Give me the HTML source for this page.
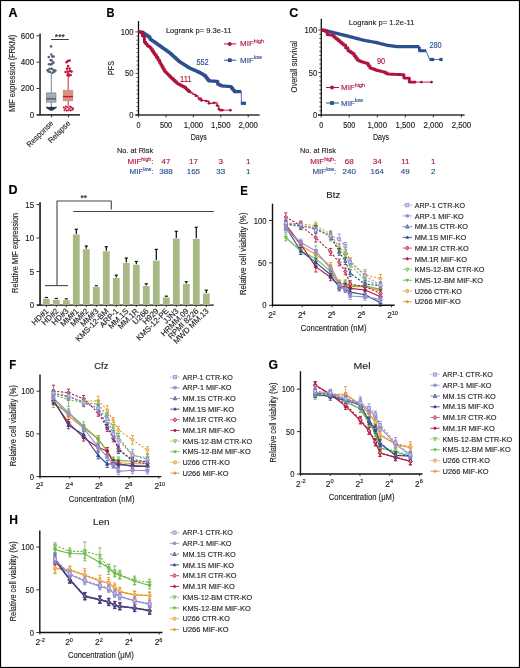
<!DOCTYPE html>
<html><head><meta charset="utf-8"><style>
html,body{margin:0;padding:0;background:#fff;}
svg{display:block;font-family:"Liberation Sans",sans-serif;will-change:transform;}
</style></head><body>
<svg width="520" height="668" viewBox="0 0 520 668">
<rect x="0" y="0" width="520" height="668" fill="#fff"/>
<text x="8.60" y="17.20" font-size="12.5" fill="#000" stroke="#000" stroke-width="0.15" font-weight="bold">A</text>
<text x="15.20" y="73.30" font-size="8.8" fill="#231f20" stroke="#231f20" stroke-width="0.15" text-anchor="middle" textLength="77.00" lengthAdjust="spacingAndGlyphs" transform="rotate(-90 15.20 73.30)">MIF expression (FRKM)</text>
<text x="34.20" y="38.78" font-size="8.4" fill="#231f20" stroke="#231f20" stroke-width="0.15" text-anchor="end" textLength="13.35" lengthAdjust="spacingAndGlyphs">600</text>
<line x1="36.50" y1="35.78" x2="39.70" y2="35.78" stroke="#231f20" stroke-width="0.9"/>
<text x="34.20" y="65.12" font-size="8.4" fill="#231f20" stroke="#231f20" stroke-width="0.15" text-anchor="end" textLength="13.35" lengthAdjust="spacingAndGlyphs">400</text>
<line x1="36.50" y1="62.12" x2="39.70" y2="62.12" stroke="#231f20" stroke-width="0.9"/>
<text x="34.20" y="91.46" font-size="8.4" fill="#231f20" stroke="#231f20" stroke-width="0.15" text-anchor="end" textLength="13.35" lengthAdjust="spacingAndGlyphs">200</text>
<line x1="36.50" y1="88.46" x2="39.70" y2="88.46" stroke="#231f20" stroke-width="0.9"/>
<text x="34.20" y="117.80" font-size="8.4" fill="#231f20" stroke="#231f20" stroke-width="0.15" text-anchor="end" textLength="4.45" lengthAdjust="spacingAndGlyphs">0</text>
<line x1="36.50" y1="114.80" x2="39.70" y2="114.80" stroke="#231f20" stroke-width="0.9"/>
<line x1="40.05" y1="33.50" x2="40.05" y2="115.60" stroke="#444" stroke-width="1.8"/>
<line x1="36.90" y1="114.90" x2="80.00" y2="114.90" stroke="#3c3c3c" stroke-width="1.7"/>
<line x1="51.60" y1="114.90" x2="51.60" y2="117.40" stroke="#231f20" stroke-width="0.9"/>
<line x1="68.50" y1="114.90" x2="68.50" y2="117.40" stroke="#231f20" stroke-width="0.9"/>
<text x="53.80" y="123.80" font-size="8.0" fill="#231f20" stroke="#231f20" stroke-width="0.15" text-anchor="end" textLength="34.00" lengthAdjust="spacingAndGlyphs" transform="rotate(-45 53.80 123.80)">Response</text>
<text x="71.00" y="123.80" font-size="8.0" fill="#231f20" stroke="#231f20" stroke-width="0.15" text-anchor="end" textLength="28.00" lengthAdjust="spacingAndGlyphs" transform="rotate(-45 71.00 123.80)">Relapse</text>
<line x1="51.20" y1="39.50" x2="68.70" y2="39.50" stroke="#3a3a3a" stroke-width="1.0"/>
<text x="59.80" y="39.60" font-size="8.5" fill="#222" stroke="#222" stroke-width="0.15" text-anchor="middle">***</text>
<line x1="51.30" y1="72.90" x2="51.30" y2="92.80" stroke="#6f7788" stroke-width="0.9"/>
<line x1="51.30" y1="102.20" x2="51.30" y2="107.00" stroke="#6f7788" stroke-width="0.9"/>
<rect x="46.30" y="92.90" width="9.70" height="9.30" fill="#a2a7b4" stroke="#6f7788" stroke-width="0.6"/>
<line x1="46.30" y1="98.80" x2="56.00" y2="98.80" stroke="#596073" stroke-width="1.5"/>
<line x1="46.30" y1="95.20" x2="56.00" y2="95.20" stroke="#b8bcc6" stroke-width="0.5"/>
<line x1="46.30" y1="101.00" x2="56.00" y2="101.00" stroke="#b8bcc6" stroke-width="0.5"/>
<path d="M45.8,106.6 Q48.5,107.6 51.3,106.4 Q54.2,107.6 57.0,106.6 L56.2,108.2 L52.2,110.8 L50.4,110.8 L46.5,108.2 Z" fill="#2c3850"/>
<circle cx="51.10" cy="46.40" r="1.3" fill="#56607a" stroke="none" stroke-width="0"/>
<circle cx="51.30" cy="54.50" r="1.3" fill="#56607a" stroke="none" stroke-width="0"/>
<circle cx="48.80" cy="57.00" r="1.3" fill="#56607a" stroke="none" stroke-width="0"/>
<circle cx="52.30" cy="56.60" r="1.3" fill="#56607a" stroke="none" stroke-width="0"/>
<circle cx="53.60" cy="56.50" r="1.3" fill="#56607a" stroke="none" stroke-width="0"/>
<circle cx="50.50" cy="60.00" r="1.3" fill="#56607a" stroke="none" stroke-width="0"/>
<circle cx="51.80" cy="60.50" r="1.3" fill="#56607a" stroke="none" stroke-width="0"/>
<circle cx="49.00" cy="64.30" r="1.3" fill="#56607a" stroke="none" stroke-width="0"/>
<circle cx="51.00" cy="64.50" r="1.3" fill="#56607a" stroke="none" stroke-width="0"/>
<circle cx="53.50" cy="62.60" r="1.3" fill="#56607a" stroke="none" stroke-width="0"/>
<circle cx="52.20" cy="63.60" r="1.3" fill="#56607a" stroke="none" stroke-width="0"/>
<circle cx="47.60" cy="70.30" r="1.3" fill="#56607a" stroke="none" stroke-width="0"/>
<circle cx="49.50" cy="69.00" r="1.3" fill="#56607a" stroke="none" stroke-width="0"/>
<circle cx="51.60" cy="68.60" r="1.3" fill="#56607a" stroke="none" stroke-width="0"/>
<circle cx="53.50" cy="70.00" r="1.3" fill="#56607a" stroke="none" stroke-width="0"/>
<circle cx="55.40" cy="70.50" r="1.3" fill="#56607a" stroke="none" stroke-width="0"/>
<circle cx="50.00" cy="72.00" r="1.3" fill="#56607a" stroke="none" stroke-width="0"/>
<circle cx="52.60" cy="72.80" r="1.3" fill="#56607a" stroke="none" stroke-width="0"/>
<circle cx="48.50" cy="71.50" r="1.3" fill="#56607a" stroke="none" stroke-width="0"/>
<circle cx="54.30" cy="71.80" r="1.3" fill="#56607a" stroke="none" stroke-width="0"/>
<line x1="68.20" y1="75.10" x2="68.20" y2="90.10" stroke="#b8193c" stroke-width="0.9"/>
<line x1="68.20" y1="100.90" x2="68.20" y2="106.60" stroke="#b8193c" stroke-width="0.9"/>
<rect x="63.10" y="90.10" width="9.80" height="10.80" fill="#d49482" stroke="#c98673" stroke-width="0.5"/>
<line x1="63.10" y1="96.60" x2="72.90" y2="96.60" stroke="#b8193c" stroke-width="1.4"/>
<circle cx="66.60" cy="62.20" r="1.3" fill="#b8193c" stroke="none" stroke-width="0"/>
<circle cx="67.80" cy="61.00" r="1.3" fill="#b8193c" stroke="none" stroke-width="0"/>
<circle cx="69.60" cy="60.50" r="1.3" fill="#b8193c" stroke="none" stroke-width="0"/>
<circle cx="68.10" cy="66.00" r="1.3" fill="#b8193c" stroke="none" stroke-width="0"/>
<circle cx="67.00" cy="68.60" r="1.3" fill="#b8193c" stroke="none" stroke-width="0"/>
<circle cx="69.60" cy="68.50" r="1.3" fill="#b8193c" stroke="none" stroke-width="0"/>
<circle cx="65.60" cy="72.00" r="1.3" fill="#b8193c" stroke="none" stroke-width="0"/>
<circle cx="67.60" cy="71.50" r="1.3" fill="#b8193c" stroke="none" stroke-width="0"/>
<circle cx="70.00" cy="71.00" r="1.3" fill="#b8193c" stroke="none" stroke-width="0"/>
<circle cx="71.50" cy="71.60" r="1.3" fill="#b8193c" stroke="none" stroke-width="0"/>
<circle cx="67.60" cy="75.20" r="1.3" fill="#b8193c" stroke="none" stroke-width="0"/>
<circle cx="69.00" cy="75.60" r="1.3" fill="#b8193c" stroke="none" stroke-width="0"/>
<circle cx="70.60" cy="75.00" r="1.3" fill="#b8193c" stroke="none" stroke-width="0"/>
<circle cx="68.20" cy="73.50" r="1.3" fill="#b8193c" stroke="none" stroke-width="0"/>
<circle cx="63.80" cy="107.50" r="1.05" fill="#b8193c" stroke="none" stroke-width="0"/>
<circle cx="65.50" cy="108.80" r="1.05" fill="#b8193c" stroke="none" stroke-width="0"/>
<circle cx="67.50" cy="107.20" r="1.05" fill="#b8193c" stroke="none" stroke-width="0"/>
<circle cx="69.30" cy="108.50" r="1.05" fill="#b8193c" stroke="none" stroke-width="0"/>
<circle cx="71.20" cy="107.50" r="1.05" fill="#b8193c" stroke="none" stroke-width="0"/>
<circle cx="73.00" cy="108.30" r="1.05" fill="#b8193c" stroke="none" stroke-width="0"/>
<circle cx="64.50" cy="110.20" r="1.05" fill="#b8193c" stroke="none" stroke-width="0"/>
<circle cx="66.80" cy="110.60" r="1.05" fill="#b8193c" stroke="none" stroke-width="0"/>
<circle cx="68.80" cy="110.20" r="1.05" fill="#b8193c" stroke="none" stroke-width="0"/>
<circle cx="70.80" cy="110.40" r="1.05" fill="#b8193c" stroke="none" stroke-width="0"/>
<circle cx="72.60" cy="109.80" r="1.05" fill="#b8193c" stroke="none" stroke-width="0"/>
<circle cx="65.80" cy="106.60" r="1.05" fill="#b8193c" stroke="none" stroke-width="0"/>
<circle cx="70.30" cy="106.60" r="1.05" fill="#b8193c" stroke="none" stroke-width="0"/>
<text x="106.60" y="17.20" font-size="12.5" fill="#000" stroke="#000" stroke-width="0.15" font-weight="bold" textLength="8.00" lengthAdjust="spacingAndGlyphs">B</text>
<line x1="138.50" y1="21.00" x2="138.50" y2="115.90" stroke="#111" stroke-width="1.3"/>
<line x1="135.30" y1="115.00" x2="259.71" y2="115.00" stroke="#333" stroke-width="1.5"/>
<line x1="135.50" y1="114.90" x2="138.50" y2="114.90" stroke="#231f20" stroke-width="0.8"/>
<line x1="136.50" y1="110.75" x2="138.50" y2="110.75" stroke="#231f20" stroke-width="0.8"/>
<line x1="136.50" y1="106.60" x2="138.50" y2="106.60" stroke="#231f20" stroke-width="0.8"/>
<line x1="136.50" y1="102.45" x2="138.50" y2="102.45" stroke="#231f20" stroke-width="0.8"/>
<line x1="136.50" y1="98.30" x2="138.50" y2="98.30" stroke="#231f20" stroke-width="0.8"/>
<line x1="136.50" y1="94.15" x2="138.50" y2="94.15" stroke="#231f20" stroke-width="0.8"/>
<line x1="136.50" y1="90.00" x2="138.50" y2="90.00" stroke="#231f20" stroke-width="0.8"/>
<line x1="136.50" y1="85.85" x2="138.50" y2="85.85" stroke="#231f20" stroke-width="0.8"/>
<line x1="136.50" y1="81.70" x2="138.50" y2="81.70" stroke="#231f20" stroke-width="0.8"/>
<line x1="136.50" y1="77.55" x2="138.50" y2="77.55" stroke="#231f20" stroke-width="0.8"/>
<line x1="135.50" y1="73.40" x2="138.50" y2="73.40" stroke="#231f20" stroke-width="0.8"/>
<line x1="136.50" y1="69.25" x2="138.50" y2="69.25" stroke="#231f20" stroke-width="0.8"/>
<line x1="136.50" y1="65.10" x2="138.50" y2="65.10" stroke="#231f20" stroke-width="0.8"/>
<line x1="136.50" y1="60.95" x2="138.50" y2="60.95" stroke="#231f20" stroke-width="0.8"/>
<line x1="136.50" y1="56.80" x2="138.50" y2="56.80" stroke="#231f20" stroke-width="0.8"/>
<line x1="136.50" y1="52.65" x2="138.50" y2="52.65" stroke="#231f20" stroke-width="0.8"/>
<line x1="136.50" y1="48.50" x2="138.50" y2="48.50" stroke="#231f20" stroke-width="0.8"/>
<line x1="136.50" y1="44.35" x2="138.50" y2="44.35" stroke="#231f20" stroke-width="0.8"/>
<line x1="136.50" y1="40.20" x2="138.50" y2="40.20" stroke="#231f20" stroke-width="0.8"/>
<line x1="136.50" y1="36.05" x2="138.50" y2="36.05" stroke="#231f20" stroke-width="0.8"/>
<line x1="135.50" y1="31.90" x2="138.50" y2="31.90" stroke="#231f20" stroke-width="0.8"/>
<text x="133.60" y="117.90" font-size="8.4" fill="#231f20" stroke="#231f20" stroke-width="0.15" text-anchor="end" textLength="4.25" lengthAdjust="spacingAndGlyphs">0</text>
<text x="133.60" y="76.40" font-size="8.4" fill="#231f20" stroke="#231f20" stroke-width="0.15" text-anchor="end" textLength="8.50" lengthAdjust="spacingAndGlyphs">50</text>
<text x="133.60" y="34.90" font-size="8.4" fill="#231f20" stroke="#231f20" stroke-width="0.15" text-anchor="end" textLength="12.75" lengthAdjust="spacingAndGlyphs">100</text>
<line x1="138.60" y1="114.90" x2="138.60" y2="117.40" stroke="#231f20" stroke-width="0.9"/>
<text x="138.60" y="127.80" font-size="8.2" fill="#231f20" stroke="#231f20" stroke-width="0.15" text-anchor="middle" textLength="4.05" lengthAdjust="spacingAndGlyphs">0</text>
<line x1="166.00" y1="114.90" x2="166.00" y2="117.40" stroke="#231f20" stroke-width="0.9"/>
<text x="166.00" y="127.80" font-size="8.2" fill="#231f20" stroke="#231f20" stroke-width="0.15" text-anchor="middle" textLength="12.15" lengthAdjust="spacingAndGlyphs">500</text>
<line x1="193.40" y1="114.90" x2="193.40" y2="117.40" stroke="#231f20" stroke-width="0.9"/>
<text x="193.40" y="127.80" font-size="8.2" fill="#231f20" stroke="#231f20" stroke-width="0.15" text-anchor="middle" textLength="19.50" lengthAdjust="spacingAndGlyphs">1,000</text>
<line x1="220.80" y1="114.90" x2="220.80" y2="117.40" stroke="#231f20" stroke-width="0.9"/>
<text x="220.80" y="127.80" font-size="8.2" fill="#231f20" stroke="#231f20" stroke-width="0.15" text-anchor="middle" textLength="19.50" lengthAdjust="spacingAndGlyphs">1,500</text>
<line x1="248.20" y1="114.90" x2="248.20" y2="117.40" stroke="#231f20" stroke-width="0.9"/>
<text x="248.20" y="127.80" font-size="8.2" fill="#231f20" stroke="#231f20" stroke-width="0.15" text-anchor="middle" textLength="19.50" lengthAdjust="spacingAndGlyphs">2,000</text>
<text x="113.60" y="68.00" font-size="8.4" fill="#231f20" stroke="#231f20" stroke-width="0.15" text-anchor="middle" textLength="13.80" lengthAdjust="spacingAndGlyphs" transform="rotate(-90 113.60 68.00)">PFS</text>
<text x="198.80" y="140.40" font-size="9.3" fill="#231f20" stroke="#231f20" stroke-width="0.15" text-anchor="middle" textLength="16.10" lengthAdjust="spacingAndGlyphs">Days</text>
<text x="165.90" y="32.80" font-size="8.0" fill="#231f20" stroke="#231f20" stroke-width="0.15" textLength="65.60" lengthAdjust="spacingAndGlyphs">Logrank p= 9.3e-11</text>
<line x1="224.10" y1="43.90" x2="236.20" y2="43.90" stroke="#b0143c" stroke-width="1"/>
<circle cx="229.80" cy="43.90" r="2.0" fill="#b0143c" stroke="none" stroke-width="0"/>
<text x="240" y="46.4" font-size="8" fill="#b0143c" stroke="#b0143c" stroke-width="0.15">MIF<tspan font-size="5.4" dy="-3.2">high</tspan></text>
<line x1="224.10" y1="60.20" x2="236.20" y2="60.20" stroke="#2c4f8f" stroke-width="1"/>
<rect x="227.90" y="58.30" width="3.80" height="3.80" fill="#2c4f8f" stroke="none" stroke-width="0"/>
<text x="240" y="62.6" font-size="8" fill="#2c4f8f" stroke="#2c4f8f" stroke-width="0.15">MIF<tspan font-size="5.4" dy="-3.2">low</tspan></text>
<text x="196.40" y="64.80" font-size="8.2" fill="#2c4f8f" stroke="#2c4f8f" stroke-width="0.15" textLength="12.30" lengthAdjust="spacingAndGlyphs">552</text>
<text x="180.00" y="82.30" font-size="8.2" fill="#b0143c" stroke="#b0143c" stroke-width="0.15" textLength="11.50" lengthAdjust="spacingAndGlyphs">111</text>
<polyline points="138.50,31.90 140.11,31.90 140.11,31.98 140.11,31.98 141.72,31.98 141.72,32.07 141.72,32.07 143.08,32.07 143.08,33.03 143.08,33.03 144.43,33.03 144.43,33.99 144.43,33.99 145.78,33.99 145.78,34.95 145.78,34.95 147.14,34.95 147.14,35.92 147.14,35.92 148.49,35.92 148.49,36.88 148.49,36.88 150.02,36.88 150.02,39.37 150.02,39.37 151.39,39.37 151.39,40.31 151.39,40.31 152.75,40.31 152.75,41.24 152.75,41.24 154.12,41.24 154.12,42.18 154.12,42.18 155.48,42.18 155.48,43.12 155.48,43.12 156.85,43.12 156.85,44.05 156.85,44.05 158.21,44.05 158.21,44.99 158.21,44.99 159.58,44.99 159.58,45.93 159.58,45.93 160.78,45.93 160.78,46.78 160.78,46.78 161.98,46.78 161.98,47.63 161.98,47.63 163.18,47.63 163.18,48.48 163.18,48.48 164.38,48.48 164.38,49.33 164.38,49.33 165.58,49.33 165.58,50.18 165.58,50.18 166.78,50.18 166.78,51.03 166.78,51.03 167.98,51.03 167.98,51.88 167.98,51.88 169.19,51.88 169.19,52.73 169.19,52.73 170.39,52.73 170.39,53.82 170.39,53.82 171.59,53.82 171.59,54.91 171.59,54.91 172.79,54.91 172.79,56.00 172.79,56.00 173.99,56.00 173.99,57.09 173.99,57.09 175.19,57.09 175.19,58.18 175.19,58.18 176.39,58.18 176.39,59.27 176.39,59.27 177.59,59.27 177.59,60.36 177.59,60.36 178.79,60.36 178.79,61.45 178.79,61.45 180.01,61.45 180.01,62.23 180.01,62.23 181.22,62.23 181.22,63.00 181.22,63.00 182.44,63.00 182.44,63.78 182.44,63.78 183.65,63.78 183.65,64.56 183.65,64.56 184.87,64.56 184.87,65.34 184.87,65.34 186.08,65.34 186.08,66.12 186.08,66.12 187.30,66.12 187.30,66.89 187.30,66.89 188.51,66.89 188.51,67.67 188.51,67.67 189.72,67.67 189.72,68.23 189.72,68.23 190.93,68.23 190.93,68.78 190.93,68.78 192.14,68.78 192.14,69.33 192.14,69.33 193.35,69.33 193.35,69.89 193.35,69.89 194.57,69.89 194.57,70.44 194.57,70.44 195.78,70.44 195.78,70.99 195.78,70.99 197.21,70.99 197.21,71.70 197.21,71.70 198.64,71.70 198.64,72.40 198.64,72.40 200.08,72.40 200.08,73.11 200.08,73.11 201.51,73.11 201.51,73.81 201.51,73.81 202.96,73.81 202.96,74.73 202.96,74.73 204.40,74.73 204.40,75.64 204.40,75.64 205.77,75.64 205.77,77.38 205.77,77.38 207.13,77.38 207.13,79.13 207.13,79.13 208.50,79.13 208.50,80.87 208.50,80.87 209.87,80.87 209.87,80.95 209.87,80.95 211.25,80.95 211.25,81.04 211.25,81.04 212.62,81.04 212.62,81.12 212.62,81.12 214.00,81.12 214.00,81.20 214.00,81.20 215.38,81.20 215.38,81.29 215.38,81.29 217.72,81.29 217.72,84.19 217.72,84.19 219.05,84.19 219.05,84.80 219.05,84.80 220.38,84.80 220.38,85.41 220.38,85.41 221.71,85.41 221.71,86.02 221.71,86.02 222.96,86.02 222.96,86.10 222.96,86.10 224.20,86.10 224.20,86.18 224.20,86.18 225.45,86.18 225.45,86.27 225.45,86.27 226.70,86.27 226.70,86.35 226.70,86.35 227.94,86.35 227.94,86.43 227.94,86.43 229.19,86.43 229.19,86.51 229.19,86.51 231.48,86.51 231.48,88.34 231.48,88.34 232.93,88.34 232.93,90.00 232.93,90.00 234.38,90.00 234.38,91.66 234.38,91.66 235.76,91.66 235.76,91.66 235.76,91.66 237.15,91.66 237.15,91.66 237.15,91.66 238.54,91.66 238.54,91.66 238.54,91.66 239.92,91.66 239.92,91.66 239.92,91.66 241.31,91.66 241.31,91.66" fill="none" stroke="#2c4f8f" stroke-width="3.2" stroke-linejoin="round"/>
<line x1="241.31" y1="91.66" x2="241.31" y2="103.28" stroke="#2c4f8f" stroke-width="0.8"/>
<rect x="240.88" y="101.68" width="5.13" height="3.20" fill="#2c4f8f" stroke="none" stroke-width="0"/>
<polyline points="138.50,31.90 140.68,31.90 140.68,32.73 140.68,32.73 142.38,32.73 142.38,36.05 142.38,36.05 144.40,36.05 144.40,42.19 144.40,42.19 145.76,42.19 145.76,43.89 145.76,43.89 147.13,43.89 147.13,45.60 147.13,45.60 148.57,45.60 148.57,46.63 148.57,46.63 150.02,46.63 150.02,47.67 150.02,47.67 151.22,47.67 151.22,49.50 151.22,49.50 152.42,49.50 152.42,51.32 152.42,51.32 153.62,51.32 153.62,53.15 153.62,53.15 154.83,53.15 154.83,54.97 154.83,54.97 156.41,54.97 156.41,57.55 156.41,57.55 157.99,57.55 157.99,60.12 157.99,60.12 159.58,60.12 159.58,62.69 159.58,62.69 160.78,62.69 160.78,64.85 160.78,64.85 161.98,64.85 161.98,67.01 161.98,67.01 163.18,67.01 163.18,69.17 163.18,69.17 164.38,69.17 164.38,71.33 164.38,71.33 165.66,71.33 165.66,72.60 165.66,72.60 166.95,72.60 166.95,73.87 166.95,73.87 168.23,73.87 168.23,75.14 168.23,75.14 169.51,75.14 169.51,76.42 169.51,76.42 170.80,76.42 170.80,77.69 170.80,77.69 172.08,77.69 172.08,78.96 172.08,78.96 173.63,78.96 173.63,80.43 173.63,80.43 175.17,80.43 175.17,81.89 175.17,81.89 176.72,81.89 176.72,83.36 176.72,83.36 178.00,83.36 178.00,84.05 178.00,84.05 179.29,84.05 179.29,84.74 179.29,84.74 180.57,84.74 180.57,85.44 180.57,85.44 181.85,85.44 181.85,86.13 181.85,86.13 183.14,86.13 183.14,86.82 183.14,86.82 184.42,86.82 184.42,87.51 184.42,87.51 185.81,87.51 185.81,88.86 185.81,88.86 187.20,88.86 187.20,90.21 187.20,90.21 188.60,90.21 188.60,91.56 188.60,91.56 189.99,91.56 189.99,92.91" fill="none" stroke="#b0143c" stroke-width="2.9" stroke-linejoin="round"/>
<polyline points="189.99,92.91 192.88,92.91 192.88,94.36 192.88,94.36 195.78,94.36 195.78,95.81 195.78,95.81 198.07,95.81 198.07,98.13 198.07,98.13 201.51,98.13 201.51,100.38 201.51,100.38 203.86,100.38 203.86,100.71 203.86,100.71 206.20,100.71 206.20,101.04 206.20,101.04 208.99,101.04 208.99,103.36 208.99,103.36 211.58,103.36 211.58,103.07 211.58,103.07 214.18,103.07 214.18,102.78 214.18,102.78 217.12,102.78 217.12,105.60 217.12,105.60 218.82,105.60 218.82,109.59 218.82,109.59 222.31,109.59 222.31,110.17" fill="none" stroke="#b0143c" stroke-width="1.2" stroke-linejoin="round"/>
<circle cx="195.78" cy="95.81" r="1.35" fill="#b0143c" stroke="none" stroke-width="0"/>
<circle cx="199.65" cy="99.13" r="1.35" fill="#b0143c" stroke="none" stroke-width="0"/>
<circle cx="201.51" cy="100.38" r="1.35" fill="#b0143c" stroke="none" stroke-width="0"/>
<circle cx="206.20" cy="101.04" r="1.35" fill="#b0143c" stroke="none" stroke-width="0"/>
<circle cx="208.99" cy="103.36" r="1.35" fill="#b0143c" stroke="none" stroke-width="0"/>
<circle cx="214.18" cy="102.78" r="1.35" fill="#b0143c" stroke="none" stroke-width="0"/>
<circle cx="217.12" cy="105.60" r="1.35" fill="#b0143c" stroke="none" stroke-width="0"/>
<circle cx="218.82" cy="109.09" r="1.35" fill="#b0143c" stroke="none" stroke-width="0"/>
<circle cx="220.40" cy="110.17" r="1.35" fill="#b0143c" stroke="none" stroke-width="0"/>
<circle cx="222.31" cy="110.17" r="1.35" fill="#b0143c" stroke="none" stroke-width="0"/>
<line x1="222.31" y1="110.17" x2="230.39" y2="110.17" stroke="#b0143c" stroke-width="0.9"/>
<circle cx="230.39" cy="110.17" r="1.4" fill="#b0143c" stroke="none" stroke-width="0"/>
<text x="116.90" y="153.20" font-size="8.0" fill="#231f20" stroke="#231f20" stroke-width="0.15" textLength="36.20" lengthAdjust="spacingAndGlyphs">No. at Risk</text>
<text x="153.4" y="164.2" font-size="8" fill="#b0143c" stroke="#b0143c" stroke-width="0.15" text-anchor="end">MIF<tspan font-size="5.2" dy="-3">high</tspan><tspan dy="3">:</tspan></text>
<text x="153.4" y="173.5" font-size="8" fill="#2c4f8f" stroke="#2c4f8f" stroke-width="0.15" text-anchor="end">MIF<tspan font-size="5.2" dy="-3">low</tspan><tspan dy="3">:</tspan></text>
<text x="166.00" y="164.30" font-size="8.0" fill="#b0143c" stroke="#b0143c" stroke-width="0.15" text-anchor="middle">47</text>
<text x="166.00" y="173.60" font-size="8.0" fill="#2c4f8f" stroke="#2c4f8f" stroke-width="0.15" text-anchor="middle">388</text>
<text x="193.40" y="164.30" font-size="8.0" fill="#b0143c" stroke="#b0143c" stroke-width="0.15" text-anchor="middle">17</text>
<text x="193.40" y="173.60" font-size="8.0" fill="#2c4f8f" stroke="#2c4f8f" stroke-width="0.15" text-anchor="middle">165</text>
<text x="220.80" y="164.30" font-size="8.0" fill="#b0143c" stroke="#b0143c" stroke-width="0.15" text-anchor="middle">3</text>
<text x="220.80" y="173.60" font-size="8.0" fill="#2c4f8f" stroke="#2c4f8f" stroke-width="0.15" text-anchor="middle">33</text>
<text x="248.20" y="164.30" font-size="8.0" fill="#b0143c" stroke="#b0143c" stroke-width="0.15" text-anchor="middle">1</text>
<text x="248.20" y="173.60" font-size="8.0" fill="#2c4f8f" stroke="#2c4f8f" stroke-width="0.15" text-anchor="middle">1</text>
<text x="289.30" y="17.20" font-size="12.5" fill="#000" stroke="#000" stroke-width="0.15" font-weight="bold">C</text>
<line x1="321.30" y1="18.70" x2="321.30" y2="116.00" stroke="#111" stroke-width="1.3"/>
<line x1="318.10" y1="115.10" x2="464.60" y2="115.10" stroke="#333" stroke-width="1.5"/>
<line x1="318.30" y1="115.00" x2="321.30" y2="115.00" stroke="#231f20" stroke-width="0.8"/>
<line x1="319.30" y1="110.75" x2="321.30" y2="110.75" stroke="#231f20" stroke-width="0.8"/>
<line x1="319.30" y1="106.50" x2="321.30" y2="106.50" stroke="#231f20" stroke-width="0.8"/>
<line x1="319.30" y1="102.25" x2="321.30" y2="102.25" stroke="#231f20" stroke-width="0.8"/>
<line x1="319.30" y1="98.00" x2="321.30" y2="98.00" stroke="#231f20" stroke-width="0.8"/>
<line x1="319.30" y1="93.75" x2="321.30" y2="93.75" stroke="#231f20" stroke-width="0.8"/>
<line x1="319.30" y1="89.50" x2="321.30" y2="89.50" stroke="#231f20" stroke-width="0.8"/>
<line x1="319.30" y1="85.25" x2="321.30" y2="85.25" stroke="#231f20" stroke-width="0.8"/>
<line x1="319.30" y1="81.00" x2="321.30" y2="81.00" stroke="#231f20" stroke-width="0.8"/>
<line x1="319.30" y1="76.75" x2="321.30" y2="76.75" stroke="#231f20" stroke-width="0.8"/>
<line x1="318.30" y1="72.50" x2="321.30" y2="72.50" stroke="#231f20" stroke-width="0.8"/>
<line x1="319.30" y1="68.25" x2="321.30" y2="68.25" stroke="#231f20" stroke-width="0.8"/>
<line x1="319.30" y1="64.00" x2="321.30" y2="64.00" stroke="#231f20" stroke-width="0.8"/>
<line x1="319.30" y1="59.75" x2="321.30" y2="59.75" stroke="#231f20" stroke-width="0.8"/>
<line x1="319.30" y1="55.50" x2="321.30" y2="55.50" stroke="#231f20" stroke-width="0.8"/>
<line x1="319.30" y1="51.25" x2="321.30" y2="51.25" stroke="#231f20" stroke-width="0.8"/>
<line x1="319.30" y1="47.00" x2="321.30" y2="47.00" stroke="#231f20" stroke-width="0.8"/>
<line x1="319.30" y1="42.75" x2="321.30" y2="42.75" stroke="#231f20" stroke-width="0.8"/>
<line x1="319.30" y1="38.50" x2="321.30" y2="38.50" stroke="#231f20" stroke-width="0.8"/>
<line x1="319.30" y1="34.25" x2="321.30" y2="34.25" stroke="#231f20" stroke-width="0.8"/>
<line x1="318.30" y1="30.00" x2="321.30" y2="30.00" stroke="#231f20" stroke-width="0.8"/>
<text x="317.20" y="118.00" font-size="8.4" fill="#231f20" stroke="#231f20" stroke-width="0.15" text-anchor="end" textLength="4.25" lengthAdjust="spacingAndGlyphs">0</text>
<text x="317.20" y="75.50" font-size="8.4" fill="#231f20" stroke="#231f20" stroke-width="0.15" text-anchor="end" textLength="8.50" lengthAdjust="spacingAndGlyphs">50</text>
<text x="317.20" y="33.00" font-size="8.4" fill="#231f20" stroke="#231f20" stroke-width="0.15" text-anchor="end" textLength="12.75" lengthAdjust="spacingAndGlyphs">100</text>
<line x1="321.15" y1="115.00" x2="321.15" y2="117.50" stroke="#231f20" stroke-width="0.9"/>
<text x="321.15" y="127.80" font-size="8.2" fill="#231f20" stroke="#231f20" stroke-width="0.15" text-anchor="middle" textLength="4.05" lengthAdjust="spacingAndGlyphs">0</text>
<line x1="349.20" y1="115.00" x2="349.20" y2="117.50" stroke="#231f20" stroke-width="0.9"/>
<text x="349.20" y="127.80" font-size="8.2" fill="#231f20" stroke="#231f20" stroke-width="0.15" text-anchor="middle" textLength="12.15" lengthAdjust="spacingAndGlyphs">500</text>
<line x1="377.25" y1="115.00" x2="377.25" y2="117.50" stroke="#231f20" stroke-width="0.9"/>
<text x="377.25" y="127.80" font-size="8.2" fill="#231f20" stroke="#231f20" stroke-width="0.15" text-anchor="middle" textLength="19.50" lengthAdjust="spacingAndGlyphs">1,000</text>
<line x1="405.30" y1="115.00" x2="405.30" y2="117.50" stroke="#231f20" stroke-width="0.9"/>
<text x="405.30" y="127.80" font-size="8.2" fill="#231f20" stroke="#231f20" stroke-width="0.15" text-anchor="middle" textLength="19.50" lengthAdjust="spacingAndGlyphs">1,500</text>
<line x1="433.35" y1="115.00" x2="433.35" y2="117.50" stroke="#231f20" stroke-width="0.9"/>
<text x="433.35" y="127.80" font-size="8.2" fill="#231f20" stroke="#231f20" stroke-width="0.15" text-anchor="middle" textLength="19.50" lengthAdjust="spacingAndGlyphs">2,000</text>
<line x1="461.40" y1="115.00" x2="461.40" y2="117.50" stroke="#231f20" stroke-width="0.9"/>
<text x="461.40" y="127.80" font-size="8.2" fill="#231f20" stroke="#231f20" stroke-width="0.15" text-anchor="middle" textLength="19.50" lengthAdjust="spacingAndGlyphs">2,500</text>
<text x="296.90" y="66.70" font-size="9.0" fill="#231f20" stroke="#231f20" stroke-width="0.15" text-anchor="middle" textLength="51.50" lengthAdjust="spacingAndGlyphs" transform="rotate(-90 296.90 66.70)">Overall survival</text>
<text x="381.00" y="140.40" font-size="9.3" fill="#231f20" stroke="#231f20" stroke-width="0.15" text-anchor="middle" textLength="16.10" lengthAdjust="spacingAndGlyphs">Days</text>
<text x="348.80" y="25.30" font-size="8.0" fill="#231f20" stroke="#231f20" stroke-width="0.15" textLength="65.70" lengthAdjust="spacingAndGlyphs">Logrank p= 1.2e-11</text>
<line x1="326.00" y1="87.50" x2="339.00" y2="87.50" stroke="#b0143c" stroke-width="1"/>
<circle cx="332.00" cy="87.50" r="2.0" fill="#b0143c" stroke="none" stroke-width="0"/>
<text x="341" y="90" font-size="8" fill="#b0143c" stroke="#b0143c" stroke-width="0.15">MIF<tspan font-size="5.4" dy="-3.2">high</tspan></text>
<line x1="326.00" y1="103.00" x2="339.00" y2="103.00" stroke="#2c4f8f" stroke-width="1"/>
<rect x="330.10" y="101.10" width="3.80" height="3.80" fill="#2c4f8f" stroke="none" stroke-width="0"/>
<text x="341" y="105.5" font-size="8" fill="#2c4f8f" stroke="#2c4f8f" stroke-width="0.15">MIF<tspan font-size="5.4" dy="-3.2">low</tspan></text>
<text x="429.50" y="47.50" font-size="8.6" fill="#2c4f8f" stroke="#2c4f8f" stroke-width="0.15" textLength="12.10" lengthAdjust="spacingAndGlyphs">280</text>
<text x="377.00" y="64.00" font-size="8.6" fill="#b0143c" stroke="#b0143c" stroke-width="0.15" textLength="8.20" lengthAdjust="spacingAndGlyphs">90</text>
<polyline points="321.30,30.00 323.35,30.00 323.35,30.42 323.35,30.42 325.40,30.42 325.40,30.85 325.40,30.85 327.45,30.85 327.45,31.28 327.45,31.28 329.50,31.28 329.50,31.70 329.50,31.70 331.15,31.70 331.15,32.12 331.15,32.12 332.81,32.12 332.81,32.55 332.81,32.55 334.47,32.55 334.47,32.98 334.47,32.98 336.13,32.98 336.13,33.40 336.13,33.40 337.78,33.40 337.78,33.83 337.78,33.83 339.44,33.83 339.44,34.25 339.44,34.25 341.10,34.25 341.10,34.67 341.10,34.67 343.02,34.67 343.02,35.16 343.02,35.16 344.93,35.16 344.93,35.64 344.93,35.64 346.85,35.64 346.85,36.12 346.85,36.12 348.76,36.12 348.76,36.60 348.76,36.60 350.68,36.60 350.68,37.08 350.68,37.08 352.60,37.08 352.60,37.57 352.60,37.57 354.25,37.57 354.25,37.99 354.25,37.99 355.91,37.99 355.91,38.42 355.91,38.42 357.57,38.42 357.57,38.84 357.57,38.84 359.23,38.84 359.23,39.27 359.23,39.27 360.88,39.27 360.88,39.69 360.88,39.69 362.54,39.69 362.54,40.12 362.54,40.12 364.20,40.12 364.20,40.54 364.20,40.54 366.00,40.54 366.00,40.85 366.00,40.85 367.79,40.85 367.79,41.16 367.79,41.16 369.59,41.16 369.59,41.48 369.59,41.48 371.39,41.48 371.39,41.79 371.39,41.79 373.18,41.79 373.18,42.10 373.18,42.10 374.98,42.10 374.98,42.41 374.98,42.41 376.71,42.41 376.71,42.83 376.71,42.83 378.44,42.83 378.44,43.26 378.44,43.26 380.17,43.26 380.17,43.69 380.17,43.69 381.89,43.69 381.89,44.11 381.89,44.11 383.62,44.11 383.62,44.53 383.62,44.53 385.35,44.53 385.35,44.96 385.35,44.96 387.08,44.96 387.08,45.38 387.08,45.38 388.96,45.38 388.96,45.64 388.96,45.64 390.84,45.64 390.84,45.89 390.84,45.89 392.72,45.89 392.72,46.15 392.72,46.15 394.60,46.15 394.60,46.41 394.60,46.41 396.49,46.41 396.49,46.66 396.49,46.66 398.25,46.66 398.25,46.66 398.25,46.66 400.01,46.66 400.01,46.66 400.01,46.66 401.78,46.66 401.78,46.66 401.78,46.66 403.54,46.66 403.54,46.66 403.54,46.66 405.31,46.66 405.31,46.66 405.31,46.66 407.07,46.66 407.07,46.66 407.07,46.66 408.83,46.66 408.83,46.66 408.83,46.66 410.60,46.66 410.60,46.66 410.60,46.66 412.36,46.66 412.36,46.66 412.36,46.66 414.13,46.66 414.13,46.66 414.13,46.66 415.89,46.66 415.89,46.66 415.89,46.66 417.66,46.66 417.66,46.66 417.66,46.66 419.42,46.66 419.42,46.66" fill="none" stroke="#2c4f8f" stroke-width="3.1" stroke-linejoin="round"/>
<polyline points="419.42,46.66 419.42,50.74 426.08,50.74" fill="none" stroke="#2c4f8f" stroke-width="2.9" stroke-linejoin="round"/>
<line x1="426.08" y1="50.74" x2="429.49" y2="59.50" stroke="#2c4f8f" stroke-width="0.8"/>
<rect x="429.49" y="57.90" width="4.73" height="3.20" fill="#2c4f8f" stroke="none" stroke-width="0"/>
<line x1="434.22" y1="59.50" x2="440.98" y2="59.50" stroke="#2c4f8f" stroke-width="0.8"/>
<rect x="439.38" y="57.90" width="3.20" height="3.20" fill="#2c4f8f" stroke="none" stroke-width="0"/>
<polyline points="321.30,30.00 323.09,30.00 323.09,30.59 323.09,30.59 324.88,30.59 324.88,31.19 324.88,31.19 327.19,31.19 327.19,34.67 327.19,34.67 328.73,34.67 328.73,34.87 328.73,34.87 330.26,34.87 330.26,35.07 330.26,35.07 331.81,35.07 331.81,35.27 331.81,35.27 333.36,35.27 333.36,36.60 333.36,36.60 334.92,36.60 334.92,37.93 334.92,37.93 336.48,37.93 336.48,39.27 336.48,39.27 338.21,39.27 338.21,40.73 338.21,40.73 339.94,40.73 339.94,42.20 339.94,42.20 341.68,42.20 341.68,43.66 341.68,43.66 343.41,43.66 343.41,45.13 343.41,45.13 345.69,45.13 345.69,47.98 345.69,47.98 347.98,47.98 347.98,50.83 347.98,50.83 349.51,50.83 349.51,51.79 349.51,51.79 351.06,51.79 351.06,52.75 351.06,52.75 352.60,52.75 352.60,53.72 352.60,53.72 354.13,53.72 354.13,55.84 354.13,55.84 355.68,55.84 355.68,57.97 355.68,57.97 357.22,57.97 357.22,60.09 357.22,60.09 358.95,60.09 358.95,60.94 358.95,60.94 360.68,60.94 360.68,61.79 360.68,61.79 362.62,61.79 362.62,62.36 362.62,62.36 364.57,62.36 364.57,62.92 364.57,62.92 366.51,62.92 366.51,63.49 366.51,63.49 368.22,63.49 368.22,65.83 368.22,65.83 369.92,65.83 369.92,68.16 369.92,68.16 371.65,68.16 371.65,68.72 371.65,68.72 373.38,68.72 373.38,69.27 373.38,69.27 374.98,69.27 374.98,70.03 374.98,70.03 376.61,70.03 376.61,70.43 376.61,70.43 378.24,70.43 378.24,70.82 378.24,70.82 379.86,70.82 379.86,71.21 379.86,71.21 381.49,71.21 381.49,71.60 381.49,71.60 383.12,71.60 383.12,71.99 383.12,71.99 385.10,71.99 385.10,73.01 385.10,73.01 387.08,73.01 387.08,74.03 387.08,74.03 388.72,74.03 388.72,74.11 388.72,74.11 390.37,74.11 390.37,74.18 390.37,74.18 392.01,74.18 392.01,74.26 392.01,74.26 393.66,74.26 393.66,74.33 393.66,74.33 395.30,74.33 395.30,74.41 395.30,74.41 396.94,74.41 396.94,74.48 396.94,74.48 398.59,74.48 398.59,74.56 398.59,74.56 400.23,74.56 400.23,74.63 400.23,74.63 401.88,74.63 401.88,74.71 401.88,74.71 403.91,74.71 403.91,78.11 403.91,78.11 405.62,78.11 405.62,78.11 405.62,78.11 407.32,78.11 407.32,78.11 407.32,78.11 409.30,78.11 409.30,82.10 409.30,82.10 410.98,82.10 410.98,82.10 410.98,82.10 412.66,82.10 412.66,82.10 412.66,82.10 414.33,82.10 414.33,82.10 414.33,82.10 416.01,82.10 416.01,82.10" fill="none" stroke="#b0143c" stroke-width="2.9" stroke-linejoin="round"/>
<line x1="416.01" y1="82.10" x2="431.52" y2="82.10" stroke="#b0143c" stroke-width="0.9"/>
<circle cx="421.40" cy="82.10" r="1.4" fill="#b0143c" stroke="none" stroke-width="0"/>
<circle cx="431.52" cy="82.10" r="1.4" fill="#b0143c" stroke="none" stroke-width="0"/>
<text x="300.00" y="153.20" font-size="8.0" fill="#231f20" stroke="#231f20" stroke-width="0.15" textLength="35.80" lengthAdjust="spacingAndGlyphs">No. at Risk</text>
<text x="336.2" y="164.2" font-size="8" fill="#b0143c" stroke="#b0143c" stroke-width="0.15" text-anchor="end">MIF<tspan font-size="5.2" dy="-3">high</tspan><tspan dy="3">:</tspan></text>
<text x="336.2" y="173.5" font-size="8" fill="#2c4f8f" stroke="#2c4f8f" stroke-width="0.15" text-anchor="end">MIF<tspan font-size="5.2" dy="-3">low</tspan><tspan dy="3">:</tspan></text>
<text x="349.20" y="164.30" font-size="8.0" fill="#b0143c" stroke="#b0143c" stroke-width="0.15" text-anchor="middle">68</text>
<text x="349.20" y="173.60" font-size="8.0" fill="#2c4f8f" stroke="#2c4f8f" stroke-width="0.15" text-anchor="middle">240</text>
<text x="377.25" y="164.30" font-size="8.0" fill="#b0143c" stroke="#b0143c" stroke-width="0.15" text-anchor="middle">34</text>
<text x="377.25" y="173.60" font-size="8.0" fill="#2c4f8f" stroke="#2c4f8f" stroke-width="0.15" text-anchor="middle">164</text>
<text x="405.30" y="164.30" font-size="8.0" fill="#b0143c" stroke="#b0143c" stroke-width="0.15" text-anchor="middle">11</text>
<text x="405.30" y="173.60" font-size="8.0" fill="#2c4f8f" stroke="#2c4f8f" stroke-width="0.15" text-anchor="middle">49</text>
<text x="433.35" y="164.30" font-size="8.0" fill="#b0143c" stroke="#b0143c" stroke-width="0.15" text-anchor="middle">1</text>
<text x="433.35" y="173.60" font-size="8.0" fill="#2c4f8f" stroke="#2c4f8f" stroke-width="0.15" text-anchor="middle">2</text>
<text x="8.60" y="193.90" font-size="12.5" fill="#000" stroke="#000" stroke-width="0.15" font-weight="bold">D</text>
<line x1="40.05" y1="202.20" x2="40.05" y2="305.50" stroke="#3a3a3a" stroke-width="1.9"/>
<line x1="36.90" y1="305.10" x2="213.80" y2="305.10" stroke="#111" stroke-width="1.3"/>
<line x1="36.50" y1="305.00" x2="39.50" y2="305.00" stroke="#231f20" stroke-width="0.9"/>
<text x="34.20" y="308.00" font-size="8.4" fill="#231f20" stroke="#231f20" stroke-width="0.15" text-anchor="end" textLength="4.45" lengthAdjust="spacingAndGlyphs">0</text>
<line x1="36.50" y1="271.50" x2="39.50" y2="271.50" stroke="#231f20" stroke-width="0.9"/>
<text x="34.20" y="274.50" font-size="8.4" fill="#231f20" stroke="#231f20" stroke-width="0.15" text-anchor="end" textLength="4.45" lengthAdjust="spacingAndGlyphs">5</text>
<line x1="36.50" y1="238.00" x2="39.50" y2="238.00" stroke="#231f20" stroke-width="0.9"/>
<text x="34.20" y="241.00" font-size="8.4" fill="#231f20" stroke="#231f20" stroke-width="0.15" text-anchor="end" textLength="8.90" lengthAdjust="spacingAndGlyphs">10</text>
<line x1="36.50" y1="204.50" x2="39.50" y2="204.50" stroke="#231f20" stroke-width="0.9"/>
<text x="34.20" y="207.50" font-size="8.4" fill="#231f20" stroke="#231f20" stroke-width="0.15" text-anchor="end" textLength="8.90" lengthAdjust="spacingAndGlyphs">15</text>
<text x="18.00" y="253.00" font-size="8.6" fill="#231f20" stroke="#231f20" stroke-width="0.15" text-anchor="middle" textLength="79.90" lengthAdjust="spacingAndGlyphs" transform="rotate(-90 18.00 253.00)">Relative MIF expression</text>
<rect x="42.90" y="298.80" width="6.80" height="6.20" fill="#a9b986" stroke="none" stroke-width="0"/>
<line x1="44.70" y1="297.50" x2="47.90" y2="297.50" stroke="#111" stroke-width="1.2"/>
<line x1="46.30" y1="305.00" x2="46.30" y2="307.00" stroke="#231f20" stroke-width="0.9"/>
<text x="49.10" y="311.60" font-size="7.9" fill="#231f20" stroke="#231f20" stroke-width="0.15" text-anchor="end" transform="rotate(-45 49.10 311.60)">HD#1</text>
<rect x="52.90" y="299.81" width="6.80" height="5.20" fill="#a9b986" stroke="none" stroke-width="0"/>
<line x1="54.70" y1="298.50" x2="57.90" y2="298.50" stroke="#111" stroke-width="1.2"/>
<line x1="56.30" y1="305.00" x2="56.30" y2="307.00" stroke="#231f20" stroke-width="0.9"/>
<text x="59.10" y="311.60" font-size="7.9" fill="#231f20" stroke="#231f20" stroke-width="0.15" text-anchor="end" transform="rotate(-45 59.10 311.60)">HD#2</text>
<rect x="62.90" y="300.14" width="6.80" height="4.86" fill="#a9b986" stroke="none" stroke-width="0"/>
<line x1="64.70" y1="298.84" x2="67.90" y2="298.84" stroke="#111" stroke-width="1.2"/>
<line x1="66.30" y1="305.00" x2="66.30" y2="307.00" stroke="#231f20" stroke-width="0.9"/>
<text x="69.10" y="311.60" font-size="7.9" fill="#231f20" stroke="#231f20" stroke-width="0.15" text-anchor="end" transform="rotate(-45 69.10 311.60)">HD#3</text>
<rect x="72.90" y="234.48" width="6.80" height="70.52" fill="#a9b986" stroke="none" stroke-width="0"/>
<line x1="76.30" y1="229.29" x2="76.30" y2="233.98" stroke="#111" stroke-width="1.25"/>
<line x1="74.70" y1="229.29" x2="77.90" y2="229.29" stroke="#111" stroke-width="1.2"/>
<line x1="76.30" y1="305.00" x2="76.30" y2="307.00" stroke="#231f20" stroke-width="0.9"/>
<text x="79.10" y="311.60" font-size="7.9" fill="#231f20" stroke="#231f20" stroke-width="0.15" text-anchor="end" transform="rotate(-45 79.10 311.60)">MM#1</text>
<rect x="82.90" y="249.22" width="6.80" height="55.78" fill="#a9b986" stroke="none" stroke-width="0"/>
<line x1="86.30" y1="246.04" x2="86.30" y2="248.72" stroke="#111" stroke-width="1.25"/>
<line x1="84.70" y1="246.04" x2="87.90" y2="246.04" stroke="#111" stroke-width="1.2"/>
<line x1="86.30" y1="305.00" x2="86.30" y2="307.00" stroke="#231f20" stroke-width="0.9"/>
<text x="89.10" y="311.60" font-size="7.9" fill="#231f20" stroke="#231f20" stroke-width="0.15" text-anchor="end" transform="rotate(-45 89.10 311.60)">MM#2</text>
<rect x="92.90" y="287.07" width="6.80" height="17.93" fill="#a9b986" stroke="none" stroke-width="0"/>
<line x1="94.70" y1="285.77" x2="97.90" y2="285.77" stroke="#111" stroke-width="1.2"/>
<line x1="96.30" y1="305.00" x2="96.30" y2="307.00" stroke="#231f20" stroke-width="0.9"/>
<text x="99.10" y="311.60" font-size="7.9" fill="#231f20" stroke="#231f20" stroke-width="0.15" text-anchor="end" transform="rotate(-45 99.10 311.60)">MM#3</text>
<rect x="102.90" y="251.23" width="6.80" height="53.77" fill="#a9b986" stroke="none" stroke-width="0"/>
<line x1="106.30" y1="246.71" x2="106.30" y2="250.73" stroke="#111" stroke-width="1.25"/>
<line x1="104.70" y1="246.71" x2="107.90" y2="246.71" stroke="#111" stroke-width="1.2"/>
<line x1="106.30" y1="305.00" x2="106.30" y2="307.00" stroke="#231f20" stroke-width="0.9"/>
<text x="109.10" y="311.60" font-size="7.9" fill="#231f20" stroke="#231f20" stroke-width="0.15" text-anchor="end" transform="rotate(-45 109.10 311.60)">KMS-12-BM</text>
<rect x="112.90" y="278.03" width="6.80" height="26.97" fill="#a9b986" stroke="none" stroke-width="0"/>
<line x1="116.30" y1="275.19" x2="116.30" y2="277.53" stroke="#111" stroke-width="1.25"/>
<line x1="114.70" y1="275.19" x2="117.90" y2="275.19" stroke="#111" stroke-width="1.2"/>
<line x1="116.30" y1="305.00" x2="116.30" y2="307.00" stroke="#231f20" stroke-width="0.9"/>
<text x="119.10" y="311.60" font-size="7.9" fill="#231f20" stroke="#231f20" stroke-width="0.15" text-anchor="end" transform="rotate(-45 119.10 311.60)">ARP-1</text>
<rect x="122.90" y="263.02" width="6.80" height="41.98" fill="#a9b986" stroke="none" stroke-width="0"/>
<line x1="126.30" y1="258.10" x2="126.30" y2="262.52" stroke="#111" stroke-width="1.25"/>
<line x1="124.70" y1="258.10" x2="127.90" y2="258.10" stroke="#111" stroke-width="1.2"/>
<line x1="126.30" y1="305.00" x2="126.30" y2="307.00" stroke="#231f20" stroke-width="0.9"/>
<text x="129.10" y="311.60" font-size="7.9" fill="#231f20" stroke="#231f20" stroke-width="0.15" text-anchor="end" transform="rotate(-45 129.10 311.60)">MM.1S</text>
<rect x="132.90" y="264.76" width="6.80" height="40.24" fill="#a9b986" stroke="none" stroke-width="0"/>
<line x1="136.30" y1="261.45" x2="136.30" y2="264.26" stroke="#111" stroke-width="1.25"/>
<line x1="134.70" y1="261.45" x2="137.90" y2="261.45" stroke="#111" stroke-width="1.2"/>
<line x1="136.30" y1="305.00" x2="136.30" y2="307.00" stroke="#231f20" stroke-width="0.9"/>
<text x="139.10" y="311.60" font-size="7.9" fill="#231f20" stroke="#231f20" stroke-width="0.15" text-anchor="end" transform="rotate(-45 139.10 311.60)">MM.1R</text>
<rect x="142.90" y="286.07" width="6.80" height="18.93" fill="#a9b986" stroke="none" stroke-width="0"/>
<line x1="146.30" y1="283.83" x2="146.30" y2="285.57" stroke="#111" stroke-width="1.25"/>
<line x1="144.70" y1="283.83" x2="147.90" y2="283.83" stroke="#111" stroke-width="1.2"/>
<line x1="146.30" y1="305.00" x2="146.30" y2="307.00" stroke="#231f20" stroke-width="0.9"/>
<text x="149.10" y="311.60" font-size="7.9" fill="#231f20" stroke="#231f20" stroke-width="0.15" text-anchor="end" transform="rotate(-45 149.10 311.60)">U266</text>
<rect x="152.90" y="260.61" width="6.80" height="44.39" fill="#a9b986" stroke="none" stroke-width="0"/>
<line x1="156.30" y1="249.39" x2="156.30" y2="260.11" stroke="#111" stroke-width="1.25"/>
<line x1="154.70" y1="249.39" x2="157.90" y2="249.39" stroke="#111" stroke-width="1.2"/>
<line x1="156.30" y1="305.00" x2="156.30" y2="307.00" stroke="#231f20" stroke-width="0.9"/>
<text x="159.10" y="311.60" font-size="7.9" fill="#231f20" stroke="#231f20" stroke-width="0.15" text-anchor="end" transform="rotate(-45 159.10 311.60)">H929</text>
<rect x="162.90" y="297.46" width="6.80" height="7.54" fill="#a9b986" stroke="none" stroke-width="0"/>
<line x1="166.30" y1="296.16" x2="166.30" y2="296.96" stroke="#111" stroke-width="1.25"/>
<line x1="164.70" y1="296.16" x2="167.90" y2="296.16" stroke="#111" stroke-width="1.2"/>
<line x1="166.30" y1="305.00" x2="166.30" y2="307.00" stroke="#231f20" stroke-width="0.9"/>
<text x="169.10" y="311.60" font-size="7.9" fill="#231f20" stroke="#231f20" stroke-width="0.15" text-anchor="end" transform="rotate(-45 169.10 311.60)">KMS-12-PE</text>
<rect x="172.90" y="238.50" width="6.80" height="66.50" fill="#a9b986" stroke="none" stroke-width="0"/>
<line x1="176.30" y1="231.30" x2="176.30" y2="238.00" stroke="#111" stroke-width="1.25"/>
<line x1="174.70" y1="231.30" x2="177.90" y2="231.30" stroke="#111" stroke-width="1.2"/>
<line x1="176.30" y1="305.00" x2="176.30" y2="307.00" stroke="#231f20" stroke-width="0.9"/>
<text x="179.10" y="311.60" font-size="7.9" fill="#231f20" stroke="#231f20" stroke-width="0.15" text-anchor="end" transform="rotate(-45 179.10 311.60)">JJN3</text>
<rect x="182.90" y="284.06" width="6.80" height="20.94" fill="#a9b986" stroke="none" stroke-width="0"/>
<line x1="186.30" y1="281.75" x2="186.30" y2="283.56" stroke="#111" stroke-width="1.25"/>
<line x1="184.70" y1="281.75" x2="187.90" y2="281.75" stroke="#111" stroke-width="1.2"/>
<line x1="186.30" y1="305.00" x2="186.30" y2="307.00" stroke="#231f20" stroke-width="0.9"/>
<text x="189.10" y="311.60" font-size="7.9" fill="#231f20" stroke="#231f20" stroke-width="0.15" text-anchor="end" transform="rotate(-45 189.10 311.60)">HRMM.09</text>
<rect x="192.90" y="238.84" width="6.80" height="66.16" fill="#a9b986" stroke="none" stroke-width="0"/>
<line x1="196.30" y1="227.28" x2="196.30" y2="238.34" stroke="#111" stroke-width="1.25"/>
<line x1="194.70" y1="227.28" x2="197.90" y2="227.28" stroke="#111" stroke-width="1.2"/>
<line x1="196.30" y1="305.00" x2="196.30" y2="307.00" stroke="#231f20" stroke-width="0.9"/>
<text x="199.10" y="311.60" font-size="7.9" fill="#231f20" stroke="#231f20" stroke-width="0.15" text-anchor="end" transform="rotate(-45 199.10 311.60)">RPMI 8226</text>
<rect x="202.90" y="293.44" width="6.80" height="11.56" fill="#a9b986" stroke="none" stroke-width="0"/>
<line x1="206.30" y1="290.13" x2="206.30" y2="292.94" stroke="#111" stroke-width="1.25"/>
<line x1="204.70" y1="290.13" x2="207.90" y2="290.13" stroke="#111" stroke-width="1.2"/>
<line x1="206.30" y1="305.00" x2="206.30" y2="307.00" stroke="#231f20" stroke-width="0.9"/>
<text x="209.10" y="311.60" font-size="7.9" fill="#231f20" stroke="#231f20" stroke-width="0.15" text-anchor="end" transform="rotate(-45 209.10 311.60)">MWD MM.13</text>
<line x1="45.00" y1="285.60" x2="68.00" y2="285.60" stroke="#454545" stroke-width="1.1"/>
<polyline points="57.00,285.60 57.00,201.00 111.30,201.00 111.30,209.60" fill="none" stroke="#454545" stroke-width="1.1" stroke-linejoin="round"/>
<line x1="73.30" y1="211.50" x2="213.80" y2="211.50" stroke="#454545" stroke-width="1.1"/>
<text x="83.80" y="201.20" font-size="8.5" fill="#222" stroke="#222" stroke-width="0.15" text-anchor="middle">**</text>
<text x="240.30" y="194.60" font-size="12.5" fill="#000" stroke="#000" stroke-width="0.15" font-weight="bold" textLength="7.60" lengthAdjust="spacingAndGlyphs">E</text>
<text x="333.30" y="198.00" font-size="9.8" fill="#231f20" stroke="#231f20" stroke-width="0.15" text-anchor="middle" textLength="13.90" lengthAdjust="spacingAndGlyphs">Btz</text>
<polyline points="285.80,226.44 300.80,245.43 315.80,254.42 330.60,265.87 339.20,283.25 345.30,284.10 350.20,286.64 365.00,286.64 380.50,290.88" fill="none" stroke="#e69a2e" stroke-width="1.15" stroke-linejoin="round"/>
<polyline points="285.80,223.04 300.80,223.89 315.80,225.59 330.60,234.07 339.20,247.64 345.30,252.72 350.20,261.20 365.00,274.77 380.50,278.59" fill="none" stroke="#e69a2e" stroke-width="1.1" stroke-linejoin="round" stroke-dasharray="2.2,1.6"/>
<polyline points="285.80,237.46 300.80,251.03 315.80,258.66 330.60,271.38 339.20,284.10 345.30,283.25 350.20,285.80 365.00,285.80 380.50,289.36" fill="none" stroke="#6cb84a" stroke-width="1.15" stroke-linejoin="round"/>
<polyline points="285.80,224.74 300.80,226.44 315.80,227.28 330.60,237.46 339.20,250.18 345.30,255.27 350.20,264.60 365.00,279.86 380.50,285.80" fill="none" stroke="#6cb84a" stroke-width="1.1" stroke-linejoin="round" stroke-dasharray="2.2,1.6"/>
<polyline points="285.80,224.74 300.80,244.24 315.80,266.89 330.60,277.32 339.20,285.80 345.30,286.64 350.20,288.34 365.00,290.04 380.50,296.82" fill="none" stroke="#b5163f" stroke-width="1.15" stroke-linejoin="round"/>
<polyline points="285.80,217.11 300.80,225.59 315.80,237.80 330.60,251.88 339.20,262.48 345.30,271.38 350.20,284.10 365.00,286.64 380.50,293.43" fill="none" stroke="#b5163f" stroke-width="1.1" stroke-linejoin="round" stroke-dasharray="2.2,1.6"/>
<polyline points="285.80,227.28 300.80,251.03 315.80,262.39 330.60,274.77 339.20,287.49 345.30,288.34 350.20,292.07 365.00,294.70 380.50,302.76" fill="none" stroke="#2b4b8c" stroke-width="1.15" stroke-linejoin="round"/>
<polyline points="285.80,223.89 300.80,225.59 315.80,228.98 330.60,235.76 339.20,251.88 345.30,261.20 350.20,273.25 365.00,284.10 380.50,285.80" fill="none" stroke="#2b4b8c" stroke-width="1.1" stroke-linejoin="round" stroke-dasharray="2.2,1.6"/>
<polyline points="285.80,228.98 300.80,242.55 315.80,251.03 330.60,268.84 339.20,284.95 345.30,289.19 350.20,295.97 365.00,296.82 380.50,299.36" fill="none" stroke="#9690cf" stroke-width="1.15" stroke-linejoin="round"/>
<polyline points="285.80,223.04 300.80,224.74 315.80,230.08 330.60,235.76 339.20,239.16 345.30,245.94 350.20,262.05 365.00,275.62 380.50,285.29" fill="none" stroke="#9690cf" stroke-width="1.1" stroke-linejoin="round" stroke-dasharray="2.2,1.6"/>
<line x1="285.80" y1="223.04" x2="285.80" y2="229.83" stroke="#e69a2e" stroke-width="0.8"/>
<line x1="284.20" y1="223.04" x2="287.40" y2="223.04" stroke="#e69a2e" stroke-width="0.9"/>
<line x1="284.20" y1="229.83" x2="287.40" y2="229.83" stroke="#e69a2e" stroke-width="0.9"/>
<circle cx="285.80" cy="226.44" r="1.50" fill="#e69a2e" stroke="#e69a2e" stroke-width="0.8"/>
<line x1="300.80" y1="242.04" x2="300.80" y2="248.82" stroke="#e69a2e" stroke-width="0.8"/>
<line x1="299.20" y1="242.04" x2="302.40" y2="242.04" stroke="#e69a2e" stroke-width="0.9"/>
<line x1="299.20" y1="248.82" x2="302.40" y2="248.82" stroke="#e69a2e" stroke-width="0.9"/>
<circle cx="300.80" cy="245.43" r="1.50" fill="#e69a2e" stroke="#e69a2e" stroke-width="0.8"/>
<line x1="315.80" y1="251.03" x2="315.80" y2="257.81" stroke="#e69a2e" stroke-width="0.8"/>
<line x1="314.20" y1="251.03" x2="317.40" y2="251.03" stroke="#e69a2e" stroke-width="0.9"/>
<line x1="314.20" y1="257.81" x2="317.40" y2="257.81" stroke="#e69a2e" stroke-width="0.9"/>
<circle cx="315.80" cy="254.42" r="1.50" fill="#e69a2e" stroke="#e69a2e" stroke-width="0.8"/>
<line x1="330.60" y1="262.48" x2="330.60" y2="269.26" stroke="#e69a2e" stroke-width="0.8"/>
<line x1="329.00" y1="262.48" x2="332.20" y2="262.48" stroke="#e69a2e" stroke-width="0.9"/>
<line x1="329.00" y1="269.26" x2="332.20" y2="269.26" stroke="#e69a2e" stroke-width="0.9"/>
<circle cx="330.60" cy="265.87" r="1.50" fill="#e69a2e" stroke="#e69a2e" stroke-width="0.8"/>
<line x1="339.20" y1="279.86" x2="339.20" y2="286.64" stroke="#e69a2e" stroke-width="0.8"/>
<line x1="337.60" y1="279.86" x2="340.80" y2="279.86" stroke="#e69a2e" stroke-width="0.9"/>
<line x1="337.60" y1="286.64" x2="340.80" y2="286.64" stroke="#e69a2e" stroke-width="0.9"/>
<circle cx="339.20" cy="283.25" r="1.50" fill="#e69a2e" stroke="#e69a2e" stroke-width="0.8"/>
<line x1="345.30" y1="280.71" x2="345.30" y2="287.49" stroke="#e69a2e" stroke-width="0.8"/>
<line x1="343.70" y1="280.71" x2="346.90" y2="280.71" stroke="#e69a2e" stroke-width="0.9"/>
<line x1="343.70" y1="287.49" x2="346.90" y2="287.49" stroke="#e69a2e" stroke-width="0.9"/>
<circle cx="345.30" cy="284.10" r="1.50" fill="#e69a2e" stroke="#e69a2e" stroke-width="0.8"/>
<line x1="350.20" y1="283.25" x2="350.20" y2="290.04" stroke="#e69a2e" stroke-width="0.8"/>
<line x1="348.60" y1="283.25" x2="351.80" y2="283.25" stroke="#e69a2e" stroke-width="0.9"/>
<line x1="348.60" y1="290.04" x2="351.80" y2="290.04" stroke="#e69a2e" stroke-width="0.9"/>
<circle cx="350.20" cy="286.64" r="1.50" fill="#e69a2e" stroke="#e69a2e" stroke-width="0.8"/>
<line x1="365.00" y1="283.25" x2="365.00" y2="290.04" stroke="#e69a2e" stroke-width="0.8"/>
<line x1="363.40" y1="283.25" x2="366.60" y2="283.25" stroke="#e69a2e" stroke-width="0.9"/>
<line x1="363.40" y1="290.04" x2="366.60" y2="290.04" stroke="#e69a2e" stroke-width="0.9"/>
<circle cx="365.00" cy="286.64" r="1.50" fill="#e69a2e" stroke="#e69a2e" stroke-width="0.8"/>
<line x1="380.50" y1="287.49" x2="380.50" y2="294.28" stroke="#e69a2e" stroke-width="0.8"/>
<line x1="378.90" y1="287.49" x2="382.10" y2="287.49" stroke="#e69a2e" stroke-width="0.9"/>
<line x1="378.90" y1="294.28" x2="382.10" y2="294.28" stroke="#e69a2e" stroke-width="0.9"/>
<circle cx="380.50" cy="290.88" r="1.50" fill="#e69a2e" stroke="#e69a2e" stroke-width="0.8"/>
<line x1="285.80" y1="219.65" x2="285.80" y2="226.44" stroke="#e69a2e" stroke-width="0.8"/>
<line x1="284.20" y1="219.65" x2="287.40" y2="219.65" stroke="#e69a2e" stroke-width="0.9"/>
<line x1="284.20" y1="226.44" x2="287.40" y2="226.44" stroke="#e69a2e" stroke-width="0.9"/>
<circle cx="285.80" cy="223.04" r="1.42" fill="#f2cc96" stroke="#e69a2e" stroke-width="0.8"/>
<line x1="300.80" y1="220.50" x2="300.80" y2="227.28" stroke="#e69a2e" stroke-width="0.8"/>
<line x1="299.20" y1="220.50" x2="302.40" y2="220.50" stroke="#e69a2e" stroke-width="0.9"/>
<line x1="299.20" y1="227.28" x2="302.40" y2="227.28" stroke="#e69a2e" stroke-width="0.9"/>
<circle cx="300.80" cy="223.89" r="1.42" fill="#f2cc96" stroke="#e69a2e" stroke-width="0.8"/>
<line x1="315.80" y1="222.20" x2="315.80" y2="228.98" stroke="#e69a2e" stroke-width="0.8"/>
<line x1="314.20" y1="222.20" x2="317.40" y2="222.20" stroke="#e69a2e" stroke-width="0.9"/>
<line x1="314.20" y1="228.98" x2="317.40" y2="228.98" stroke="#e69a2e" stroke-width="0.9"/>
<circle cx="315.80" cy="225.59" r="1.42" fill="#f2cc96" stroke="#e69a2e" stroke-width="0.8"/>
<line x1="330.60" y1="230.68" x2="330.60" y2="237.46" stroke="#e69a2e" stroke-width="0.8"/>
<line x1="329.00" y1="230.68" x2="332.20" y2="230.68" stroke="#e69a2e" stroke-width="0.9"/>
<line x1="329.00" y1="237.46" x2="332.20" y2="237.46" stroke="#e69a2e" stroke-width="0.9"/>
<circle cx="330.60" cy="234.07" r="1.42" fill="#f2cc96" stroke="#e69a2e" stroke-width="0.8"/>
<line x1="339.20" y1="244.24" x2="339.20" y2="251.03" stroke="#e69a2e" stroke-width="0.8"/>
<line x1="337.60" y1="244.24" x2="340.80" y2="244.24" stroke="#e69a2e" stroke-width="0.9"/>
<line x1="337.60" y1="251.03" x2="340.80" y2="251.03" stroke="#e69a2e" stroke-width="0.9"/>
<circle cx="339.20" cy="247.64" r="1.42" fill="#f2cc96" stroke="#e69a2e" stroke-width="0.8"/>
<line x1="345.30" y1="249.33" x2="345.30" y2="256.12" stroke="#e69a2e" stroke-width="0.8"/>
<line x1="343.70" y1="249.33" x2="346.90" y2="249.33" stroke="#e69a2e" stroke-width="0.9"/>
<line x1="343.70" y1="256.12" x2="346.90" y2="256.12" stroke="#e69a2e" stroke-width="0.9"/>
<circle cx="345.30" cy="252.72" r="1.42" fill="#f2cc96" stroke="#e69a2e" stroke-width="0.8"/>
<line x1="350.20" y1="257.81" x2="350.20" y2="264.60" stroke="#e69a2e" stroke-width="0.8"/>
<line x1="348.60" y1="257.81" x2="351.80" y2="257.81" stroke="#e69a2e" stroke-width="0.9"/>
<line x1="348.60" y1="264.60" x2="351.80" y2="264.60" stroke="#e69a2e" stroke-width="0.9"/>
<circle cx="350.20" cy="261.20" r="1.42" fill="#f2cc96" stroke="#e69a2e" stroke-width="0.8"/>
<line x1="365.00" y1="271.38" x2="365.00" y2="278.16" stroke="#e69a2e" stroke-width="0.8"/>
<line x1="363.40" y1="271.38" x2="366.60" y2="271.38" stroke="#e69a2e" stroke-width="0.9"/>
<line x1="363.40" y1="278.16" x2="366.60" y2="278.16" stroke="#e69a2e" stroke-width="0.9"/>
<circle cx="365.00" cy="274.77" r="1.42" fill="#f2cc96" stroke="#e69a2e" stroke-width="0.8"/>
<line x1="380.50" y1="274.35" x2="380.50" y2="282.83" stroke="#e69a2e" stroke-width="0.8"/>
<line x1="378.90" y1="274.35" x2="382.10" y2="274.35" stroke="#e69a2e" stroke-width="0.9"/>
<line x1="378.90" y1="282.83" x2="382.10" y2="282.83" stroke="#e69a2e" stroke-width="0.9"/>
<circle cx="380.50" cy="278.59" r="1.42" fill="#f2cc96" stroke="#e69a2e" stroke-width="0.8"/>
<line x1="285.80" y1="234.07" x2="285.80" y2="240.85" stroke="#6cb84a" stroke-width="0.8"/>
<line x1="284.20" y1="234.07" x2="287.40" y2="234.07" stroke="#6cb84a" stroke-width="0.9"/>
<line x1="284.20" y1="240.85" x2="287.40" y2="240.85" stroke="#6cb84a" stroke-width="0.9"/>
<path d="M285.80,239.26 L287.45,236.26 L284.15,236.26 Z" fill="#6cb84a" stroke="#6cb84a" stroke-width="0.8"/>
<line x1="300.80" y1="247.64" x2="300.80" y2="254.42" stroke="#6cb84a" stroke-width="0.8"/>
<line x1="299.20" y1="247.64" x2="302.40" y2="247.64" stroke="#6cb84a" stroke-width="0.9"/>
<line x1="299.20" y1="254.42" x2="302.40" y2="254.42" stroke="#6cb84a" stroke-width="0.9"/>
<path d="M300.80,252.83 L302.45,249.83 L299.15,249.83 Z" fill="#6cb84a" stroke="#6cb84a" stroke-width="0.8"/>
<line x1="315.80" y1="255.27" x2="315.80" y2="262.05" stroke="#6cb84a" stroke-width="0.8"/>
<line x1="314.20" y1="255.27" x2="317.40" y2="255.27" stroke="#6cb84a" stroke-width="0.9"/>
<line x1="314.20" y1="262.05" x2="317.40" y2="262.05" stroke="#6cb84a" stroke-width="0.9"/>
<path d="M315.80,260.46 L317.45,257.46 L314.15,257.46 Z" fill="#6cb84a" stroke="#6cb84a" stroke-width="0.8"/>
<line x1="330.60" y1="267.99" x2="330.60" y2="274.77" stroke="#6cb84a" stroke-width="0.8"/>
<line x1="329.00" y1="267.99" x2="332.20" y2="267.99" stroke="#6cb84a" stroke-width="0.9"/>
<line x1="329.00" y1="274.77" x2="332.20" y2="274.77" stroke="#6cb84a" stroke-width="0.9"/>
<path d="M330.60,273.18 L332.25,270.18 L328.95,270.18 Z" fill="#6cb84a" stroke="#6cb84a" stroke-width="0.8"/>
<line x1="339.20" y1="280.71" x2="339.20" y2="287.49" stroke="#6cb84a" stroke-width="0.8"/>
<line x1="337.60" y1="280.71" x2="340.80" y2="280.71" stroke="#6cb84a" stroke-width="0.9"/>
<line x1="337.60" y1="287.49" x2="340.80" y2="287.49" stroke="#6cb84a" stroke-width="0.9"/>
<path d="M339.20,285.90 L340.85,282.90 L337.55,282.90 Z" fill="#6cb84a" stroke="#6cb84a" stroke-width="0.8"/>
<line x1="345.30" y1="279.86" x2="345.30" y2="286.64" stroke="#6cb84a" stroke-width="0.8"/>
<line x1="343.70" y1="279.86" x2="346.90" y2="279.86" stroke="#6cb84a" stroke-width="0.9"/>
<line x1="343.70" y1="286.64" x2="346.90" y2="286.64" stroke="#6cb84a" stroke-width="0.9"/>
<path d="M345.30,285.05 L346.95,282.05 L343.65,282.05 Z" fill="#6cb84a" stroke="#6cb84a" stroke-width="0.8"/>
<line x1="350.20" y1="282.40" x2="350.20" y2="289.19" stroke="#6cb84a" stroke-width="0.8"/>
<line x1="348.60" y1="282.40" x2="351.80" y2="282.40" stroke="#6cb84a" stroke-width="0.9"/>
<line x1="348.60" y1="289.19" x2="351.80" y2="289.19" stroke="#6cb84a" stroke-width="0.9"/>
<path d="M350.20,287.60 L351.85,284.60 L348.55,284.60 Z" fill="#6cb84a" stroke="#6cb84a" stroke-width="0.8"/>
<line x1="365.00" y1="282.40" x2="365.00" y2="289.19" stroke="#6cb84a" stroke-width="0.8"/>
<line x1="363.40" y1="282.40" x2="366.60" y2="282.40" stroke="#6cb84a" stroke-width="0.9"/>
<line x1="363.40" y1="289.19" x2="366.60" y2="289.19" stroke="#6cb84a" stroke-width="0.9"/>
<path d="M365.00,287.60 L366.65,284.60 L363.35,284.60 Z" fill="#6cb84a" stroke="#6cb84a" stroke-width="0.8"/>
<line x1="380.50" y1="285.97" x2="380.50" y2="292.75" stroke="#6cb84a" stroke-width="0.8"/>
<line x1="378.90" y1="285.97" x2="382.10" y2="285.97" stroke="#6cb84a" stroke-width="0.9"/>
<line x1="378.90" y1="292.75" x2="382.10" y2="292.75" stroke="#6cb84a" stroke-width="0.9"/>
<path d="M380.50,291.16 L382.15,288.16 L378.85,288.16 Z" fill="#6cb84a" stroke="#6cb84a" stroke-width="0.8"/>
<line x1="285.80" y1="221.35" x2="285.80" y2="228.13" stroke="#6cb84a" stroke-width="0.8"/>
<line x1="284.20" y1="221.35" x2="287.40" y2="221.35" stroke="#6cb84a" stroke-width="0.9"/>
<line x1="284.20" y1="228.13" x2="287.40" y2="228.13" stroke="#6cb84a" stroke-width="0.9"/>
<path d="M285.80,226.45 L287.37,223.60 L284.23,223.60 Z" fill="#b5dca4" stroke="#6cb84a" stroke-width="0.8"/>
<line x1="300.80" y1="223.04" x2="300.80" y2="229.83" stroke="#6cb84a" stroke-width="0.8"/>
<line x1="299.20" y1="223.04" x2="302.40" y2="223.04" stroke="#6cb84a" stroke-width="0.9"/>
<line x1="299.20" y1="229.83" x2="302.40" y2="229.83" stroke="#6cb84a" stroke-width="0.9"/>
<path d="M300.80,228.15 L302.37,225.30 L299.23,225.30 Z" fill="#b5dca4" stroke="#6cb84a" stroke-width="0.8"/>
<line x1="315.80" y1="223.89" x2="315.80" y2="230.68" stroke="#6cb84a" stroke-width="0.8"/>
<line x1="314.20" y1="223.89" x2="317.40" y2="223.89" stroke="#6cb84a" stroke-width="0.9"/>
<line x1="314.20" y1="230.68" x2="317.40" y2="230.68" stroke="#6cb84a" stroke-width="0.9"/>
<path d="M315.80,228.99 L317.37,226.14 L314.23,226.14 Z" fill="#b5dca4" stroke="#6cb84a" stroke-width="0.8"/>
<line x1="330.60" y1="234.07" x2="330.60" y2="240.85" stroke="#6cb84a" stroke-width="0.8"/>
<line x1="329.00" y1="234.07" x2="332.20" y2="234.07" stroke="#6cb84a" stroke-width="0.9"/>
<line x1="329.00" y1="240.85" x2="332.20" y2="240.85" stroke="#6cb84a" stroke-width="0.9"/>
<path d="M330.60,239.17 L332.17,236.32 L329.03,236.32 Z" fill="#b5dca4" stroke="#6cb84a" stroke-width="0.8"/>
<line x1="339.20" y1="246.79" x2="339.20" y2="253.57" stroke="#6cb84a" stroke-width="0.8"/>
<line x1="337.60" y1="246.79" x2="340.80" y2="246.79" stroke="#6cb84a" stroke-width="0.9"/>
<line x1="337.60" y1="253.57" x2="340.80" y2="253.57" stroke="#6cb84a" stroke-width="0.9"/>
<path d="M339.20,251.89 L340.77,249.04 L337.63,249.04 Z" fill="#b5dca4" stroke="#6cb84a" stroke-width="0.8"/>
<line x1="345.30" y1="251.88" x2="345.30" y2="258.66" stroke="#6cb84a" stroke-width="0.8"/>
<line x1="343.70" y1="251.88" x2="346.90" y2="251.88" stroke="#6cb84a" stroke-width="0.9"/>
<line x1="343.70" y1="258.66" x2="346.90" y2="258.66" stroke="#6cb84a" stroke-width="0.9"/>
<path d="M345.30,256.98 L346.87,254.13 L343.73,254.13 Z" fill="#b5dca4" stroke="#6cb84a" stroke-width="0.8"/>
<line x1="350.20" y1="261.20" x2="350.20" y2="267.99" stroke="#6cb84a" stroke-width="0.8"/>
<line x1="348.60" y1="261.20" x2="351.80" y2="261.20" stroke="#6cb84a" stroke-width="0.9"/>
<line x1="348.60" y1="267.99" x2="351.80" y2="267.99" stroke="#6cb84a" stroke-width="0.9"/>
<path d="M350.20,266.31 L351.77,263.46 L348.63,263.46 Z" fill="#b5dca4" stroke="#6cb84a" stroke-width="0.8"/>
<line x1="365.00" y1="276.47" x2="365.00" y2="283.25" stroke="#6cb84a" stroke-width="0.8"/>
<line x1="363.40" y1="276.47" x2="366.60" y2="276.47" stroke="#6cb84a" stroke-width="0.9"/>
<line x1="363.40" y1="283.25" x2="366.60" y2="283.25" stroke="#6cb84a" stroke-width="0.9"/>
<path d="M365.00,281.57 L366.57,278.72 L363.43,278.72 Z" fill="#b5dca4" stroke="#6cb84a" stroke-width="0.8"/>
<line x1="380.50" y1="282.40" x2="380.50" y2="289.19" stroke="#6cb84a" stroke-width="0.8"/>
<line x1="378.90" y1="282.40" x2="382.10" y2="282.40" stroke="#6cb84a" stroke-width="0.9"/>
<line x1="378.90" y1="289.19" x2="382.10" y2="289.19" stroke="#6cb84a" stroke-width="0.9"/>
<path d="M380.50,287.51 L382.07,284.66 L378.93,284.66 Z" fill="#b5dca4" stroke="#6cb84a" stroke-width="0.8"/>
<line x1="285.80" y1="221.35" x2="285.80" y2="228.13" stroke="#b5163f" stroke-width="0.8"/>
<line x1="284.20" y1="221.35" x2="287.40" y2="221.35" stroke="#b5163f" stroke-width="0.9"/>
<line x1="284.20" y1="228.13" x2="287.40" y2="228.13" stroke="#b5163f" stroke-width="0.9"/>
<path d="M285.80,222.87 L287.68,224.74 L285.80,226.62 L283.93,224.74 Z" fill="#b5163f" stroke="#b5163f" stroke-width="0.8"/>
<line x1="300.80" y1="240.85" x2="300.80" y2="247.64" stroke="#b5163f" stroke-width="0.8"/>
<line x1="299.20" y1="240.85" x2="302.40" y2="240.85" stroke="#b5163f" stroke-width="0.9"/>
<line x1="299.20" y1="247.64" x2="302.40" y2="247.64" stroke="#b5163f" stroke-width="0.9"/>
<path d="M300.80,242.37 L302.68,244.24 L300.80,246.12 L298.93,244.24 Z" fill="#b5163f" stroke="#b5163f" stroke-width="0.8"/>
<line x1="315.80" y1="261.80" x2="315.80" y2="271.97" stroke="#b5163f" stroke-width="0.8"/>
<line x1="314.20" y1="261.80" x2="317.40" y2="261.80" stroke="#b5163f" stroke-width="0.9"/>
<line x1="314.20" y1="271.97" x2="317.40" y2="271.97" stroke="#b5163f" stroke-width="0.9"/>
<path d="M315.80,265.01 L317.68,266.89 L315.80,268.76 L313.93,266.89 Z" fill="#b5163f" stroke="#b5163f" stroke-width="0.8"/>
<line x1="330.60" y1="273.92" x2="330.60" y2="280.71" stroke="#b5163f" stroke-width="0.8"/>
<line x1="329.00" y1="273.92" x2="332.20" y2="273.92" stroke="#b5163f" stroke-width="0.9"/>
<line x1="329.00" y1="280.71" x2="332.20" y2="280.71" stroke="#b5163f" stroke-width="0.9"/>
<path d="M330.60,275.44 L332.48,277.32 L330.60,279.19 L328.73,277.32 Z" fill="#b5163f" stroke="#b5163f" stroke-width="0.8"/>
<line x1="339.20" y1="282.40" x2="339.20" y2="289.19" stroke="#b5163f" stroke-width="0.8"/>
<line x1="337.60" y1="282.40" x2="340.80" y2="282.40" stroke="#b5163f" stroke-width="0.9"/>
<line x1="337.60" y1="289.19" x2="340.80" y2="289.19" stroke="#b5163f" stroke-width="0.9"/>
<path d="M339.20,283.92 L341.07,285.80 L339.20,287.67 L337.32,285.80 Z" fill="#b5163f" stroke="#b5163f" stroke-width="0.8"/>
<line x1="345.30" y1="283.25" x2="345.30" y2="290.04" stroke="#b5163f" stroke-width="0.8"/>
<line x1="343.70" y1="283.25" x2="346.90" y2="283.25" stroke="#b5163f" stroke-width="0.9"/>
<line x1="343.70" y1="290.04" x2="346.90" y2="290.04" stroke="#b5163f" stroke-width="0.9"/>
<path d="M345.30,284.77 L347.18,286.64 L345.30,288.52 L343.43,286.64 Z" fill="#b5163f" stroke="#b5163f" stroke-width="0.8"/>
<line x1="350.20" y1="284.95" x2="350.20" y2="291.73" stroke="#b5163f" stroke-width="0.8"/>
<line x1="348.60" y1="284.95" x2="351.80" y2="284.95" stroke="#b5163f" stroke-width="0.9"/>
<line x1="348.60" y1="291.73" x2="351.80" y2="291.73" stroke="#b5163f" stroke-width="0.9"/>
<path d="M350.20,286.47 L352.07,288.34 L350.20,290.22 L348.32,288.34 Z" fill="#b5163f" stroke="#b5163f" stroke-width="0.8"/>
<line x1="365.00" y1="286.64" x2="365.00" y2="293.43" stroke="#b5163f" stroke-width="0.8"/>
<line x1="363.40" y1="286.64" x2="366.60" y2="286.64" stroke="#b5163f" stroke-width="0.9"/>
<line x1="363.40" y1="293.43" x2="366.60" y2="293.43" stroke="#b5163f" stroke-width="0.9"/>
<path d="M365.00,288.16 L366.88,290.04 L365.00,291.91 L363.12,290.04 Z" fill="#b5163f" stroke="#b5163f" stroke-width="0.8"/>
<line x1="380.50" y1="293.43" x2="380.50" y2="300.21" stroke="#b5163f" stroke-width="0.8"/>
<line x1="378.90" y1="293.43" x2="382.10" y2="293.43" stroke="#b5163f" stroke-width="0.9"/>
<line x1="378.90" y1="300.21" x2="382.10" y2="300.21" stroke="#b5163f" stroke-width="0.9"/>
<path d="M380.50,294.94 L382.38,296.82 L380.50,298.69 L378.62,296.82 Z" fill="#b5163f" stroke="#b5163f" stroke-width="0.8"/>
<line x1="285.80" y1="212.87" x2="285.80" y2="221.35" stroke="#b5163f" stroke-width="0.8"/>
<line x1="284.20" y1="212.87" x2="287.40" y2="212.87" stroke="#b5163f" stroke-width="0.9"/>
<line x1="284.20" y1="221.35" x2="287.40" y2="221.35" stroke="#b5163f" stroke-width="0.9"/>
<path d="M285.80,215.33 L287.58,217.11 L285.80,218.89 L284.02,217.11 Z" fill="#da8a9f" stroke="#b5163f" stroke-width="0.8"/>
<line x1="300.80" y1="222.20" x2="300.80" y2="228.98" stroke="#b5163f" stroke-width="0.8"/>
<line x1="299.20" y1="222.20" x2="302.40" y2="222.20" stroke="#b5163f" stroke-width="0.9"/>
<line x1="299.20" y1="228.98" x2="302.40" y2="228.98" stroke="#b5163f" stroke-width="0.9"/>
<path d="M300.80,223.81 L302.58,225.59 L300.80,227.37 L299.02,225.59 Z" fill="#da8a9f" stroke="#b5163f" stroke-width="0.8"/>
<line x1="315.80" y1="233.56" x2="315.80" y2="242.04" stroke="#b5163f" stroke-width="0.8"/>
<line x1="314.20" y1="233.56" x2="317.40" y2="233.56" stroke="#b5163f" stroke-width="0.9"/>
<line x1="314.20" y1="242.04" x2="317.40" y2="242.04" stroke="#b5163f" stroke-width="0.9"/>
<path d="M315.80,236.02 L317.58,237.80 L315.80,239.58 L314.02,237.80 Z" fill="#da8a9f" stroke="#b5163f" stroke-width="0.8"/>
<line x1="330.60" y1="248.48" x2="330.60" y2="255.27" stroke="#b5163f" stroke-width="0.8"/>
<line x1="329.00" y1="248.48" x2="332.20" y2="248.48" stroke="#b5163f" stroke-width="0.9"/>
<line x1="329.00" y1="255.27" x2="332.20" y2="255.27" stroke="#b5163f" stroke-width="0.9"/>
<path d="M330.60,250.09 L332.38,251.88 L330.60,253.66 L328.82,251.88 Z" fill="#da8a9f" stroke="#b5163f" stroke-width="0.8"/>
<line x1="339.20" y1="259.08" x2="339.20" y2="265.87" stroke="#b5163f" stroke-width="0.8"/>
<line x1="337.60" y1="259.08" x2="340.80" y2="259.08" stroke="#b5163f" stroke-width="0.9"/>
<line x1="337.60" y1="265.87" x2="340.80" y2="265.87" stroke="#b5163f" stroke-width="0.9"/>
<path d="M339.20,260.69 L340.98,262.48 L339.20,264.26 L337.42,262.48 Z" fill="#da8a9f" stroke="#b5163f" stroke-width="0.8"/>
<line x1="345.30" y1="267.99" x2="345.30" y2="274.77" stroke="#b5163f" stroke-width="0.8"/>
<line x1="343.70" y1="267.99" x2="346.90" y2="267.99" stroke="#b5163f" stroke-width="0.9"/>
<line x1="343.70" y1="274.77" x2="346.90" y2="274.77" stroke="#b5163f" stroke-width="0.9"/>
<path d="M345.30,269.60 L347.08,271.38 L345.30,273.16 L343.52,271.38 Z" fill="#da8a9f" stroke="#b5163f" stroke-width="0.8"/>
<line x1="350.20" y1="280.71" x2="350.20" y2="287.49" stroke="#b5163f" stroke-width="0.8"/>
<line x1="348.60" y1="280.71" x2="351.80" y2="280.71" stroke="#b5163f" stroke-width="0.9"/>
<line x1="348.60" y1="287.49" x2="351.80" y2="287.49" stroke="#b5163f" stroke-width="0.9"/>
<path d="M350.20,282.32 L351.98,284.10 L350.20,285.88 L348.42,284.10 Z" fill="#da8a9f" stroke="#b5163f" stroke-width="0.8"/>
<line x1="365.00" y1="283.25" x2="365.00" y2="290.04" stroke="#b5163f" stroke-width="0.8"/>
<line x1="363.40" y1="283.25" x2="366.60" y2="283.25" stroke="#b5163f" stroke-width="0.9"/>
<line x1="363.40" y1="290.04" x2="366.60" y2="290.04" stroke="#b5163f" stroke-width="0.9"/>
<path d="M365.00,284.86 L366.78,286.64 L365.00,288.43 L363.22,286.64 Z" fill="#da8a9f" stroke="#b5163f" stroke-width="0.8"/>
<line x1="380.50" y1="290.04" x2="380.50" y2="296.82" stroke="#b5163f" stroke-width="0.8"/>
<line x1="378.90" y1="290.04" x2="382.10" y2="290.04" stroke="#b5163f" stroke-width="0.9"/>
<line x1="378.90" y1="296.82" x2="382.10" y2="296.82" stroke="#b5163f" stroke-width="0.9"/>
<path d="M380.50,291.65 L382.28,293.43 L380.50,295.21 L378.72,293.43 Z" fill="#da8a9f" stroke="#b5163f" stroke-width="0.8"/>
<line x1="285.80" y1="223.89" x2="285.80" y2="230.68" stroke="#2b4b8c" stroke-width="0.8"/>
<line x1="284.20" y1="223.89" x2="287.40" y2="223.89" stroke="#2b4b8c" stroke-width="0.9"/>
<line x1="284.20" y1="230.68" x2="287.40" y2="230.68" stroke="#2b4b8c" stroke-width="0.9"/>
<path d="M285.80,225.48 L287.45,228.48 L284.15,228.48 Z" fill="#2b4b8c" stroke="#2b4b8c" stroke-width="0.8"/>
<line x1="300.80" y1="247.64" x2="300.80" y2="254.42" stroke="#2b4b8c" stroke-width="0.8"/>
<line x1="299.20" y1="247.64" x2="302.40" y2="247.64" stroke="#2b4b8c" stroke-width="0.9"/>
<line x1="299.20" y1="254.42" x2="302.40" y2="254.42" stroke="#2b4b8c" stroke-width="0.9"/>
<path d="M300.80,249.23 L302.45,252.23 L299.15,252.23 Z" fill="#2b4b8c" stroke="#2b4b8c" stroke-width="0.8"/>
<line x1="315.80" y1="259.00" x2="315.80" y2="265.78" stroke="#2b4b8c" stroke-width="0.8"/>
<line x1="314.20" y1="259.00" x2="317.40" y2="259.00" stroke="#2b4b8c" stroke-width="0.9"/>
<line x1="314.20" y1="265.78" x2="317.40" y2="265.78" stroke="#2b4b8c" stroke-width="0.9"/>
<path d="M315.80,260.59 L317.45,263.59 L314.15,263.59 Z" fill="#2b4b8c" stroke="#2b4b8c" stroke-width="0.8"/>
<line x1="330.60" y1="271.38" x2="330.60" y2="278.16" stroke="#2b4b8c" stroke-width="0.8"/>
<line x1="329.00" y1="271.38" x2="332.20" y2="271.38" stroke="#2b4b8c" stroke-width="0.9"/>
<line x1="329.00" y1="278.16" x2="332.20" y2="278.16" stroke="#2b4b8c" stroke-width="0.9"/>
<path d="M330.60,272.97 L332.25,275.97 L328.95,275.97 Z" fill="#2b4b8c" stroke="#2b4b8c" stroke-width="0.8"/>
<line x1="339.20" y1="284.10" x2="339.20" y2="290.88" stroke="#2b4b8c" stroke-width="0.8"/>
<line x1="337.60" y1="284.10" x2="340.80" y2="284.10" stroke="#2b4b8c" stroke-width="0.9"/>
<line x1="337.60" y1="290.88" x2="340.80" y2="290.88" stroke="#2b4b8c" stroke-width="0.9"/>
<path d="M339.20,285.69 L340.85,288.69 L337.55,288.69 Z" fill="#2b4b8c" stroke="#2b4b8c" stroke-width="0.8"/>
<line x1="345.30" y1="284.95" x2="345.30" y2="291.73" stroke="#2b4b8c" stroke-width="0.8"/>
<line x1="343.70" y1="284.95" x2="346.90" y2="284.95" stroke="#2b4b8c" stroke-width="0.9"/>
<line x1="343.70" y1="291.73" x2="346.90" y2="291.73" stroke="#2b4b8c" stroke-width="0.9"/>
<path d="M345.30,286.54 L346.95,289.54 L343.65,289.54 Z" fill="#2b4b8c" stroke="#2b4b8c" stroke-width="0.8"/>
<line x1="350.20" y1="288.68" x2="350.20" y2="295.46" stroke="#2b4b8c" stroke-width="0.8"/>
<line x1="348.60" y1="288.68" x2="351.80" y2="288.68" stroke="#2b4b8c" stroke-width="0.9"/>
<line x1="348.60" y1="295.46" x2="351.80" y2="295.46" stroke="#2b4b8c" stroke-width="0.9"/>
<path d="M350.20,290.27 L351.85,293.27 L348.55,293.27 Z" fill="#2b4b8c" stroke="#2b4b8c" stroke-width="0.8"/>
<line x1="365.00" y1="291.31" x2="365.00" y2="298.09" stroke="#2b4b8c" stroke-width="0.8"/>
<line x1="363.40" y1="291.31" x2="366.60" y2="291.31" stroke="#2b4b8c" stroke-width="0.9"/>
<line x1="363.40" y1="298.09" x2="366.60" y2="298.09" stroke="#2b4b8c" stroke-width="0.9"/>
<path d="M365.00,292.90 L366.65,295.90 L363.35,295.90 Z" fill="#2b4b8c" stroke="#2b4b8c" stroke-width="0.8"/>
<line x1="380.50" y1="299.36" x2="380.50" y2="306.15" stroke="#2b4b8c" stroke-width="0.8"/>
<line x1="378.90" y1="299.36" x2="382.10" y2="299.36" stroke="#2b4b8c" stroke-width="0.9"/>
<line x1="378.90" y1="306.15" x2="382.10" y2="306.15" stroke="#2b4b8c" stroke-width="0.9"/>
<path d="M380.50,300.96 L382.15,303.96 L378.85,303.96 Z" fill="#2b4b8c" stroke="#2b4b8c" stroke-width="0.8"/>
<line x1="285.80" y1="220.50" x2="285.80" y2="227.28" stroke="#2b4b8c" stroke-width="0.8"/>
<line x1="284.20" y1="220.50" x2="287.40" y2="220.50" stroke="#2b4b8c" stroke-width="0.9"/>
<line x1="284.20" y1="227.28" x2="287.40" y2="227.28" stroke="#2b4b8c" stroke-width="0.9"/>
<path d="M285.80,222.18 L287.37,225.03 L284.23,225.03 Z" fill="#95a5c5" stroke="#2b4b8c" stroke-width="0.8"/>
<line x1="300.80" y1="222.20" x2="300.80" y2="228.98" stroke="#2b4b8c" stroke-width="0.8"/>
<line x1="299.20" y1="222.20" x2="302.40" y2="222.20" stroke="#2b4b8c" stroke-width="0.9"/>
<line x1="299.20" y1="228.98" x2="302.40" y2="228.98" stroke="#2b4b8c" stroke-width="0.9"/>
<path d="M300.80,223.88 L302.37,226.73 L299.23,226.73 Z" fill="#95a5c5" stroke="#2b4b8c" stroke-width="0.8"/>
<line x1="315.80" y1="225.59" x2="315.80" y2="232.37" stroke="#2b4b8c" stroke-width="0.8"/>
<line x1="314.20" y1="225.59" x2="317.40" y2="225.59" stroke="#2b4b8c" stroke-width="0.9"/>
<line x1="314.20" y1="232.37" x2="317.40" y2="232.37" stroke="#2b4b8c" stroke-width="0.9"/>
<path d="M315.80,227.27 L317.37,230.12 L314.23,230.12 Z" fill="#95a5c5" stroke="#2b4b8c" stroke-width="0.8"/>
<line x1="330.60" y1="231.95" x2="330.60" y2="239.58" stroke="#2b4b8c" stroke-width="0.8"/>
<line x1="329.00" y1="231.95" x2="332.20" y2="231.95" stroke="#2b4b8c" stroke-width="0.9"/>
<line x1="329.00" y1="239.58" x2="332.20" y2="239.58" stroke="#2b4b8c" stroke-width="0.9"/>
<path d="M330.60,234.05 L332.17,236.90 L329.03,236.90 Z" fill="#95a5c5" stroke="#2b4b8c" stroke-width="0.8"/>
<line x1="339.20" y1="248.48" x2="339.20" y2="255.27" stroke="#2b4b8c" stroke-width="0.8"/>
<line x1="337.60" y1="248.48" x2="340.80" y2="248.48" stroke="#2b4b8c" stroke-width="0.9"/>
<line x1="337.60" y1="255.27" x2="340.80" y2="255.27" stroke="#2b4b8c" stroke-width="0.9"/>
<path d="M339.20,250.17 L340.77,253.02 L337.63,253.02 Z" fill="#95a5c5" stroke="#2b4b8c" stroke-width="0.8"/>
<line x1="345.30" y1="257.81" x2="345.30" y2="264.60" stroke="#2b4b8c" stroke-width="0.8"/>
<line x1="343.70" y1="257.81" x2="346.90" y2="257.81" stroke="#2b4b8c" stroke-width="0.9"/>
<line x1="343.70" y1="264.60" x2="346.90" y2="264.60" stroke="#2b4b8c" stroke-width="0.9"/>
<path d="M345.30,259.49 L346.87,262.34 L343.73,262.34 Z" fill="#95a5c5" stroke="#2b4b8c" stroke-width="0.8"/>
<line x1="350.20" y1="269.85" x2="350.20" y2="276.64" stroke="#2b4b8c" stroke-width="0.8"/>
<line x1="348.60" y1="269.85" x2="351.80" y2="269.85" stroke="#2b4b8c" stroke-width="0.9"/>
<line x1="348.60" y1="276.64" x2="351.80" y2="276.64" stroke="#2b4b8c" stroke-width="0.9"/>
<path d="M350.20,271.54 L351.77,274.39 L348.63,274.39 Z" fill="#95a5c5" stroke="#2b4b8c" stroke-width="0.8"/>
<line x1="365.00" y1="280.71" x2="365.00" y2="287.49" stroke="#2b4b8c" stroke-width="0.8"/>
<line x1="363.40" y1="280.71" x2="366.60" y2="280.71" stroke="#2b4b8c" stroke-width="0.9"/>
<line x1="363.40" y1="287.49" x2="366.60" y2="287.49" stroke="#2b4b8c" stroke-width="0.9"/>
<path d="M365.00,282.39 L366.57,285.24 L363.43,285.24 Z" fill="#95a5c5" stroke="#2b4b8c" stroke-width="0.8"/>
<line x1="380.50" y1="282.40" x2="380.50" y2="289.19" stroke="#2b4b8c" stroke-width="0.8"/>
<line x1="378.90" y1="282.40" x2="382.10" y2="282.40" stroke="#2b4b8c" stroke-width="0.9"/>
<line x1="378.90" y1="289.19" x2="382.10" y2="289.19" stroke="#2b4b8c" stroke-width="0.9"/>
<path d="M380.50,284.09 L382.07,286.94 L378.93,286.94 Z" fill="#95a5c5" stroke="#2b4b8c" stroke-width="0.8"/>
<line x1="285.80" y1="225.59" x2="285.80" y2="232.37" stroke="#9690cf" stroke-width="0.8"/>
<line x1="284.20" y1="225.59" x2="287.40" y2="225.59" stroke="#9690cf" stroke-width="0.9"/>
<line x1="284.20" y1="232.37" x2="287.40" y2="232.37" stroke="#9690cf" stroke-width="0.9"/>
<rect x="284.30" y="227.48" width="3.00" height="3.00" fill="#9690cf" stroke="#9690cf" stroke-width="0.8"/>
<line x1="300.80" y1="239.16" x2="300.80" y2="245.94" stroke="#9690cf" stroke-width="0.8"/>
<line x1="299.20" y1="239.16" x2="302.40" y2="239.16" stroke="#9690cf" stroke-width="0.9"/>
<line x1="299.20" y1="245.94" x2="302.40" y2="245.94" stroke="#9690cf" stroke-width="0.9"/>
<rect x="299.30" y="241.05" width="3.00" height="3.00" fill="#9690cf" stroke="#9690cf" stroke-width="0.8"/>
<line x1="315.80" y1="245.94" x2="315.80" y2="256.12" stroke="#9690cf" stroke-width="0.8"/>
<line x1="314.20" y1="245.94" x2="317.40" y2="245.94" stroke="#9690cf" stroke-width="0.9"/>
<line x1="314.20" y1="256.12" x2="317.40" y2="256.12" stroke="#9690cf" stroke-width="0.9"/>
<rect x="314.30" y="249.53" width="3.00" height="3.00" fill="#9690cf" stroke="#9690cf" stroke-width="0.8"/>
<line x1="330.60" y1="265.44" x2="330.60" y2="272.23" stroke="#9690cf" stroke-width="0.8"/>
<line x1="329.00" y1="265.44" x2="332.20" y2="265.44" stroke="#9690cf" stroke-width="0.9"/>
<line x1="329.00" y1="272.23" x2="332.20" y2="272.23" stroke="#9690cf" stroke-width="0.9"/>
<rect x="329.10" y="267.34" width="3.00" height="3.00" fill="#9690cf" stroke="#9690cf" stroke-width="0.8"/>
<line x1="339.20" y1="281.56" x2="339.20" y2="288.34" stroke="#9690cf" stroke-width="0.8"/>
<line x1="337.60" y1="281.56" x2="340.80" y2="281.56" stroke="#9690cf" stroke-width="0.9"/>
<line x1="337.60" y1="288.34" x2="340.80" y2="288.34" stroke="#9690cf" stroke-width="0.9"/>
<rect x="337.70" y="283.45" width="3.00" height="3.00" fill="#9690cf" stroke="#9690cf" stroke-width="0.8"/>
<line x1="345.30" y1="285.80" x2="345.30" y2="292.58" stroke="#9690cf" stroke-width="0.8"/>
<line x1="343.70" y1="285.80" x2="346.90" y2="285.80" stroke="#9690cf" stroke-width="0.9"/>
<line x1="343.70" y1="292.58" x2="346.90" y2="292.58" stroke="#9690cf" stroke-width="0.9"/>
<rect x="343.80" y="287.69" width="3.00" height="3.00" fill="#9690cf" stroke="#9690cf" stroke-width="0.8"/>
<line x1="350.20" y1="292.58" x2="350.20" y2="299.36" stroke="#9690cf" stroke-width="0.8"/>
<line x1="348.60" y1="292.58" x2="351.80" y2="292.58" stroke="#9690cf" stroke-width="0.9"/>
<line x1="348.60" y1="299.36" x2="351.80" y2="299.36" stroke="#9690cf" stroke-width="0.9"/>
<rect x="348.70" y="294.47" width="3.00" height="3.00" fill="#9690cf" stroke="#9690cf" stroke-width="0.8"/>
<line x1="365.00" y1="293.43" x2="365.00" y2="300.21" stroke="#9690cf" stroke-width="0.8"/>
<line x1="363.40" y1="293.43" x2="366.60" y2="293.43" stroke="#9690cf" stroke-width="0.9"/>
<line x1="363.40" y1="300.21" x2="366.60" y2="300.21" stroke="#9690cf" stroke-width="0.9"/>
<rect x="363.50" y="295.32" width="3.00" height="3.00" fill="#9690cf" stroke="#9690cf" stroke-width="0.8"/>
<line x1="380.50" y1="295.97" x2="380.50" y2="302.76" stroke="#9690cf" stroke-width="0.8"/>
<line x1="378.90" y1="295.97" x2="382.10" y2="295.97" stroke="#9690cf" stroke-width="0.9"/>
<line x1="378.90" y1="302.76" x2="382.10" y2="302.76" stroke="#9690cf" stroke-width="0.9"/>
<rect x="379.00" y="297.86" width="3.00" height="3.00" fill="#9690cf" stroke="#9690cf" stroke-width="0.8"/>
<line x1="285.80" y1="219.65" x2="285.80" y2="226.44" stroke="#9690cf" stroke-width="0.8"/>
<line x1="284.20" y1="219.65" x2="287.40" y2="219.65" stroke="#9690cf" stroke-width="0.9"/>
<line x1="284.20" y1="226.44" x2="287.40" y2="226.44" stroke="#9690cf" stroke-width="0.9"/>
<rect x="284.38" y="221.62" width="2.85" height="2.85" fill="#cac7e7" stroke="#9690cf" stroke-width="0.8"/>
<line x1="300.80" y1="221.35" x2="300.80" y2="228.13" stroke="#9690cf" stroke-width="0.8"/>
<line x1="299.20" y1="221.35" x2="302.40" y2="221.35" stroke="#9690cf" stroke-width="0.9"/>
<line x1="299.20" y1="228.13" x2="302.40" y2="228.13" stroke="#9690cf" stroke-width="0.9"/>
<rect x="299.38" y="223.31" width="2.85" height="2.85" fill="#cac7e7" stroke="#9690cf" stroke-width="0.8"/>
<line x1="315.80" y1="226.69" x2="315.80" y2="233.47" stroke="#9690cf" stroke-width="0.8"/>
<line x1="314.20" y1="226.69" x2="317.40" y2="226.69" stroke="#9690cf" stroke-width="0.9"/>
<line x1="314.20" y1="233.47" x2="317.40" y2="233.47" stroke="#9690cf" stroke-width="0.9"/>
<rect x="314.38" y="228.66" width="2.85" height="2.85" fill="#cac7e7" stroke="#9690cf" stroke-width="0.8"/>
<line x1="330.60" y1="232.37" x2="330.60" y2="239.16" stroke="#9690cf" stroke-width="0.8"/>
<line x1="329.00" y1="232.37" x2="332.20" y2="232.37" stroke="#9690cf" stroke-width="0.9"/>
<line x1="329.00" y1="239.16" x2="332.20" y2="239.16" stroke="#9690cf" stroke-width="0.9"/>
<rect x="329.18" y="234.34" width="2.85" height="2.85" fill="#cac7e7" stroke="#9690cf" stroke-width="0.8"/>
<line x1="339.20" y1="234.07" x2="339.20" y2="244.24" stroke="#9690cf" stroke-width="0.8"/>
<line x1="337.60" y1="234.07" x2="340.80" y2="234.07" stroke="#9690cf" stroke-width="0.9"/>
<line x1="337.60" y1="244.24" x2="340.80" y2="244.24" stroke="#9690cf" stroke-width="0.9"/>
<rect x="337.77" y="237.73" width="2.85" height="2.85" fill="#cac7e7" stroke="#9690cf" stroke-width="0.8"/>
<line x1="345.30" y1="242.55" x2="345.30" y2="249.33" stroke="#9690cf" stroke-width="0.8"/>
<line x1="343.70" y1="242.55" x2="346.90" y2="242.55" stroke="#9690cf" stroke-width="0.9"/>
<line x1="343.70" y1="249.33" x2="346.90" y2="249.33" stroke="#9690cf" stroke-width="0.9"/>
<rect x="343.88" y="244.51" width="2.85" height="2.85" fill="#cac7e7" stroke="#9690cf" stroke-width="0.8"/>
<line x1="350.20" y1="258.66" x2="350.20" y2="265.44" stroke="#9690cf" stroke-width="0.8"/>
<line x1="348.60" y1="258.66" x2="351.80" y2="258.66" stroke="#9690cf" stroke-width="0.9"/>
<line x1="348.60" y1="265.44" x2="351.80" y2="265.44" stroke="#9690cf" stroke-width="0.9"/>
<rect x="348.77" y="260.63" width="2.85" height="2.85" fill="#cac7e7" stroke="#9690cf" stroke-width="0.8"/>
<line x1="365.00" y1="269.68" x2="365.00" y2="281.56" stroke="#9690cf" stroke-width="0.8"/>
<line x1="363.40" y1="269.68" x2="366.60" y2="269.68" stroke="#9690cf" stroke-width="0.9"/>
<line x1="363.40" y1="281.56" x2="366.60" y2="281.56" stroke="#9690cf" stroke-width="0.9"/>
<rect x="363.57" y="274.19" width="2.85" height="2.85" fill="#cac7e7" stroke="#9690cf" stroke-width="0.8"/>
<line x1="380.50" y1="281.90" x2="380.50" y2="288.68" stroke="#9690cf" stroke-width="0.8"/>
<line x1="378.90" y1="281.90" x2="382.10" y2="281.90" stroke="#9690cf" stroke-width="0.9"/>
<line x1="378.90" y1="288.68" x2="382.10" y2="288.68" stroke="#9690cf" stroke-width="0.9"/>
<rect x="379.07" y="283.86" width="2.85" height="2.85" fill="#cac7e7" stroke="#9690cf" stroke-width="0.8"/>
<line x1="272.50" y1="203.70" x2="272.50" y2="306.00" stroke="#111" stroke-width="1.4"/>
<line x1="271.80" y1="305.30" x2="394.60" y2="305.30" stroke="#111" stroke-width="1.4"/>
<line x1="269.00" y1="305.30" x2="272.50" y2="305.30" stroke="#231f20" stroke-width="0.9"/>
<text x="266.60" y="308.30" font-size="8.4" fill="#231f20" stroke="#231f20" stroke-width="0.15" text-anchor="end" textLength="4.25" lengthAdjust="spacingAndGlyphs">0</text>
<line x1="269.00" y1="262.90" x2="272.50" y2="262.90" stroke="#231f20" stroke-width="0.9"/>
<text x="266.60" y="265.90" font-size="8.4" fill="#231f20" stroke="#231f20" stroke-width="0.15" text-anchor="end" textLength="8.50" lengthAdjust="spacingAndGlyphs">50</text>
<line x1="269.00" y1="220.50" x2="272.50" y2="220.50" stroke="#231f20" stroke-width="0.9"/>
<text x="266.60" y="223.50" font-size="8.4" fill="#231f20" stroke="#231f20" stroke-width="0.15" text-anchor="end" textLength="12.75" lengthAdjust="spacingAndGlyphs">100</text>
<line x1="272.50" y1="305.30" x2="272.50" y2="307.30" stroke="#231f20" stroke-width="0.9"/>
<text x="272.80" y="317.90" font-size="8.4" fill="#231f20" stroke="#231f20" stroke-width="0.15" text-anchor="end">2</text>
<text x="272.70" y="314.60" font-size="5.6" fill="#231f20" stroke="#231f20" stroke-width="0.15">2</text>
<line x1="302.25" y1="305.30" x2="302.25" y2="307.30" stroke="#231f20" stroke-width="0.9"/>
<text x="302.55" y="317.90" font-size="8.4" fill="#231f20" stroke="#231f20" stroke-width="0.15" text-anchor="end">2</text>
<text x="302.45" y="314.60" font-size="5.6" fill="#231f20" stroke="#231f20" stroke-width="0.15">4</text>
<line x1="332.00" y1="305.30" x2="332.00" y2="307.30" stroke="#231f20" stroke-width="0.9"/>
<text x="332.30" y="317.90" font-size="8.4" fill="#231f20" stroke="#231f20" stroke-width="0.15" text-anchor="end">2</text>
<text x="332.20" y="314.60" font-size="5.6" fill="#231f20" stroke="#231f20" stroke-width="0.15">6</text>
<line x1="361.75" y1="305.30" x2="361.75" y2="307.30" stroke="#231f20" stroke-width="0.9"/>
<text x="362.05" y="317.90" font-size="8.4" fill="#231f20" stroke="#231f20" stroke-width="0.15" text-anchor="end">2</text>
<text x="361.95" y="314.60" font-size="5.6" fill="#231f20" stroke="#231f20" stroke-width="0.15">8</text>
<line x1="391.50" y1="305.30" x2="391.50" y2="307.30" stroke="#231f20" stroke-width="0.9"/>
<text x="391.80" y="317.90" font-size="8.4" fill="#231f20" stroke="#231f20" stroke-width="0.15" text-anchor="end">2</text>
<text x="391.70" y="314.60" font-size="5.6" fill="#231f20" stroke="#231f20" stroke-width="0.15">10</text>
<text x="246.50" y="253.80" font-size="9.0" fill="#231f20" stroke="#231f20" stroke-width="0.15" text-anchor="middle" textLength="82.50" lengthAdjust="spacingAndGlyphs" transform="rotate(-90 246.50 253.80)">Relative cell viability (%)</text>
<text x="300.80" y="331.30" font-size="9.0" fill="#231f20" stroke="#231f20" stroke-width="0.15" textLength="65.70" lengthAdjust="spacingAndGlyphs">Concentration (nM)</text>
<line x1="402.65" y1="205.20" x2="403.55" y2="205.20" stroke="#9690cf" stroke-width="0.9"/>
<line x1="403.95" y1="205.20" x2="404.85" y2="205.20" stroke="#9690cf" stroke-width="0.9"/>
<line x1="409.75" y1="205.20" x2="410.65" y2="205.20" stroke="#9690cf" stroke-width="0.9"/>
<line x1="411.05" y1="205.20" x2="411.95" y2="205.20" stroke="#9690cf" stroke-width="0.9"/>
<rect x="405.64" y="203.54" width="3.32" height="3.32" fill="#cac7e7" stroke="#9690cf" stroke-width="0.8"/>
<text x="414.70" y="207.90" font-size="7.8" fill="#231f20" stroke="#231f20" stroke-width="0.15" textLength="50.30" lengthAdjust="spacingAndGlyphs">ARP-1 CTR-KO</text>
<line x1="402.70" y1="215.92" x2="411.90" y2="215.92" stroke="#9690cf" stroke-width="0.9"/>
<rect x="406.15" y="214.77" width="2.30" height="2.30" fill="#9690cf" stroke="#9690cf" stroke-width="0.8"/>
<text x="414.70" y="218.62" font-size="7.8" fill="#231f20" stroke="#231f20" stroke-width="0.15" textLength="49.05" lengthAdjust="spacingAndGlyphs">ARP-1 MIF-KO</text>
<line x1="402.65" y1="226.64" x2="403.55" y2="226.64" stroke="#2b4b8c" stroke-width="0.9"/>
<line x1="403.95" y1="226.64" x2="404.85" y2="226.64" stroke="#2b4b8c" stroke-width="0.9"/>
<line x1="409.75" y1="226.64" x2="410.65" y2="226.64" stroke="#2b4b8c" stroke-width="0.9"/>
<line x1="411.05" y1="226.64" x2="411.95" y2="226.64" stroke="#2b4b8c" stroke-width="0.9"/>
<path d="M407.30,224.65 L409.13,227.97 L405.47,227.97 Z" fill="#95a5c5" stroke="#2b4b8c" stroke-width="0.8"/>
<text x="414.70" y="229.34" font-size="7.8" fill="#231f20" stroke="#231f20" stroke-width="0.15" textLength="53.30" lengthAdjust="spacingAndGlyphs">MM.1S CTR-KO</text>
<line x1="402.70" y1="237.36" x2="411.90" y2="237.36" stroke="#2b4b8c" stroke-width="0.9"/>
<path d="M407.30,235.98 L408.56,238.28 L406.04,238.28 Z" fill="#2b4b8c" stroke="#2b4b8c" stroke-width="0.8"/>
<text x="414.70" y="240.06" font-size="7.8" fill="#231f20" stroke="#231f20" stroke-width="0.15" textLength="51.55" lengthAdjust="spacingAndGlyphs">MM.1S MIF-KO</text>
<line x1="402.65" y1="248.08" x2="403.55" y2="248.08" stroke="#b5163f" stroke-width="0.9"/>
<line x1="403.95" y1="248.08" x2="404.85" y2="248.08" stroke="#b5163f" stroke-width="0.9"/>
<line x1="409.75" y1="248.08" x2="410.65" y2="248.08" stroke="#b5163f" stroke-width="0.9"/>
<line x1="411.05" y1="248.08" x2="411.95" y2="248.08" stroke="#b5163f" stroke-width="0.9"/>
<path d="M407.30,246.00 L409.38,248.08 L407.30,250.16 L405.22,248.08 Z" fill="#da8a9f" stroke="#b5163f" stroke-width="0.8"/>
<text x="414.70" y="250.78" font-size="7.8" fill="#231f20" stroke="#231f20" stroke-width="0.15" textLength="54.05" lengthAdjust="spacingAndGlyphs">MM.1R CTR-KO</text>
<line x1="402.70" y1="258.80" x2="411.90" y2="258.80" stroke="#b5163f" stroke-width="0.9"/>
<path d="M407.30,257.36 L408.74,258.80 L407.30,260.24 L405.86,258.80 Z" fill="#b5163f" stroke="#b5163f" stroke-width="0.8"/>
<text x="414.70" y="261.50" font-size="7.8" fill="#231f20" stroke="#231f20" stroke-width="0.15" textLength="52.30" lengthAdjust="spacingAndGlyphs">MM.1R MIF-KO</text>
<line x1="402.65" y1="269.52" x2="403.55" y2="269.52" stroke="#6cb84a" stroke-width="0.9"/>
<line x1="403.95" y1="269.52" x2="404.85" y2="269.52" stroke="#6cb84a" stroke-width="0.9"/>
<line x1="409.75" y1="269.52" x2="410.65" y2="269.52" stroke="#6cb84a" stroke-width="0.9"/>
<line x1="411.05" y1="269.52" x2="411.95" y2="269.52" stroke="#6cb84a" stroke-width="0.9"/>
<path d="M407.30,271.52 L409.13,268.19 L405.47,268.19 Z" fill="#b5dca4" stroke="#6cb84a" stroke-width="0.8"/>
<text x="414.70" y="272.22" font-size="7.8" fill="#231f20" stroke="#231f20" stroke-width="0.15" textLength="69.80" lengthAdjust="spacingAndGlyphs">KMS-12-BM CTR-KO</text>
<line x1="402.70" y1="280.24" x2="411.90" y2="280.24" stroke="#6cb84a" stroke-width="0.9"/>
<path d="M407.30,281.62 L408.56,279.32 L406.04,279.32 Z" fill="#6cb84a" stroke="#6cb84a" stroke-width="0.8"/>
<text x="414.70" y="282.94" font-size="7.8" fill="#231f20" stroke="#231f20" stroke-width="0.15" textLength="68.30" lengthAdjust="spacingAndGlyphs">KMS-12-BM MIF-KO</text>
<line x1="402.65" y1="290.96" x2="403.55" y2="290.96" stroke="#e69a2e" stroke-width="0.9"/>
<line x1="403.95" y1="290.96" x2="404.85" y2="290.96" stroke="#e69a2e" stroke-width="0.9"/>
<line x1="409.75" y1="290.96" x2="410.65" y2="290.96" stroke="#e69a2e" stroke-width="0.9"/>
<line x1="411.05" y1="290.96" x2="411.95" y2="290.96" stroke="#e69a2e" stroke-width="0.9"/>
<circle cx="407.30" cy="290.96" r="1.66" fill="#f2cc96" stroke="#e69a2e" stroke-width="0.8"/>
<text x="414.70" y="293.66" font-size="7.8" fill="#231f20" stroke="#231f20" stroke-width="0.15" textLength="47.30" lengthAdjust="spacingAndGlyphs">U266 CTR-KO</text>
<line x1="402.70" y1="301.68" x2="411.90" y2="301.68" stroke="#e69a2e" stroke-width="0.9"/>
<circle cx="407.30" cy="301.68" r="1.15" fill="#e69a2e" stroke="#e69a2e" stroke-width="0.8"/>
<text x="414.70" y="304.38" font-size="7.8" fill="#231f20" stroke="#231f20" stroke-width="0.15" textLength="46.05" lengthAdjust="spacingAndGlyphs">U266 MIF-KO</text>
<text x="9.30" y="368.80" font-size="12.5" fill="#000" stroke="#000" stroke-width="0.15" font-weight="bold" textLength="6.90" lengthAdjust="spacingAndGlyphs">F</text>
<text x="101.30" y="369.20" font-size="9.8" fill="#231f20" stroke="#231f20" stroke-width="0.15" text-anchor="middle" textLength="14.00" lengthAdjust="spacingAndGlyphs">Cfz</text>
<polyline points="53.40,398.03 68.50,415.97 83.60,427.92 98.20,439.02 107.20,450.98 113.40,461.23 118.40,462.51 132.50,463.79 147.50,463.79" fill="none" stroke="#e69a2e" stroke-width="1.15" stroke-linejoin="round"/>
<polyline points="53.40,392.91 68.50,397.18 83.60,401.45 98.20,400.59 107.20,409.99 113.40,421.09 118.40,429.89 132.50,439.88 147.50,450.13" fill="none" stroke="#e69a2e" stroke-width="1.1" stroke-linejoin="round" stroke-dasharray="2.2,1.6"/>
<polyline points="53.40,404.01 68.50,412.55 83.60,426.21 98.20,439.19 107.20,450.98 113.40,460.37 118.40,460.37 132.50,461.23 147.50,461.23" fill="none" stroke="#6cb84a" stroke-width="1.15" stroke-linejoin="round"/>
<polyline points="53.40,394.62 68.50,399.74 83.60,402.56 98.20,404.18 107.20,415.97 113.40,428.35 118.40,436.80 132.50,455.25 147.50,457.81" fill="none" stroke="#6cb84a" stroke-width="1.1" stroke-linejoin="round" stroke-dasharray="2.2,1.6"/>
<polyline points="53.40,401.11 68.50,422.80 83.60,437.66 98.20,447.56 107.20,450.98 113.40,462.94 118.40,463.79 132.50,466.35 147.50,466.35" fill="none" stroke="#b5163f" stroke-width="1.15" stroke-linejoin="round"/>
<polyline points="53.40,391.20 68.50,392.57 83.60,398.89 98.20,412.81 107.20,427.92 113.40,438.43 118.40,448.42 132.50,461.23 147.50,463.79" fill="none" stroke="#b5163f" stroke-width="1.1" stroke-linejoin="round" stroke-dasharray="2.2,1.6"/>
<polyline points="53.40,399.74 68.50,425.36 83.60,434.75 98.20,455.51 107.20,464.05 113.40,463.79 118.40,464.64 132.50,465.50 147.50,466.35" fill="none" stroke="#2b4b8c" stroke-width="1.15" stroke-linejoin="round"/>
<polyline points="53.40,393.76 68.50,396.32 83.60,402.56 98.20,408.28 107.20,426.21 113.40,436.46 118.40,450.13 132.50,459.52 147.50,462.08" fill="none" stroke="#2b4b8c" stroke-width="1.1" stroke-linejoin="round" stroke-dasharray="2.2,1.6"/>
<polyline points="53.40,398.03 68.50,412.55 83.60,428.35 98.20,446.97 107.20,456.96 113.40,464.81 118.40,471.31 132.50,470.28 147.50,470.62" fill="none" stroke="#9690cf" stroke-width="1.15" stroke-linejoin="round"/>
<polyline points="53.40,393.25 68.50,396.32 83.60,402.56 98.20,408.28 107.20,418.96 113.40,433.90 118.40,439.88 132.50,455.25 147.50,459.52" fill="none" stroke="#9690cf" stroke-width="1.1" stroke-linejoin="round" stroke-dasharray="2.2,1.6"/>
<line x1="53.40" y1="394.62" x2="53.40" y2="401.45" stroke="#e69a2e" stroke-width="0.8"/>
<line x1="51.80" y1="394.62" x2="55.00" y2="394.62" stroke="#e69a2e" stroke-width="0.9"/>
<line x1="51.80" y1="401.45" x2="55.00" y2="401.45" stroke="#e69a2e" stroke-width="0.9"/>
<circle cx="53.40" cy="398.03" r="1.50" fill="#e69a2e" stroke="#e69a2e" stroke-width="0.8"/>
<line x1="68.50" y1="412.55" x2="68.50" y2="419.38" stroke="#e69a2e" stroke-width="0.8"/>
<line x1="66.90" y1="412.55" x2="70.10" y2="412.55" stroke="#e69a2e" stroke-width="0.9"/>
<line x1="66.90" y1="419.38" x2="70.10" y2="419.38" stroke="#e69a2e" stroke-width="0.9"/>
<circle cx="68.50" cy="415.97" r="1.50" fill="#e69a2e" stroke="#e69a2e" stroke-width="0.8"/>
<line x1="83.60" y1="424.51" x2="83.60" y2="431.34" stroke="#e69a2e" stroke-width="0.8"/>
<line x1="82.00" y1="424.51" x2="85.20" y2="424.51" stroke="#e69a2e" stroke-width="0.9"/>
<line x1="82.00" y1="431.34" x2="85.20" y2="431.34" stroke="#e69a2e" stroke-width="0.9"/>
<circle cx="83.60" cy="427.92" r="1.50" fill="#e69a2e" stroke="#e69a2e" stroke-width="0.8"/>
<line x1="98.20" y1="435.61" x2="98.20" y2="442.44" stroke="#e69a2e" stroke-width="0.8"/>
<line x1="96.60" y1="435.61" x2="99.80" y2="435.61" stroke="#e69a2e" stroke-width="0.9"/>
<line x1="96.60" y1="442.44" x2="99.80" y2="442.44" stroke="#e69a2e" stroke-width="0.9"/>
<circle cx="98.20" cy="439.02" r="1.50" fill="#e69a2e" stroke="#e69a2e" stroke-width="0.8"/>
<line x1="107.20" y1="447.56" x2="107.20" y2="454.40" stroke="#e69a2e" stroke-width="0.8"/>
<line x1="105.60" y1="447.56" x2="108.80" y2="447.56" stroke="#e69a2e" stroke-width="0.9"/>
<line x1="105.60" y1="454.40" x2="108.80" y2="454.40" stroke="#e69a2e" stroke-width="0.9"/>
<circle cx="107.20" cy="450.98" r="1.50" fill="#e69a2e" stroke="#e69a2e" stroke-width="0.8"/>
<line x1="113.40" y1="457.81" x2="113.40" y2="464.64" stroke="#e69a2e" stroke-width="0.8"/>
<line x1="111.80" y1="457.81" x2="115.00" y2="457.81" stroke="#e69a2e" stroke-width="0.9"/>
<line x1="111.80" y1="464.64" x2="115.00" y2="464.64" stroke="#e69a2e" stroke-width="0.9"/>
<circle cx="113.40" cy="461.23" r="1.50" fill="#e69a2e" stroke="#e69a2e" stroke-width="0.8"/>
<line x1="118.40" y1="459.09" x2="118.40" y2="465.93" stroke="#e69a2e" stroke-width="0.8"/>
<line x1="116.80" y1="459.09" x2="120.00" y2="459.09" stroke="#e69a2e" stroke-width="0.9"/>
<line x1="116.80" y1="465.93" x2="120.00" y2="465.93" stroke="#e69a2e" stroke-width="0.9"/>
<circle cx="118.40" cy="462.51" r="1.50" fill="#e69a2e" stroke="#e69a2e" stroke-width="0.8"/>
<line x1="132.50" y1="460.37" x2="132.50" y2="467.21" stroke="#e69a2e" stroke-width="0.8"/>
<line x1="130.90" y1="460.37" x2="134.10" y2="460.37" stroke="#e69a2e" stroke-width="0.9"/>
<line x1="130.90" y1="467.21" x2="134.10" y2="467.21" stroke="#e69a2e" stroke-width="0.9"/>
<circle cx="132.50" cy="463.79" r="1.50" fill="#e69a2e" stroke="#e69a2e" stroke-width="0.8"/>
<line x1="147.50" y1="460.37" x2="147.50" y2="467.21" stroke="#e69a2e" stroke-width="0.8"/>
<line x1="145.90" y1="460.37" x2="149.10" y2="460.37" stroke="#e69a2e" stroke-width="0.9"/>
<line x1="145.90" y1="467.21" x2="149.10" y2="467.21" stroke="#e69a2e" stroke-width="0.9"/>
<circle cx="147.50" cy="463.79" r="1.50" fill="#e69a2e" stroke="#e69a2e" stroke-width="0.8"/>
<line x1="53.40" y1="389.49" x2="53.40" y2="396.32" stroke="#e69a2e" stroke-width="0.8"/>
<line x1="51.80" y1="389.49" x2="55.00" y2="389.49" stroke="#e69a2e" stroke-width="0.9"/>
<line x1="51.80" y1="396.32" x2="55.00" y2="396.32" stroke="#e69a2e" stroke-width="0.9"/>
<circle cx="53.40" cy="392.91" r="1.42" fill="#f2cc96" stroke="#e69a2e" stroke-width="0.8"/>
<line x1="68.50" y1="393.76" x2="68.50" y2="400.59" stroke="#e69a2e" stroke-width="0.8"/>
<line x1="66.90" y1="393.76" x2="70.10" y2="393.76" stroke="#e69a2e" stroke-width="0.9"/>
<line x1="66.90" y1="400.59" x2="70.10" y2="400.59" stroke="#e69a2e" stroke-width="0.9"/>
<circle cx="68.50" cy="397.18" r="1.42" fill="#f2cc96" stroke="#e69a2e" stroke-width="0.8"/>
<line x1="83.60" y1="398.03" x2="83.60" y2="404.86" stroke="#e69a2e" stroke-width="0.8"/>
<line x1="82.00" y1="398.03" x2="85.20" y2="398.03" stroke="#e69a2e" stroke-width="0.9"/>
<line x1="82.00" y1="404.86" x2="85.20" y2="404.86" stroke="#e69a2e" stroke-width="0.9"/>
<circle cx="83.60" cy="401.45" r="1.42" fill="#f2cc96" stroke="#e69a2e" stroke-width="0.8"/>
<line x1="98.20" y1="396.32" x2="98.20" y2="404.86" stroke="#e69a2e" stroke-width="0.8"/>
<line x1="96.60" y1="396.32" x2="99.80" y2="396.32" stroke="#e69a2e" stroke-width="0.9"/>
<line x1="96.60" y1="404.86" x2="99.80" y2="404.86" stroke="#e69a2e" stroke-width="0.9"/>
<circle cx="98.20" cy="400.59" r="1.42" fill="#f2cc96" stroke="#e69a2e" stroke-width="0.8"/>
<line x1="107.20" y1="405.72" x2="107.20" y2="414.26" stroke="#e69a2e" stroke-width="0.8"/>
<line x1="105.60" y1="405.72" x2="108.80" y2="405.72" stroke="#e69a2e" stroke-width="0.9"/>
<line x1="105.60" y1="414.26" x2="108.80" y2="414.26" stroke="#e69a2e" stroke-width="0.9"/>
<circle cx="107.20" cy="409.99" r="1.42" fill="#f2cc96" stroke="#e69a2e" stroke-width="0.8"/>
<line x1="113.40" y1="417.67" x2="113.40" y2="424.51" stroke="#e69a2e" stroke-width="0.8"/>
<line x1="111.80" y1="417.67" x2="115.00" y2="417.67" stroke="#e69a2e" stroke-width="0.9"/>
<line x1="111.80" y1="424.51" x2="115.00" y2="424.51" stroke="#e69a2e" stroke-width="0.9"/>
<circle cx="113.40" cy="421.09" r="1.42" fill="#f2cc96" stroke="#e69a2e" stroke-width="0.8"/>
<line x1="118.40" y1="426.47" x2="118.40" y2="433.30" stroke="#e69a2e" stroke-width="0.8"/>
<line x1="116.80" y1="426.47" x2="120.00" y2="426.47" stroke="#e69a2e" stroke-width="0.9"/>
<line x1="116.80" y1="433.30" x2="120.00" y2="433.30" stroke="#e69a2e" stroke-width="0.9"/>
<circle cx="118.40" cy="429.89" r="1.42" fill="#f2cc96" stroke="#e69a2e" stroke-width="0.8"/>
<line x1="132.50" y1="435.61" x2="132.50" y2="444.15" stroke="#e69a2e" stroke-width="0.8"/>
<line x1="130.90" y1="435.61" x2="134.10" y2="435.61" stroke="#e69a2e" stroke-width="0.9"/>
<line x1="130.90" y1="444.15" x2="134.10" y2="444.15" stroke="#e69a2e" stroke-width="0.9"/>
<circle cx="132.50" cy="439.88" r="1.42" fill="#f2cc96" stroke="#e69a2e" stroke-width="0.8"/>
<line x1="147.50" y1="446.71" x2="147.50" y2="453.54" stroke="#e69a2e" stroke-width="0.8"/>
<line x1="145.90" y1="446.71" x2="149.10" y2="446.71" stroke="#e69a2e" stroke-width="0.9"/>
<line x1="145.90" y1="453.54" x2="149.10" y2="453.54" stroke="#e69a2e" stroke-width="0.9"/>
<circle cx="147.50" cy="450.13" r="1.42" fill="#f2cc96" stroke="#e69a2e" stroke-width="0.8"/>
<line x1="53.40" y1="400.59" x2="53.40" y2="407.43" stroke="#6cb84a" stroke-width="0.8"/>
<line x1="51.80" y1="400.59" x2="55.00" y2="400.59" stroke="#6cb84a" stroke-width="0.9"/>
<line x1="51.80" y1="407.43" x2="55.00" y2="407.43" stroke="#6cb84a" stroke-width="0.9"/>
<path d="M53.40,405.81 L55.05,402.81 L51.75,402.81 Z" fill="#6cb84a" stroke="#6cb84a" stroke-width="0.8"/>
<line x1="68.50" y1="409.13" x2="68.50" y2="415.97" stroke="#6cb84a" stroke-width="0.8"/>
<line x1="66.90" y1="409.13" x2="70.10" y2="409.13" stroke="#6cb84a" stroke-width="0.9"/>
<line x1="66.90" y1="415.97" x2="70.10" y2="415.97" stroke="#6cb84a" stroke-width="0.9"/>
<path d="M68.50,414.35 L70.15,411.35 L66.85,411.35 Z" fill="#6cb84a" stroke="#6cb84a" stroke-width="0.8"/>
<line x1="83.60" y1="421.94" x2="83.60" y2="430.48" stroke="#6cb84a" stroke-width="0.8"/>
<line x1="82.00" y1="421.94" x2="85.20" y2="421.94" stroke="#6cb84a" stroke-width="0.9"/>
<line x1="82.00" y1="430.48" x2="85.20" y2="430.48" stroke="#6cb84a" stroke-width="0.9"/>
<path d="M83.60,428.01 L85.25,425.01 L81.95,425.01 Z" fill="#6cb84a" stroke="#6cb84a" stroke-width="0.8"/>
<line x1="98.20" y1="435.78" x2="98.20" y2="442.61" stroke="#6cb84a" stroke-width="0.8"/>
<line x1="96.60" y1="435.78" x2="99.80" y2="435.78" stroke="#6cb84a" stroke-width="0.9"/>
<line x1="96.60" y1="442.61" x2="99.80" y2="442.61" stroke="#6cb84a" stroke-width="0.9"/>
<path d="M98.20,440.99 L99.85,437.99 L96.55,437.99 Z" fill="#6cb84a" stroke="#6cb84a" stroke-width="0.8"/>
<line x1="107.20" y1="447.56" x2="107.20" y2="454.40" stroke="#6cb84a" stroke-width="0.8"/>
<line x1="105.60" y1="447.56" x2="108.80" y2="447.56" stroke="#6cb84a" stroke-width="0.9"/>
<line x1="105.60" y1="454.40" x2="108.80" y2="454.40" stroke="#6cb84a" stroke-width="0.9"/>
<path d="M107.20,452.78 L108.85,449.78 L105.55,449.78 Z" fill="#6cb84a" stroke="#6cb84a" stroke-width="0.8"/>
<line x1="113.40" y1="456.96" x2="113.40" y2="463.79" stroke="#6cb84a" stroke-width="0.8"/>
<line x1="111.80" y1="456.96" x2="115.00" y2="456.96" stroke="#6cb84a" stroke-width="0.9"/>
<line x1="111.80" y1="463.79" x2="115.00" y2="463.79" stroke="#6cb84a" stroke-width="0.9"/>
<path d="M113.40,462.17 L115.05,459.17 L111.75,459.17 Z" fill="#6cb84a" stroke="#6cb84a" stroke-width="0.8"/>
<line x1="118.40" y1="456.96" x2="118.40" y2="463.79" stroke="#6cb84a" stroke-width="0.8"/>
<line x1="116.80" y1="456.96" x2="120.00" y2="456.96" stroke="#6cb84a" stroke-width="0.9"/>
<line x1="116.80" y1="463.79" x2="120.00" y2="463.79" stroke="#6cb84a" stroke-width="0.9"/>
<path d="M118.40,462.17 L120.05,459.17 L116.75,459.17 Z" fill="#6cb84a" stroke="#6cb84a" stroke-width="0.8"/>
<line x1="132.50" y1="457.81" x2="132.50" y2="464.64" stroke="#6cb84a" stroke-width="0.8"/>
<line x1="130.90" y1="457.81" x2="134.10" y2="457.81" stroke="#6cb84a" stroke-width="0.9"/>
<line x1="130.90" y1="464.64" x2="134.10" y2="464.64" stroke="#6cb84a" stroke-width="0.9"/>
<path d="M132.50,463.03 L134.15,460.03 L130.85,460.03 Z" fill="#6cb84a" stroke="#6cb84a" stroke-width="0.8"/>
<line x1="147.50" y1="457.81" x2="147.50" y2="464.64" stroke="#6cb84a" stroke-width="0.8"/>
<line x1="145.90" y1="457.81" x2="149.10" y2="457.81" stroke="#6cb84a" stroke-width="0.9"/>
<line x1="145.90" y1="464.64" x2="149.10" y2="464.64" stroke="#6cb84a" stroke-width="0.9"/>
<path d="M147.50,463.03 L149.15,460.03 L145.85,460.03 Z" fill="#6cb84a" stroke="#6cb84a" stroke-width="0.8"/>
<line x1="53.40" y1="391.20" x2="53.40" y2="398.03" stroke="#6cb84a" stroke-width="0.8"/>
<line x1="51.80" y1="391.20" x2="55.00" y2="391.20" stroke="#6cb84a" stroke-width="0.9"/>
<line x1="51.80" y1="398.03" x2="55.00" y2="398.03" stroke="#6cb84a" stroke-width="0.9"/>
<path d="M53.40,396.33 L54.97,393.48 L51.83,393.48 Z" fill="#b5dca4" stroke="#6cb84a" stroke-width="0.8"/>
<line x1="68.50" y1="392.91" x2="68.50" y2="406.57" stroke="#6cb84a" stroke-width="0.8"/>
<line x1="66.90" y1="392.91" x2="70.10" y2="392.91" stroke="#6cb84a" stroke-width="0.9"/>
<line x1="66.90" y1="406.57" x2="70.10" y2="406.57" stroke="#6cb84a" stroke-width="0.9"/>
<path d="M68.50,401.45 L70.07,398.60 L66.93,398.60 Z" fill="#b5dca4" stroke="#6cb84a" stroke-width="0.8"/>
<line x1="83.60" y1="398.29" x2="83.60" y2="406.83" stroke="#6cb84a" stroke-width="0.8"/>
<line x1="82.00" y1="398.29" x2="85.20" y2="398.29" stroke="#6cb84a" stroke-width="0.9"/>
<line x1="82.00" y1="406.83" x2="85.20" y2="406.83" stroke="#6cb84a" stroke-width="0.9"/>
<path d="M83.60,404.27 L85.17,401.42 L82.03,401.42 Z" fill="#b5dca4" stroke="#6cb84a" stroke-width="0.8"/>
<line x1="98.20" y1="400.76" x2="98.20" y2="407.60" stroke="#6cb84a" stroke-width="0.8"/>
<line x1="96.60" y1="400.76" x2="99.80" y2="400.76" stroke="#6cb84a" stroke-width="0.9"/>
<line x1="96.60" y1="407.60" x2="99.80" y2="407.60" stroke="#6cb84a" stroke-width="0.9"/>
<path d="M98.20,405.89 L99.77,403.04 L96.63,403.04 Z" fill="#b5dca4" stroke="#6cb84a" stroke-width="0.8"/>
<line x1="107.20" y1="412.55" x2="107.20" y2="419.38" stroke="#6cb84a" stroke-width="0.8"/>
<line x1="105.60" y1="412.55" x2="108.80" y2="412.55" stroke="#6cb84a" stroke-width="0.9"/>
<line x1="105.60" y1="419.38" x2="108.80" y2="419.38" stroke="#6cb84a" stroke-width="0.9"/>
<path d="M107.20,417.68 L108.77,414.83 L105.63,414.83 Z" fill="#b5dca4" stroke="#6cb84a" stroke-width="0.8"/>
<line x1="113.40" y1="424.93" x2="113.40" y2="431.77" stroke="#6cb84a" stroke-width="0.8"/>
<line x1="111.80" y1="424.93" x2="115.00" y2="424.93" stroke="#6cb84a" stroke-width="0.9"/>
<line x1="111.80" y1="431.77" x2="115.00" y2="431.77" stroke="#6cb84a" stroke-width="0.9"/>
<path d="M113.40,430.06 L114.97,427.21 L111.83,427.21 Z" fill="#b5dca4" stroke="#6cb84a" stroke-width="0.8"/>
<line x1="118.40" y1="433.39" x2="118.40" y2="440.22" stroke="#6cb84a" stroke-width="0.8"/>
<line x1="116.80" y1="433.39" x2="120.00" y2="433.39" stroke="#6cb84a" stroke-width="0.9"/>
<line x1="116.80" y1="440.22" x2="120.00" y2="440.22" stroke="#6cb84a" stroke-width="0.9"/>
<path d="M118.40,438.51 L119.97,435.66 L116.83,435.66 Z" fill="#b5dca4" stroke="#6cb84a" stroke-width="0.8"/>
<line x1="132.50" y1="451.83" x2="132.50" y2="458.67" stroke="#6cb84a" stroke-width="0.8"/>
<line x1="130.90" y1="451.83" x2="134.10" y2="451.83" stroke="#6cb84a" stroke-width="0.9"/>
<line x1="130.90" y1="458.67" x2="134.10" y2="458.67" stroke="#6cb84a" stroke-width="0.9"/>
<path d="M132.50,456.96 L134.07,454.11 L130.93,454.11 Z" fill="#b5dca4" stroke="#6cb84a" stroke-width="0.8"/>
<line x1="147.50" y1="454.40" x2="147.50" y2="461.23" stroke="#6cb84a" stroke-width="0.8"/>
<line x1="145.90" y1="454.40" x2="149.10" y2="454.40" stroke="#6cb84a" stroke-width="0.9"/>
<line x1="145.90" y1="461.23" x2="149.10" y2="461.23" stroke="#6cb84a" stroke-width="0.9"/>
<path d="M147.50,459.52 L149.07,456.67 L145.93,456.67 Z" fill="#b5dca4" stroke="#6cb84a" stroke-width="0.8"/>
<line x1="53.40" y1="397.69" x2="53.40" y2="404.52" stroke="#b5163f" stroke-width="0.8"/>
<line x1="51.80" y1="397.69" x2="55.00" y2="397.69" stroke="#b5163f" stroke-width="0.9"/>
<line x1="51.80" y1="404.52" x2="55.00" y2="404.52" stroke="#b5163f" stroke-width="0.9"/>
<path d="M53.40,399.23 L55.27,401.11 L53.40,402.98 L51.52,401.11 Z" fill="#b5163f" stroke="#b5163f" stroke-width="0.8"/>
<line x1="68.50" y1="419.38" x2="68.50" y2="426.21" stroke="#b5163f" stroke-width="0.8"/>
<line x1="66.90" y1="419.38" x2="70.10" y2="419.38" stroke="#b5163f" stroke-width="0.9"/>
<line x1="66.90" y1="426.21" x2="70.10" y2="426.21" stroke="#b5163f" stroke-width="0.9"/>
<path d="M68.50,420.92 L70.38,422.80 L68.50,424.67 L66.62,422.80 Z" fill="#b5163f" stroke="#b5163f" stroke-width="0.8"/>
<line x1="83.60" y1="434.24" x2="83.60" y2="441.07" stroke="#b5163f" stroke-width="0.8"/>
<line x1="82.00" y1="434.24" x2="85.20" y2="434.24" stroke="#b5163f" stroke-width="0.9"/>
<line x1="82.00" y1="441.07" x2="85.20" y2="441.07" stroke="#b5163f" stroke-width="0.9"/>
<path d="M83.60,435.78 L85.47,437.66 L83.60,439.53 L81.72,437.66 Z" fill="#b5163f" stroke="#b5163f" stroke-width="0.8"/>
<line x1="98.20" y1="444.15" x2="98.20" y2="450.98" stroke="#b5163f" stroke-width="0.8"/>
<line x1="96.60" y1="444.15" x2="99.80" y2="444.15" stroke="#b5163f" stroke-width="0.9"/>
<line x1="96.60" y1="450.98" x2="99.80" y2="450.98" stroke="#b5163f" stroke-width="0.9"/>
<path d="M98.20,445.69 L100.08,447.56 L98.20,449.44 L96.33,447.56 Z" fill="#b5163f" stroke="#b5163f" stroke-width="0.8"/>
<line x1="107.20" y1="447.56" x2="107.20" y2="454.40" stroke="#b5163f" stroke-width="0.8"/>
<line x1="105.60" y1="447.56" x2="108.80" y2="447.56" stroke="#b5163f" stroke-width="0.9"/>
<line x1="105.60" y1="454.40" x2="108.80" y2="454.40" stroke="#b5163f" stroke-width="0.9"/>
<path d="M107.20,449.11 L109.08,450.98 L107.20,452.86 L105.33,450.98 Z" fill="#b5163f" stroke="#b5163f" stroke-width="0.8"/>
<line x1="113.40" y1="459.52" x2="113.40" y2="466.35" stroke="#b5163f" stroke-width="0.8"/>
<line x1="111.80" y1="459.52" x2="115.00" y2="459.52" stroke="#b5163f" stroke-width="0.9"/>
<line x1="111.80" y1="466.35" x2="115.00" y2="466.35" stroke="#b5163f" stroke-width="0.9"/>
<path d="M113.40,461.06 L115.28,462.94 L113.40,464.81 L111.53,462.94 Z" fill="#b5163f" stroke="#b5163f" stroke-width="0.8"/>
<line x1="118.40" y1="460.37" x2="118.40" y2="467.21" stroke="#b5163f" stroke-width="0.8"/>
<line x1="116.80" y1="460.37" x2="120.00" y2="460.37" stroke="#b5163f" stroke-width="0.9"/>
<line x1="116.80" y1="467.21" x2="120.00" y2="467.21" stroke="#b5163f" stroke-width="0.9"/>
<path d="M118.40,461.92 L120.28,463.79 L118.40,465.67 L116.53,463.79 Z" fill="#b5163f" stroke="#b5163f" stroke-width="0.8"/>
<line x1="132.50" y1="462.94" x2="132.50" y2="469.77" stroke="#b5163f" stroke-width="0.8"/>
<line x1="130.90" y1="462.94" x2="134.10" y2="462.94" stroke="#b5163f" stroke-width="0.9"/>
<line x1="130.90" y1="469.77" x2="134.10" y2="469.77" stroke="#b5163f" stroke-width="0.9"/>
<path d="M132.50,464.48 L134.38,466.35 L132.50,468.23 L130.62,466.35 Z" fill="#b5163f" stroke="#b5163f" stroke-width="0.8"/>
<line x1="147.50" y1="462.94" x2="147.50" y2="469.77" stroke="#b5163f" stroke-width="0.8"/>
<line x1="145.90" y1="462.94" x2="149.10" y2="462.94" stroke="#b5163f" stroke-width="0.9"/>
<line x1="145.90" y1="469.77" x2="149.10" y2="469.77" stroke="#b5163f" stroke-width="0.9"/>
<path d="M147.50,464.48 L149.38,466.35 L147.50,468.23 L145.62,466.35 Z" fill="#b5163f" stroke="#b5163f" stroke-width="0.8"/>
<line x1="53.40" y1="385.22" x2="53.40" y2="397.18" stroke="#b5163f" stroke-width="0.8"/>
<line x1="51.80" y1="385.22" x2="55.00" y2="385.22" stroke="#b5163f" stroke-width="0.9"/>
<line x1="51.80" y1="397.18" x2="55.00" y2="397.18" stroke="#b5163f" stroke-width="0.9"/>
<path d="M53.40,389.42 L55.18,391.20 L53.40,392.98 L51.62,391.20 Z" fill="#da8a9f" stroke="#b5163f" stroke-width="0.8"/>
<line x1="68.50" y1="389.15" x2="68.50" y2="395.98" stroke="#b5163f" stroke-width="0.8"/>
<line x1="66.90" y1="389.15" x2="70.10" y2="389.15" stroke="#b5163f" stroke-width="0.9"/>
<line x1="66.90" y1="395.98" x2="70.10" y2="395.98" stroke="#b5163f" stroke-width="0.9"/>
<path d="M68.50,390.79 L70.28,392.57 L68.50,394.35 L66.72,392.57 Z" fill="#da8a9f" stroke="#b5163f" stroke-width="0.8"/>
<line x1="83.60" y1="395.47" x2="83.60" y2="402.30" stroke="#b5163f" stroke-width="0.8"/>
<line x1="82.00" y1="395.47" x2="85.20" y2="395.47" stroke="#b5163f" stroke-width="0.9"/>
<line x1="82.00" y1="402.30" x2="85.20" y2="402.30" stroke="#b5163f" stroke-width="0.9"/>
<path d="M83.60,397.10 L85.38,398.89 L83.60,400.67 L81.82,398.89 Z" fill="#da8a9f" stroke="#b5163f" stroke-width="0.8"/>
<line x1="98.20" y1="409.39" x2="98.20" y2="416.22" stroke="#b5163f" stroke-width="0.8"/>
<line x1="96.60" y1="409.39" x2="99.80" y2="409.39" stroke="#b5163f" stroke-width="0.9"/>
<line x1="96.60" y1="416.22" x2="99.80" y2="416.22" stroke="#b5163f" stroke-width="0.9"/>
<path d="M98.20,411.02 L99.98,412.81 L98.20,414.59 L96.42,412.81 Z" fill="#da8a9f" stroke="#b5163f" stroke-width="0.8"/>
<line x1="107.20" y1="424.51" x2="107.20" y2="431.34" stroke="#b5163f" stroke-width="0.8"/>
<line x1="105.60" y1="424.51" x2="108.80" y2="424.51" stroke="#b5163f" stroke-width="0.9"/>
<line x1="105.60" y1="431.34" x2="108.80" y2="431.34" stroke="#b5163f" stroke-width="0.9"/>
<path d="M107.20,426.14 L108.98,427.92 L107.20,429.70 L105.42,427.92 Z" fill="#da8a9f" stroke="#b5163f" stroke-width="0.8"/>
<line x1="113.40" y1="435.01" x2="113.40" y2="441.84" stroke="#b5163f" stroke-width="0.8"/>
<line x1="111.80" y1="435.01" x2="115.00" y2="435.01" stroke="#b5163f" stroke-width="0.9"/>
<line x1="111.80" y1="441.84" x2="115.00" y2="441.84" stroke="#b5163f" stroke-width="0.9"/>
<path d="M113.40,436.64 L115.18,438.43 L113.40,440.21 L111.62,438.43 Z" fill="#da8a9f" stroke="#b5163f" stroke-width="0.8"/>
<line x1="118.40" y1="445.00" x2="118.40" y2="451.83" stroke="#b5163f" stroke-width="0.8"/>
<line x1="116.80" y1="445.00" x2="120.00" y2="445.00" stroke="#b5163f" stroke-width="0.9"/>
<line x1="116.80" y1="451.83" x2="120.00" y2="451.83" stroke="#b5163f" stroke-width="0.9"/>
<path d="M118.40,446.64 L120.18,448.42 L118.40,450.20 L116.62,448.42 Z" fill="#da8a9f" stroke="#b5163f" stroke-width="0.8"/>
<line x1="132.50" y1="457.81" x2="132.50" y2="464.64" stroke="#b5163f" stroke-width="0.8"/>
<line x1="130.90" y1="457.81" x2="134.10" y2="457.81" stroke="#b5163f" stroke-width="0.9"/>
<line x1="130.90" y1="464.64" x2="134.10" y2="464.64" stroke="#b5163f" stroke-width="0.9"/>
<path d="M132.50,459.45 L134.28,461.23 L132.50,463.01 L130.72,461.23 Z" fill="#da8a9f" stroke="#b5163f" stroke-width="0.8"/>
<line x1="147.50" y1="460.37" x2="147.50" y2="467.21" stroke="#b5163f" stroke-width="0.8"/>
<line x1="145.90" y1="460.37" x2="149.10" y2="460.37" stroke="#b5163f" stroke-width="0.9"/>
<line x1="145.90" y1="467.21" x2="149.10" y2="467.21" stroke="#b5163f" stroke-width="0.9"/>
<path d="M147.50,462.01 L149.28,463.79 L147.50,465.57 L145.72,463.79 Z" fill="#da8a9f" stroke="#b5163f" stroke-width="0.8"/>
<line x1="53.40" y1="396.32" x2="53.40" y2="403.16" stroke="#2b4b8c" stroke-width="0.8"/>
<line x1="51.80" y1="396.32" x2="55.00" y2="396.32" stroke="#2b4b8c" stroke-width="0.9"/>
<line x1="51.80" y1="403.16" x2="55.00" y2="403.16" stroke="#2b4b8c" stroke-width="0.9"/>
<path d="M53.40,397.94 L55.05,400.94 L51.75,400.94 Z" fill="#2b4b8c" stroke="#2b4b8c" stroke-width="0.8"/>
<line x1="68.50" y1="421.94" x2="68.50" y2="428.78" stroke="#2b4b8c" stroke-width="0.8"/>
<line x1="66.90" y1="421.94" x2="70.10" y2="421.94" stroke="#2b4b8c" stroke-width="0.9"/>
<line x1="66.90" y1="428.78" x2="70.10" y2="428.78" stroke="#2b4b8c" stroke-width="0.9"/>
<path d="M68.50,423.56 L70.15,426.56 L66.85,426.56 Z" fill="#2b4b8c" stroke="#2b4b8c" stroke-width="0.8"/>
<line x1="83.60" y1="431.34" x2="83.60" y2="438.17" stroke="#2b4b8c" stroke-width="0.8"/>
<line x1="82.00" y1="431.34" x2="85.20" y2="431.34" stroke="#2b4b8c" stroke-width="0.9"/>
<line x1="82.00" y1="438.17" x2="85.20" y2="438.17" stroke="#2b4b8c" stroke-width="0.9"/>
<path d="M83.60,432.95 L85.25,435.95 L81.95,435.95 Z" fill="#2b4b8c" stroke="#2b4b8c" stroke-width="0.8"/>
<line x1="98.20" y1="452.09" x2="98.20" y2="458.92" stroke="#2b4b8c" stroke-width="0.8"/>
<line x1="96.60" y1="452.09" x2="99.80" y2="452.09" stroke="#2b4b8c" stroke-width="0.9"/>
<line x1="96.60" y1="458.92" x2="99.80" y2="458.92" stroke="#2b4b8c" stroke-width="0.9"/>
<path d="M98.20,453.71 L99.85,456.71 L96.55,456.71 Z" fill="#2b4b8c" stroke="#2b4b8c" stroke-width="0.8"/>
<line x1="107.20" y1="460.63" x2="107.20" y2="467.46" stroke="#2b4b8c" stroke-width="0.8"/>
<line x1="105.60" y1="460.63" x2="108.80" y2="460.63" stroke="#2b4b8c" stroke-width="0.9"/>
<line x1="105.60" y1="467.46" x2="108.80" y2="467.46" stroke="#2b4b8c" stroke-width="0.9"/>
<path d="M107.20,462.25 L108.85,465.25 L105.55,465.25 Z" fill="#2b4b8c" stroke="#2b4b8c" stroke-width="0.8"/>
<line x1="113.40" y1="460.37" x2="113.40" y2="467.21" stroke="#2b4b8c" stroke-width="0.8"/>
<line x1="111.80" y1="460.37" x2="115.00" y2="460.37" stroke="#2b4b8c" stroke-width="0.9"/>
<line x1="111.80" y1="467.21" x2="115.00" y2="467.21" stroke="#2b4b8c" stroke-width="0.9"/>
<path d="M113.40,461.99 L115.05,464.99 L111.75,464.99 Z" fill="#2b4b8c" stroke="#2b4b8c" stroke-width="0.8"/>
<line x1="118.40" y1="461.23" x2="118.40" y2="468.06" stroke="#2b4b8c" stroke-width="0.8"/>
<line x1="116.80" y1="461.23" x2="120.00" y2="461.23" stroke="#2b4b8c" stroke-width="0.9"/>
<line x1="116.80" y1="468.06" x2="120.00" y2="468.06" stroke="#2b4b8c" stroke-width="0.9"/>
<path d="M118.40,462.84 L120.05,465.84 L116.75,465.84 Z" fill="#2b4b8c" stroke="#2b4b8c" stroke-width="0.8"/>
<line x1="132.50" y1="462.08" x2="132.50" y2="468.91" stroke="#2b4b8c" stroke-width="0.8"/>
<line x1="130.90" y1="462.08" x2="134.10" y2="462.08" stroke="#2b4b8c" stroke-width="0.9"/>
<line x1="130.90" y1="468.91" x2="134.10" y2="468.91" stroke="#2b4b8c" stroke-width="0.9"/>
<path d="M132.50,463.70 L134.15,466.70 L130.85,466.70 Z" fill="#2b4b8c" stroke="#2b4b8c" stroke-width="0.8"/>
<line x1="147.50" y1="462.94" x2="147.50" y2="469.77" stroke="#2b4b8c" stroke-width="0.8"/>
<line x1="145.90" y1="462.94" x2="149.10" y2="462.94" stroke="#2b4b8c" stroke-width="0.9"/>
<line x1="145.90" y1="469.77" x2="149.10" y2="469.77" stroke="#2b4b8c" stroke-width="0.9"/>
<path d="M147.50,464.55 L149.15,467.55 L145.85,467.55 Z" fill="#2b4b8c" stroke="#2b4b8c" stroke-width="0.8"/>
<line x1="53.40" y1="390.35" x2="53.40" y2="397.18" stroke="#2b4b8c" stroke-width="0.8"/>
<line x1="51.80" y1="390.35" x2="55.00" y2="390.35" stroke="#2b4b8c" stroke-width="0.9"/>
<line x1="51.80" y1="397.18" x2="55.00" y2="397.18" stroke="#2b4b8c" stroke-width="0.9"/>
<path d="M53.40,392.05 L54.97,394.90 L51.83,394.90 Z" fill="#95a5c5" stroke="#2b4b8c" stroke-width="0.8"/>
<line x1="68.50" y1="392.91" x2="68.50" y2="399.74" stroke="#2b4b8c" stroke-width="0.8"/>
<line x1="66.90" y1="392.91" x2="70.10" y2="392.91" stroke="#2b4b8c" stroke-width="0.9"/>
<line x1="66.90" y1="399.74" x2="70.10" y2="399.74" stroke="#2b4b8c" stroke-width="0.9"/>
<path d="M68.50,394.61 L70.07,397.46 L66.93,397.46 Z" fill="#95a5c5" stroke="#2b4b8c" stroke-width="0.8"/>
<line x1="83.60" y1="399.14" x2="83.60" y2="405.97" stroke="#2b4b8c" stroke-width="0.8"/>
<line x1="82.00" y1="399.14" x2="85.20" y2="399.14" stroke="#2b4b8c" stroke-width="0.9"/>
<line x1="82.00" y1="405.97" x2="85.20" y2="405.97" stroke="#2b4b8c" stroke-width="0.9"/>
<path d="M83.60,400.85 L85.17,403.70 L82.03,403.70 Z" fill="#95a5c5" stroke="#2b4b8c" stroke-width="0.8"/>
<line x1="98.20" y1="404.86" x2="98.20" y2="411.70" stroke="#2b4b8c" stroke-width="0.8"/>
<line x1="96.60" y1="404.86" x2="99.80" y2="404.86" stroke="#2b4b8c" stroke-width="0.9"/>
<line x1="96.60" y1="411.70" x2="99.80" y2="411.70" stroke="#2b4b8c" stroke-width="0.9"/>
<path d="M98.20,406.57 L99.77,409.42 L96.63,409.42 Z" fill="#95a5c5" stroke="#2b4b8c" stroke-width="0.8"/>
<line x1="107.20" y1="422.80" x2="107.20" y2="429.63" stroke="#2b4b8c" stroke-width="0.8"/>
<line x1="105.60" y1="422.80" x2="108.80" y2="422.80" stroke="#2b4b8c" stroke-width="0.9"/>
<line x1="105.60" y1="429.63" x2="108.80" y2="429.63" stroke="#2b4b8c" stroke-width="0.9"/>
<path d="M107.20,424.50 L108.77,427.35 L105.63,427.35 Z" fill="#95a5c5" stroke="#2b4b8c" stroke-width="0.8"/>
<line x1="113.40" y1="433.05" x2="113.40" y2="439.88" stroke="#2b4b8c" stroke-width="0.8"/>
<line x1="111.80" y1="433.05" x2="115.00" y2="433.05" stroke="#2b4b8c" stroke-width="0.9"/>
<line x1="111.80" y1="439.88" x2="115.00" y2="439.88" stroke="#2b4b8c" stroke-width="0.9"/>
<path d="M113.40,434.75 L114.97,437.60 L111.83,437.60 Z" fill="#95a5c5" stroke="#2b4b8c" stroke-width="0.8"/>
<line x1="118.40" y1="446.71" x2="118.40" y2="453.54" stroke="#2b4b8c" stroke-width="0.8"/>
<line x1="116.80" y1="446.71" x2="120.00" y2="446.71" stroke="#2b4b8c" stroke-width="0.9"/>
<line x1="116.80" y1="453.54" x2="120.00" y2="453.54" stroke="#2b4b8c" stroke-width="0.9"/>
<path d="M118.40,448.42 L119.97,451.27 L116.83,451.27 Z" fill="#95a5c5" stroke="#2b4b8c" stroke-width="0.8"/>
<line x1="132.50" y1="456.10" x2="132.50" y2="462.94" stroke="#2b4b8c" stroke-width="0.8"/>
<line x1="130.90" y1="456.10" x2="134.10" y2="456.10" stroke="#2b4b8c" stroke-width="0.9"/>
<line x1="130.90" y1="462.94" x2="134.10" y2="462.94" stroke="#2b4b8c" stroke-width="0.9"/>
<path d="M132.50,457.81 L134.07,460.66 L130.93,460.66 Z" fill="#95a5c5" stroke="#2b4b8c" stroke-width="0.8"/>
<line x1="147.50" y1="458.67" x2="147.50" y2="465.50" stroke="#2b4b8c" stroke-width="0.8"/>
<line x1="145.90" y1="458.67" x2="149.10" y2="458.67" stroke="#2b4b8c" stroke-width="0.9"/>
<line x1="145.90" y1="465.50" x2="149.10" y2="465.50" stroke="#2b4b8c" stroke-width="0.9"/>
<path d="M147.50,460.37 L149.07,463.22 L145.93,463.22 Z" fill="#95a5c5" stroke="#2b4b8c" stroke-width="0.8"/>
<line x1="53.40" y1="394.62" x2="53.40" y2="401.45" stroke="#9690cf" stroke-width="0.8"/>
<line x1="51.80" y1="394.62" x2="55.00" y2="394.62" stroke="#9690cf" stroke-width="0.9"/>
<line x1="51.80" y1="401.45" x2="55.00" y2="401.45" stroke="#9690cf" stroke-width="0.9"/>
<rect x="51.90" y="396.53" width="3.00" height="3.00" fill="#9690cf" stroke="#9690cf" stroke-width="0.8"/>
<line x1="68.50" y1="409.13" x2="68.50" y2="415.97" stroke="#9690cf" stroke-width="0.8"/>
<line x1="66.90" y1="409.13" x2="70.10" y2="409.13" stroke="#9690cf" stroke-width="0.9"/>
<line x1="66.90" y1="415.97" x2="70.10" y2="415.97" stroke="#9690cf" stroke-width="0.9"/>
<rect x="67.00" y="411.05" width="3.00" height="3.00" fill="#9690cf" stroke="#9690cf" stroke-width="0.8"/>
<line x1="83.60" y1="424.93" x2="83.60" y2="431.77" stroke="#9690cf" stroke-width="0.8"/>
<line x1="82.00" y1="424.93" x2="85.20" y2="424.93" stroke="#9690cf" stroke-width="0.9"/>
<line x1="82.00" y1="431.77" x2="85.20" y2="431.77" stroke="#9690cf" stroke-width="0.9"/>
<rect x="82.10" y="426.85" width="3.00" height="3.00" fill="#9690cf" stroke="#9690cf" stroke-width="0.8"/>
<line x1="98.20" y1="443.55" x2="98.20" y2="450.38" stroke="#9690cf" stroke-width="0.8"/>
<line x1="96.60" y1="443.55" x2="99.80" y2="443.55" stroke="#9690cf" stroke-width="0.9"/>
<line x1="96.60" y1="450.38" x2="99.80" y2="450.38" stroke="#9690cf" stroke-width="0.9"/>
<rect x="96.70" y="445.47" width="3.00" height="3.00" fill="#9690cf" stroke="#9690cf" stroke-width="0.8"/>
<line x1="107.20" y1="453.54" x2="107.20" y2="460.37" stroke="#9690cf" stroke-width="0.8"/>
<line x1="105.60" y1="453.54" x2="108.80" y2="453.54" stroke="#9690cf" stroke-width="0.9"/>
<line x1="105.60" y1="460.37" x2="108.80" y2="460.37" stroke="#9690cf" stroke-width="0.9"/>
<rect x="105.70" y="455.46" width="3.00" height="3.00" fill="#9690cf" stroke="#9690cf" stroke-width="0.8"/>
<line x1="113.40" y1="461.40" x2="113.40" y2="468.23" stroke="#9690cf" stroke-width="0.8"/>
<line x1="111.80" y1="461.40" x2="115.00" y2="461.40" stroke="#9690cf" stroke-width="0.9"/>
<line x1="111.80" y1="468.23" x2="115.00" y2="468.23" stroke="#9690cf" stroke-width="0.9"/>
<rect x="111.90" y="463.31" width="3.00" height="3.00" fill="#9690cf" stroke="#9690cf" stroke-width="0.8"/>
<line x1="118.40" y1="467.89" x2="118.40" y2="474.72" stroke="#9690cf" stroke-width="0.8"/>
<line x1="116.80" y1="467.89" x2="120.00" y2="467.89" stroke="#9690cf" stroke-width="0.9"/>
<line x1="116.80" y1="474.72" x2="120.00" y2="474.72" stroke="#9690cf" stroke-width="0.9"/>
<rect x="116.90" y="469.81" width="3.00" height="3.00" fill="#9690cf" stroke="#9690cf" stroke-width="0.8"/>
<line x1="132.50" y1="466.86" x2="132.50" y2="473.70" stroke="#9690cf" stroke-width="0.8"/>
<line x1="130.90" y1="466.86" x2="134.10" y2="466.86" stroke="#9690cf" stroke-width="0.9"/>
<line x1="130.90" y1="473.70" x2="134.10" y2="473.70" stroke="#9690cf" stroke-width="0.9"/>
<rect x="131.00" y="468.78" width="3.00" height="3.00" fill="#9690cf" stroke="#9690cf" stroke-width="0.8"/>
<line x1="147.50" y1="467.21" x2="147.50" y2="474.04" stroke="#9690cf" stroke-width="0.8"/>
<line x1="145.90" y1="467.21" x2="149.10" y2="467.21" stroke="#9690cf" stroke-width="0.9"/>
<line x1="145.90" y1="474.04" x2="149.10" y2="474.04" stroke="#9690cf" stroke-width="0.9"/>
<rect x="146.00" y="469.12" width="3.00" height="3.00" fill="#9690cf" stroke="#9690cf" stroke-width="0.8"/>
<line x1="53.40" y1="389.83" x2="53.40" y2="396.67" stroke="#9690cf" stroke-width="0.8"/>
<line x1="51.80" y1="389.83" x2="55.00" y2="389.83" stroke="#9690cf" stroke-width="0.9"/>
<line x1="51.80" y1="396.67" x2="55.00" y2="396.67" stroke="#9690cf" stroke-width="0.9"/>
<rect x="51.98" y="391.82" width="2.85" height="2.85" fill="#cac7e7" stroke="#9690cf" stroke-width="0.8"/>
<line x1="68.50" y1="392.91" x2="68.50" y2="399.74" stroke="#9690cf" stroke-width="0.8"/>
<line x1="66.90" y1="392.91" x2="70.10" y2="392.91" stroke="#9690cf" stroke-width="0.9"/>
<line x1="66.90" y1="399.74" x2="70.10" y2="399.74" stroke="#9690cf" stroke-width="0.9"/>
<rect x="67.08" y="394.90" width="2.85" height="2.85" fill="#cac7e7" stroke="#9690cf" stroke-width="0.8"/>
<line x1="83.60" y1="399.14" x2="83.60" y2="405.97" stroke="#9690cf" stroke-width="0.8"/>
<line x1="82.00" y1="399.14" x2="85.20" y2="399.14" stroke="#9690cf" stroke-width="0.9"/>
<line x1="82.00" y1="405.97" x2="85.20" y2="405.97" stroke="#9690cf" stroke-width="0.9"/>
<rect x="82.17" y="401.13" width="2.85" height="2.85" fill="#cac7e7" stroke="#9690cf" stroke-width="0.8"/>
<line x1="98.20" y1="404.86" x2="98.20" y2="411.70" stroke="#9690cf" stroke-width="0.8"/>
<line x1="96.60" y1="404.86" x2="99.80" y2="404.86" stroke="#9690cf" stroke-width="0.9"/>
<line x1="96.60" y1="411.70" x2="99.80" y2="411.70" stroke="#9690cf" stroke-width="0.9"/>
<rect x="96.78" y="406.86" width="2.85" height="2.85" fill="#cac7e7" stroke="#9690cf" stroke-width="0.8"/>
<line x1="107.20" y1="415.54" x2="107.20" y2="422.37" stroke="#9690cf" stroke-width="0.8"/>
<line x1="105.60" y1="415.54" x2="108.80" y2="415.54" stroke="#9690cf" stroke-width="0.9"/>
<line x1="105.60" y1="422.37" x2="108.80" y2="422.37" stroke="#9690cf" stroke-width="0.9"/>
<rect x="105.78" y="417.53" width="2.85" height="2.85" fill="#cac7e7" stroke="#9690cf" stroke-width="0.8"/>
<line x1="113.40" y1="430.48" x2="113.40" y2="437.32" stroke="#9690cf" stroke-width="0.8"/>
<line x1="111.80" y1="430.48" x2="115.00" y2="430.48" stroke="#9690cf" stroke-width="0.9"/>
<line x1="111.80" y1="437.32" x2="115.00" y2="437.32" stroke="#9690cf" stroke-width="0.9"/>
<rect x="111.98" y="432.48" width="2.85" height="2.85" fill="#cac7e7" stroke="#9690cf" stroke-width="0.8"/>
<line x1="118.40" y1="436.46" x2="118.40" y2="443.29" stroke="#9690cf" stroke-width="0.8"/>
<line x1="116.80" y1="436.46" x2="120.00" y2="436.46" stroke="#9690cf" stroke-width="0.9"/>
<line x1="116.80" y1="443.29" x2="120.00" y2="443.29" stroke="#9690cf" stroke-width="0.9"/>
<rect x="116.98" y="438.45" width="2.85" height="2.85" fill="#cac7e7" stroke="#9690cf" stroke-width="0.8"/>
<line x1="132.50" y1="449.27" x2="132.50" y2="461.23" stroke="#9690cf" stroke-width="0.8"/>
<line x1="130.90" y1="449.27" x2="134.10" y2="449.27" stroke="#9690cf" stroke-width="0.9"/>
<line x1="130.90" y1="461.23" x2="134.10" y2="461.23" stroke="#9690cf" stroke-width="0.9"/>
<rect x="131.07" y="453.82" width="2.85" height="2.85" fill="#cac7e7" stroke="#9690cf" stroke-width="0.8"/>
<line x1="147.50" y1="456.10" x2="147.50" y2="462.94" stroke="#9690cf" stroke-width="0.8"/>
<line x1="145.90" y1="456.10" x2="149.10" y2="456.10" stroke="#9690cf" stroke-width="0.9"/>
<line x1="145.90" y1="462.94" x2="149.10" y2="462.94" stroke="#9690cf" stroke-width="0.9"/>
<rect x="146.07" y="458.10" width="2.85" height="2.85" fill="#cac7e7" stroke="#9690cf" stroke-width="0.8"/>
<line x1="40.00" y1="374.50" x2="40.00" y2="477.30" stroke="#111" stroke-width="1.4"/>
<line x1="39.30" y1="476.60" x2="161.30" y2="476.60" stroke="#111" stroke-width="1.4"/>
<line x1="36.50" y1="476.60" x2="40.00" y2="476.60" stroke="#231f20" stroke-width="0.9"/>
<text x="34.10" y="479.60" font-size="8.4" fill="#231f20" stroke="#231f20" stroke-width="0.15" text-anchor="end" textLength="4.25" lengthAdjust="spacingAndGlyphs">0</text>
<line x1="36.50" y1="433.90" x2="40.00" y2="433.90" stroke="#231f20" stroke-width="0.9"/>
<text x="34.10" y="436.90" font-size="8.4" fill="#231f20" stroke="#231f20" stroke-width="0.15" text-anchor="end" textLength="8.50" lengthAdjust="spacingAndGlyphs">50</text>
<line x1="36.50" y1="391.20" x2="40.00" y2="391.20" stroke="#231f20" stroke-width="0.9"/>
<text x="34.10" y="394.20" font-size="8.4" fill="#231f20" stroke="#231f20" stroke-width="0.15" text-anchor="end" textLength="12.75" lengthAdjust="spacingAndGlyphs">100</text>
<line x1="40.00" y1="476.60" x2="40.00" y2="478.60" stroke="#231f20" stroke-width="0.9"/>
<text x="40.30" y="489.20" font-size="8.4" fill="#231f20" stroke="#231f20" stroke-width="0.15" text-anchor="end">2</text>
<text x="40.20" y="485.90" font-size="5.6" fill="#231f20" stroke="#231f20" stroke-width="0.15">2</text>
<line x1="69.70" y1="476.60" x2="69.70" y2="478.60" stroke="#231f20" stroke-width="0.9"/>
<text x="70.00" y="489.20" font-size="8.4" fill="#231f20" stroke="#231f20" stroke-width="0.15" text-anchor="end">2</text>
<text x="69.90" y="485.90" font-size="5.6" fill="#231f20" stroke="#231f20" stroke-width="0.15">4</text>
<line x1="99.40" y1="476.60" x2="99.40" y2="478.60" stroke="#231f20" stroke-width="0.9"/>
<text x="99.70" y="489.20" font-size="8.4" fill="#231f20" stroke="#231f20" stroke-width="0.15" text-anchor="end">2</text>
<text x="99.60" y="485.90" font-size="5.6" fill="#231f20" stroke="#231f20" stroke-width="0.15">6</text>
<line x1="129.10" y1="476.60" x2="129.10" y2="478.60" stroke="#231f20" stroke-width="0.9"/>
<text x="129.40" y="489.20" font-size="8.4" fill="#231f20" stroke="#231f20" stroke-width="0.15" text-anchor="end">2</text>
<text x="129.30" y="485.90" font-size="5.6" fill="#231f20" stroke="#231f20" stroke-width="0.15">8</text>
<line x1="158.80" y1="476.60" x2="158.80" y2="478.60" stroke="#231f20" stroke-width="0.9"/>
<text x="159.10" y="489.20" font-size="8.4" fill="#231f20" stroke="#231f20" stroke-width="0.15" text-anchor="end">2</text>
<text x="159.00" y="485.90" font-size="5.6" fill="#231f20" stroke="#231f20" stroke-width="0.15">10</text>
<text x="16.00" y="425.60" font-size="9.0" fill="#231f20" stroke="#231f20" stroke-width="0.15" text-anchor="middle" textLength="81.30" lengthAdjust="spacingAndGlyphs" transform="rotate(-90 16.00 425.60)">Relative cell viability (%)</text>
<text x="68.80" y="502.20" font-size="9.0" fill="#231f20" stroke="#231f20" stroke-width="0.15" textLength="65.70" lengthAdjust="spacingAndGlyphs">Concentration (nM)</text>
<line x1="170.35" y1="377.10" x2="171.25" y2="377.10" stroke="#9690cf" stroke-width="0.9"/>
<line x1="171.65" y1="377.10" x2="172.55" y2="377.10" stroke="#9690cf" stroke-width="0.9"/>
<line x1="177.45" y1="377.10" x2="178.35" y2="377.10" stroke="#9690cf" stroke-width="0.9"/>
<line x1="178.75" y1="377.10" x2="179.65" y2="377.10" stroke="#9690cf" stroke-width="0.9"/>
<rect x="173.34" y="375.44" width="3.32" height="3.32" fill="#cac7e7" stroke="#9690cf" stroke-width="0.8"/>
<text x="182.50" y="379.80" font-size="7.8" fill="#231f20" stroke="#231f20" stroke-width="0.15" textLength="50.30" lengthAdjust="spacingAndGlyphs">ARP-1 CTR-KO</text>
<line x1="170.40" y1="387.77" x2="179.60" y2="387.77" stroke="#9690cf" stroke-width="0.9"/>
<rect x="173.85" y="386.62" width="2.30" height="2.30" fill="#9690cf" stroke="#9690cf" stroke-width="0.8"/>
<text x="182.50" y="390.47" font-size="7.8" fill="#231f20" stroke="#231f20" stroke-width="0.15" textLength="49.05" lengthAdjust="spacingAndGlyphs">ARP-1 MIF-KO</text>
<line x1="170.35" y1="398.44" x2="171.25" y2="398.44" stroke="#2b4b8c" stroke-width="0.9"/>
<line x1="171.65" y1="398.44" x2="172.55" y2="398.44" stroke="#2b4b8c" stroke-width="0.9"/>
<line x1="177.45" y1="398.44" x2="178.35" y2="398.44" stroke="#2b4b8c" stroke-width="0.9"/>
<line x1="178.75" y1="398.44" x2="179.65" y2="398.44" stroke="#2b4b8c" stroke-width="0.9"/>
<path d="M175.00,396.44 L176.83,399.77 L173.17,399.77 Z" fill="#95a5c5" stroke="#2b4b8c" stroke-width="0.8"/>
<text x="182.50" y="401.14" font-size="7.8" fill="#231f20" stroke="#231f20" stroke-width="0.15" textLength="53.30" lengthAdjust="spacingAndGlyphs">MM.1S CTR-KO</text>
<line x1="170.40" y1="409.11" x2="179.60" y2="409.11" stroke="#2b4b8c" stroke-width="0.9"/>
<path d="M175.00,407.73 L176.26,410.03 L173.74,410.03 Z" fill="#2b4b8c" stroke="#2b4b8c" stroke-width="0.8"/>
<text x="182.50" y="411.81" font-size="7.8" fill="#231f20" stroke="#231f20" stroke-width="0.15" textLength="51.55" lengthAdjust="spacingAndGlyphs">MM.1S MIF-KO</text>
<line x1="170.35" y1="419.78" x2="171.25" y2="419.78" stroke="#b5163f" stroke-width="0.9"/>
<line x1="171.65" y1="419.78" x2="172.55" y2="419.78" stroke="#b5163f" stroke-width="0.9"/>
<line x1="177.45" y1="419.78" x2="178.35" y2="419.78" stroke="#b5163f" stroke-width="0.9"/>
<line x1="178.75" y1="419.78" x2="179.65" y2="419.78" stroke="#b5163f" stroke-width="0.9"/>
<path d="M175.00,417.70 L177.08,419.78 L175.00,421.86 L172.92,419.78 Z" fill="#da8a9f" stroke="#b5163f" stroke-width="0.8"/>
<text x="182.50" y="422.48" font-size="7.8" fill="#231f20" stroke="#231f20" stroke-width="0.15" textLength="54.05" lengthAdjust="spacingAndGlyphs">MM.1R CTR-KO</text>
<line x1="170.40" y1="430.45" x2="179.60" y2="430.45" stroke="#b5163f" stroke-width="0.9"/>
<path d="M175.00,429.01 L176.44,430.45 L175.00,431.89 L173.56,430.45 Z" fill="#b5163f" stroke="#b5163f" stroke-width="0.8"/>
<text x="182.50" y="433.15" font-size="7.8" fill="#231f20" stroke="#231f20" stroke-width="0.15" textLength="52.30" lengthAdjust="spacingAndGlyphs">MM.1R MIF-KO</text>
<line x1="170.35" y1="441.12" x2="171.25" y2="441.12" stroke="#6cb84a" stroke-width="0.9"/>
<line x1="171.65" y1="441.12" x2="172.55" y2="441.12" stroke="#6cb84a" stroke-width="0.9"/>
<line x1="177.45" y1="441.12" x2="178.35" y2="441.12" stroke="#6cb84a" stroke-width="0.9"/>
<line x1="178.75" y1="441.12" x2="179.65" y2="441.12" stroke="#6cb84a" stroke-width="0.9"/>
<path d="M175.00,443.12 L176.83,439.79 L173.17,439.79 Z" fill="#b5dca4" stroke="#6cb84a" stroke-width="0.8"/>
<text x="182.50" y="443.82" font-size="7.8" fill="#231f20" stroke="#231f20" stroke-width="0.15" textLength="69.80" lengthAdjust="spacingAndGlyphs">KMS-12-BM CTR-KO</text>
<line x1="170.40" y1="451.79" x2="179.60" y2="451.79" stroke="#6cb84a" stroke-width="0.9"/>
<path d="M175.00,453.17 L176.26,450.87 L173.74,450.87 Z" fill="#6cb84a" stroke="#6cb84a" stroke-width="0.8"/>
<text x="182.50" y="454.49" font-size="7.8" fill="#231f20" stroke="#231f20" stroke-width="0.15" textLength="68.30" lengthAdjust="spacingAndGlyphs">KMS-12-BM MIF-KO</text>
<line x1="170.35" y1="462.46" x2="171.25" y2="462.46" stroke="#e69a2e" stroke-width="0.9"/>
<line x1="171.65" y1="462.46" x2="172.55" y2="462.46" stroke="#e69a2e" stroke-width="0.9"/>
<line x1="177.45" y1="462.46" x2="178.35" y2="462.46" stroke="#e69a2e" stroke-width="0.9"/>
<line x1="178.75" y1="462.46" x2="179.65" y2="462.46" stroke="#e69a2e" stroke-width="0.9"/>
<circle cx="175.00" cy="462.46" r="1.66" fill="#f2cc96" stroke="#e69a2e" stroke-width="0.8"/>
<text x="182.50" y="465.16" font-size="7.8" fill="#231f20" stroke="#231f20" stroke-width="0.15" textLength="47.30" lengthAdjust="spacingAndGlyphs">U266 CTR-KO</text>
<line x1="170.40" y1="473.13" x2="179.60" y2="473.13" stroke="#e69a2e" stroke-width="0.9"/>
<circle cx="175.00" cy="473.13" r="1.15" fill="#e69a2e" stroke="#e69a2e" stroke-width="0.8"/>
<text x="182.50" y="475.83" font-size="7.8" fill="#231f20" stroke="#231f20" stroke-width="0.15" textLength="46.05" lengthAdjust="spacingAndGlyphs">U266 MIF-KO</text>
<text x="268.60" y="368.80" font-size="12.5" fill="#000" stroke="#000" stroke-width="0.15" font-weight="bold" textLength="9.50" lengthAdjust="spacingAndGlyphs">G</text>
<text x="362.00" y="369.20" font-size="9.8" fill="#231f20" stroke="#231f20" stroke-width="0.15" text-anchor="middle" textLength="17.00" lengthAdjust="spacingAndGlyphs">Mel</text>
<polyline points="315.20,393.39 330.40,394.24 345.60,394.24 360.40,404.43 369.10,413.26 375.40,422.77 380.10,435.00 395.50,444.34 410.40,447.73" fill="none" stroke="#e69a2e" stroke-width="1.15" stroke-linejoin="round"/>
<polyline points="315.20,392.55 330.40,394.24 345.60,395.94 360.40,404.43 369.10,412.92 375.40,422.26 380.10,434.15 395.50,443.49 410.40,446.88" fill="none" stroke="#e69a2e" stroke-width="1.1" stroke-linejoin="round" stroke-dasharray="2.2,1.6"/>
<polyline points="315.20,395.94 330.40,395.09 345.60,401.88 360.40,409.10 369.10,423.11 375.40,433.30 380.10,447.99 395.50,451.98 410.40,456.22" fill="none" stroke="#6cb84a" stroke-width="1.15" stroke-linejoin="round"/>
<polyline points="315.20,393.39 330.40,394.24 345.60,401.04 360.40,408.68 369.10,422.26 375.40,432.45 380.10,447.73 395.50,451.13 410.40,455.37" fill="none" stroke="#6cb84a" stroke-width="1.1" stroke-linejoin="round" stroke-dasharray="2.2,1.6"/>
<polyline points="315.20,384.91 330.40,394.24 345.60,406.13 360.40,420.56 369.10,431.09 375.40,442.64 380.10,453.25 395.50,457.41 410.40,461.57" fill="none" stroke="#b5163f" stroke-width="1.15" stroke-linejoin="round"/>
<polyline points="315.20,385.75 330.40,394.24 345.60,404.43 360.40,419.71 369.10,430.75 375.40,441.79 380.10,452.82 395.50,457.07 410.40,461.31" fill="none" stroke="#b5163f" stroke-width="1.1" stroke-linejoin="round" stroke-dasharray="2.2,1.6"/>
<polyline points="315.20,394.24 330.40,396.79 345.60,400.19 360.40,405.28 369.10,421.41 375.40,429.90 380.10,443.49 395.50,455.37 410.40,456.22" fill="none" stroke="#2b4b8c" stroke-width="1.15" stroke-linejoin="round"/>
<polyline points="315.20,393.39 330.40,394.24 345.60,399.34 360.40,403.92 369.10,420.56 375.40,428.20 380.10,442.64 395.50,455.37 410.40,455.37" fill="none" stroke="#2b4b8c" stroke-width="1.1" stroke-linejoin="round" stroke-dasharray="2.2,1.6"/>
<polyline points="315.20,392.55 330.40,393.39 345.60,399.34 360.40,403.58 369.10,410.38 375.40,416.32 380.10,427.36 395.50,444.34 410.40,455.37" fill="none" stroke="#9690cf" stroke-width="1.15" stroke-linejoin="round"/>
<polyline points="315.20,391.27 330.40,392.55 345.60,398.49 360.40,402.73 369.10,408.08 375.40,414.37 380.10,424.81 395.50,442.64 410.40,454.52" fill="none" stroke="#9690cf" stroke-width="1.1" stroke-linejoin="round" stroke-dasharray="2.2,1.6"/>
<line x1="315.20" y1="390.00" x2="315.20" y2="396.79" stroke="#e69a2e" stroke-width="0.8"/>
<line x1="313.60" y1="390.00" x2="316.80" y2="390.00" stroke="#e69a2e" stroke-width="0.9"/>
<line x1="313.60" y1="396.79" x2="316.80" y2="396.79" stroke="#e69a2e" stroke-width="0.9"/>
<circle cx="315.20" cy="393.39" r="1.50" fill="#e69a2e" stroke="#e69a2e" stroke-width="0.8"/>
<line x1="330.40" y1="390.85" x2="330.40" y2="397.64" stroke="#e69a2e" stroke-width="0.8"/>
<line x1="328.80" y1="390.85" x2="332.00" y2="390.85" stroke="#e69a2e" stroke-width="0.9"/>
<line x1="328.80" y1="397.64" x2="332.00" y2="397.64" stroke="#e69a2e" stroke-width="0.9"/>
<circle cx="330.40" cy="394.24" r="1.50" fill="#e69a2e" stroke="#e69a2e" stroke-width="0.8"/>
<line x1="345.60" y1="386.60" x2="345.60" y2="401.88" stroke="#e69a2e" stroke-width="0.8"/>
<line x1="344.00" y1="386.60" x2="347.20" y2="386.60" stroke="#e69a2e" stroke-width="0.9"/>
<line x1="344.00" y1="401.88" x2="347.20" y2="401.88" stroke="#e69a2e" stroke-width="0.9"/>
<circle cx="345.60" cy="394.24" r="1.50" fill="#e69a2e" stroke="#e69a2e" stroke-width="0.8"/>
<line x1="360.40" y1="401.04" x2="360.40" y2="407.83" stroke="#e69a2e" stroke-width="0.8"/>
<line x1="358.80" y1="401.04" x2="362.00" y2="401.04" stroke="#e69a2e" stroke-width="0.9"/>
<line x1="358.80" y1="407.83" x2="362.00" y2="407.83" stroke="#e69a2e" stroke-width="0.9"/>
<circle cx="360.40" cy="404.43" r="1.50" fill="#e69a2e" stroke="#e69a2e" stroke-width="0.8"/>
<line x1="369.10" y1="409.87" x2="369.10" y2="416.66" stroke="#e69a2e" stroke-width="0.8"/>
<line x1="367.50" y1="409.87" x2="370.70" y2="409.87" stroke="#e69a2e" stroke-width="0.9"/>
<line x1="367.50" y1="416.66" x2="370.70" y2="416.66" stroke="#e69a2e" stroke-width="0.9"/>
<circle cx="369.10" cy="413.26" r="1.50" fill="#e69a2e" stroke="#e69a2e" stroke-width="0.8"/>
<line x1="375.40" y1="419.37" x2="375.40" y2="426.17" stroke="#e69a2e" stroke-width="0.8"/>
<line x1="373.80" y1="419.37" x2="377.00" y2="419.37" stroke="#e69a2e" stroke-width="0.9"/>
<line x1="373.80" y1="426.17" x2="377.00" y2="426.17" stroke="#e69a2e" stroke-width="0.9"/>
<circle cx="375.40" cy="422.77" r="1.50" fill="#e69a2e" stroke="#e69a2e" stroke-width="0.8"/>
<line x1="380.10" y1="431.60" x2="380.10" y2="438.39" stroke="#e69a2e" stroke-width="0.8"/>
<line x1="378.50" y1="431.60" x2="381.70" y2="431.60" stroke="#e69a2e" stroke-width="0.9"/>
<line x1="378.50" y1="438.39" x2="381.70" y2="438.39" stroke="#e69a2e" stroke-width="0.9"/>
<circle cx="380.10" cy="435.00" r="1.50" fill="#e69a2e" stroke="#e69a2e" stroke-width="0.8"/>
<line x1="395.50" y1="440.94" x2="395.50" y2="447.73" stroke="#e69a2e" stroke-width="0.8"/>
<line x1="393.90" y1="440.94" x2="397.10" y2="440.94" stroke="#e69a2e" stroke-width="0.9"/>
<line x1="393.90" y1="447.73" x2="397.10" y2="447.73" stroke="#e69a2e" stroke-width="0.9"/>
<circle cx="395.50" cy="444.34" r="1.50" fill="#e69a2e" stroke="#e69a2e" stroke-width="0.8"/>
<line x1="410.40" y1="444.34" x2="410.40" y2="451.13" stroke="#e69a2e" stroke-width="0.8"/>
<line x1="408.80" y1="444.34" x2="412.00" y2="444.34" stroke="#e69a2e" stroke-width="0.9"/>
<line x1="408.80" y1="451.13" x2="412.00" y2="451.13" stroke="#e69a2e" stroke-width="0.9"/>
<circle cx="410.40" cy="447.73" r="1.50" fill="#e69a2e" stroke="#e69a2e" stroke-width="0.8"/>
<line x1="315.20" y1="389.15" x2="315.20" y2="395.94" stroke="#e69a2e" stroke-width="0.8"/>
<line x1="313.60" y1="389.15" x2="316.80" y2="389.15" stroke="#e69a2e" stroke-width="0.9"/>
<line x1="313.60" y1="395.94" x2="316.80" y2="395.94" stroke="#e69a2e" stroke-width="0.9"/>
<circle cx="315.20" cy="392.55" r="1.42" fill="#f2cc96" stroke="#e69a2e" stroke-width="0.8"/>
<line x1="330.40" y1="390.85" x2="330.40" y2="397.64" stroke="#e69a2e" stroke-width="0.8"/>
<line x1="328.80" y1="390.85" x2="332.00" y2="390.85" stroke="#e69a2e" stroke-width="0.9"/>
<line x1="328.80" y1="397.64" x2="332.00" y2="397.64" stroke="#e69a2e" stroke-width="0.9"/>
<circle cx="330.40" cy="394.24" r="1.42" fill="#f2cc96" stroke="#e69a2e" stroke-width="0.8"/>
<line x1="345.60" y1="392.55" x2="345.60" y2="399.34" stroke="#e69a2e" stroke-width="0.8"/>
<line x1="344.00" y1="392.55" x2="347.20" y2="392.55" stroke="#e69a2e" stroke-width="0.9"/>
<line x1="344.00" y1="399.34" x2="347.20" y2="399.34" stroke="#e69a2e" stroke-width="0.9"/>
<circle cx="345.60" cy="395.94" r="1.42" fill="#f2cc96" stroke="#e69a2e" stroke-width="0.8"/>
<line x1="360.40" y1="401.04" x2="360.40" y2="407.83" stroke="#e69a2e" stroke-width="0.8"/>
<line x1="358.80" y1="401.04" x2="362.00" y2="401.04" stroke="#e69a2e" stroke-width="0.9"/>
<line x1="358.80" y1="407.83" x2="362.00" y2="407.83" stroke="#e69a2e" stroke-width="0.9"/>
<circle cx="360.40" cy="404.43" r="1.42" fill="#f2cc96" stroke="#e69a2e" stroke-width="0.8"/>
<line x1="369.10" y1="409.53" x2="369.10" y2="416.32" stroke="#e69a2e" stroke-width="0.8"/>
<line x1="367.50" y1="409.53" x2="370.70" y2="409.53" stroke="#e69a2e" stroke-width="0.9"/>
<line x1="367.50" y1="416.32" x2="370.70" y2="416.32" stroke="#e69a2e" stroke-width="0.9"/>
<circle cx="369.10" cy="412.92" r="1.42" fill="#f2cc96" stroke="#e69a2e" stroke-width="0.8"/>
<line x1="375.40" y1="418.87" x2="375.40" y2="425.66" stroke="#e69a2e" stroke-width="0.8"/>
<line x1="373.80" y1="418.87" x2="377.00" y2="418.87" stroke="#e69a2e" stroke-width="0.9"/>
<line x1="373.80" y1="425.66" x2="377.00" y2="425.66" stroke="#e69a2e" stroke-width="0.9"/>
<circle cx="375.40" cy="422.26" r="1.42" fill="#f2cc96" stroke="#e69a2e" stroke-width="0.8"/>
<line x1="380.10" y1="430.75" x2="380.10" y2="437.54" stroke="#e69a2e" stroke-width="0.8"/>
<line x1="378.50" y1="430.75" x2="381.70" y2="430.75" stroke="#e69a2e" stroke-width="0.9"/>
<line x1="378.50" y1="437.54" x2="381.70" y2="437.54" stroke="#e69a2e" stroke-width="0.9"/>
<circle cx="380.10" cy="434.15" r="1.42" fill="#f2cc96" stroke="#e69a2e" stroke-width="0.8"/>
<line x1="395.50" y1="440.09" x2="395.50" y2="446.88" stroke="#e69a2e" stroke-width="0.8"/>
<line x1="393.90" y1="440.09" x2="397.10" y2="440.09" stroke="#e69a2e" stroke-width="0.9"/>
<line x1="393.90" y1="446.88" x2="397.10" y2="446.88" stroke="#e69a2e" stroke-width="0.9"/>
<circle cx="395.50" cy="443.49" r="1.42" fill="#f2cc96" stroke="#e69a2e" stroke-width="0.8"/>
<line x1="410.40" y1="441.79" x2="410.40" y2="451.98" stroke="#e69a2e" stroke-width="0.8"/>
<line x1="408.80" y1="441.79" x2="412.00" y2="441.79" stroke="#e69a2e" stroke-width="0.9"/>
<line x1="408.80" y1="451.98" x2="412.00" y2="451.98" stroke="#e69a2e" stroke-width="0.9"/>
<circle cx="410.40" cy="446.88" r="1.42" fill="#f2cc96" stroke="#e69a2e" stroke-width="0.8"/>
<line x1="315.20" y1="392.55" x2="315.20" y2="399.34" stroke="#6cb84a" stroke-width="0.8"/>
<line x1="313.60" y1="392.55" x2="316.80" y2="392.55" stroke="#6cb84a" stroke-width="0.9"/>
<line x1="313.60" y1="399.34" x2="316.80" y2="399.34" stroke="#6cb84a" stroke-width="0.9"/>
<path d="M315.20,397.74 L316.85,394.74 L313.55,394.74 Z" fill="#6cb84a" stroke="#6cb84a" stroke-width="0.8"/>
<line x1="330.40" y1="391.70" x2="330.40" y2="398.49" stroke="#6cb84a" stroke-width="0.8"/>
<line x1="328.80" y1="391.70" x2="332.00" y2="391.70" stroke="#6cb84a" stroke-width="0.9"/>
<line x1="328.80" y1="398.49" x2="332.00" y2="398.49" stroke="#6cb84a" stroke-width="0.9"/>
<path d="M330.40,396.89 L332.05,393.89 L328.75,393.89 Z" fill="#6cb84a" stroke="#6cb84a" stroke-width="0.8"/>
<line x1="345.60" y1="398.49" x2="345.60" y2="405.28" stroke="#6cb84a" stroke-width="0.8"/>
<line x1="344.00" y1="398.49" x2="347.20" y2="398.49" stroke="#6cb84a" stroke-width="0.9"/>
<line x1="344.00" y1="405.28" x2="347.20" y2="405.28" stroke="#6cb84a" stroke-width="0.9"/>
<path d="M345.60,403.69 L347.25,400.69 L343.95,400.69 Z" fill="#6cb84a" stroke="#6cb84a" stroke-width="0.8"/>
<line x1="360.40" y1="405.71" x2="360.40" y2="412.50" stroke="#6cb84a" stroke-width="0.8"/>
<line x1="358.80" y1="405.71" x2="362.00" y2="405.71" stroke="#6cb84a" stroke-width="0.9"/>
<line x1="358.80" y1="412.50" x2="362.00" y2="412.50" stroke="#6cb84a" stroke-width="0.9"/>
<path d="M360.40,410.90 L362.05,407.90 L358.75,407.90 Z" fill="#6cb84a" stroke="#6cb84a" stroke-width="0.8"/>
<line x1="369.10" y1="419.71" x2="369.10" y2="426.51" stroke="#6cb84a" stroke-width="0.8"/>
<line x1="367.50" y1="419.71" x2="370.70" y2="419.71" stroke="#6cb84a" stroke-width="0.9"/>
<line x1="367.50" y1="426.51" x2="370.70" y2="426.51" stroke="#6cb84a" stroke-width="0.9"/>
<path d="M369.10,424.91 L370.75,421.91 L367.45,421.91 Z" fill="#6cb84a" stroke="#6cb84a" stroke-width="0.8"/>
<line x1="375.40" y1="429.90" x2="375.40" y2="436.69" stroke="#6cb84a" stroke-width="0.8"/>
<line x1="373.80" y1="429.90" x2="377.00" y2="429.90" stroke="#6cb84a" stroke-width="0.9"/>
<line x1="373.80" y1="436.69" x2="377.00" y2="436.69" stroke="#6cb84a" stroke-width="0.9"/>
<path d="M375.40,435.10 L377.05,432.10 L373.75,432.10 Z" fill="#6cb84a" stroke="#6cb84a" stroke-width="0.8"/>
<line x1="380.10" y1="444.59" x2="380.10" y2="451.38" stroke="#6cb84a" stroke-width="0.8"/>
<line x1="378.50" y1="444.59" x2="381.70" y2="444.59" stroke="#6cb84a" stroke-width="0.9"/>
<line x1="378.50" y1="451.38" x2="381.70" y2="451.38" stroke="#6cb84a" stroke-width="0.9"/>
<path d="M380.10,449.79 L381.75,446.79 L378.45,446.79 Z" fill="#6cb84a" stroke="#6cb84a" stroke-width="0.8"/>
<line x1="395.50" y1="448.58" x2="395.50" y2="455.37" stroke="#6cb84a" stroke-width="0.8"/>
<line x1="393.90" y1="448.58" x2="397.10" y2="448.58" stroke="#6cb84a" stroke-width="0.9"/>
<line x1="393.90" y1="455.37" x2="397.10" y2="455.37" stroke="#6cb84a" stroke-width="0.9"/>
<path d="M395.50,453.78 L397.15,450.78 L393.85,450.78 Z" fill="#6cb84a" stroke="#6cb84a" stroke-width="0.8"/>
<line x1="410.40" y1="452.82" x2="410.40" y2="459.62" stroke="#6cb84a" stroke-width="0.8"/>
<line x1="408.80" y1="452.82" x2="412.00" y2="452.82" stroke="#6cb84a" stroke-width="0.9"/>
<line x1="408.80" y1="459.62" x2="412.00" y2="459.62" stroke="#6cb84a" stroke-width="0.9"/>
<path d="M410.40,458.02 L412.05,455.02 L408.75,455.02 Z" fill="#6cb84a" stroke="#6cb84a" stroke-width="0.8"/>
<line x1="315.20" y1="390.00" x2="315.20" y2="396.79" stroke="#6cb84a" stroke-width="0.8"/>
<line x1="313.60" y1="390.00" x2="316.80" y2="390.00" stroke="#6cb84a" stroke-width="0.9"/>
<line x1="313.60" y1="396.79" x2="316.80" y2="396.79" stroke="#6cb84a" stroke-width="0.9"/>
<path d="M315.20,395.10 L316.77,392.25 L313.63,392.25 Z" fill="#b5dca4" stroke="#6cb84a" stroke-width="0.8"/>
<line x1="330.40" y1="390.85" x2="330.40" y2="397.64" stroke="#6cb84a" stroke-width="0.8"/>
<line x1="328.80" y1="390.85" x2="332.00" y2="390.85" stroke="#6cb84a" stroke-width="0.9"/>
<line x1="328.80" y1="397.64" x2="332.00" y2="397.64" stroke="#6cb84a" stroke-width="0.9"/>
<path d="M330.40,395.95 L331.97,393.10 L328.83,393.10 Z" fill="#b5dca4" stroke="#6cb84a" stroke-width="0.8"/>
<line x1="345.60" y1="397.64" x2="345.60" y2="404.43" stroke="#6cb84a" stroke-width="0.8"/>
<line x1="344.00" y1="397.64" x2="347.20" y2="397.64" stroke="#6cb84a" stroke-width="0.9"/>
<line x1="344.00" y1="404.43" x2="347.20" y2="404.43" stroke="#6cb84a" stroke-width="0.9"/>
<path d="M345.60,402.75 L347.17,399.90 L344.03,399.90 Z" fill="#b5dca4" stroke="#6cb84a" stroke-width="0.8"/>
<line x1="360.40" y1="405.28" x2="360.40" y2="412.07" stroke="#6cb84a" stroke-width="0.8"/>
<line x1="358.80" y1="405.28" x2="362.00" y2="405.28" stroke="#6cb84a" stroke-width="0.9"/>
<line x1="358.80" y1="412.07" x2="362.00" y2="412.07" stroke="#6cb84a" stroke-width="0.9"/>
<path d="M360.40,410.39 L361.97,407.54 L358.83,407.54 Z" fill="#b5dca4" stroke="#6cb84a" stroke-width="0.8"/>
<line x1="369.10" y1="418.87" x2="369.10" y2="425.66" stroke="#6cb84a" stroke-width="0.8"/>
<line x1="367.50" y1="418.87" x2="370.70" y2="418.87" stroke="#6cb84a" stroke-width="0.9"/>
<line x1="367.50" y1="425.66" x2="370.70" y2="425.66" stroke="#6cb84a" stroke-width="0.9"/>
<path d="M369.10,423.97 L370.67,421.12 L367.53,421.12 Z" fill="#b5dca4" stroke="#6cb84a" stroke-width="0.8"/>
<line x1="375.40" y1="429.05" x2="375.40" y2="435.85" stroke="#6cb84a" stroke-width="0.8"/>
<line x1="373.80" y1="429.05" x2="377.00" y2="429.05" stroke="#6cb84a" stroke-width="0.9"/>
<line x1="373.80" y1="435.85" x2="377.00" y2="435.85" stroke="#6cb84a" stroke-width="0.9"/>
<path d="M375.40,434.16 L376.97,431.31 L373.83,431.31 Z" fill="#b5dca4" stroke="#6cb84a" stroke-width="0.8"/>
<line x1="380.10" y1="444.34" x2="380.10" y2="451.13" stroke="#6cb84a" stroke-width="0.8"/>
<line x1="378.50" y1="444.34" x2="381.70" y2="444.34" stroke="#6cb84a" stroke-width="0.9"/>
<line x1="378.50" y1="451.13" x2="381.70" y2="451.13" stroke="#6cb84a" stroke-width="0.9"/>
<path d="M380.10,449.44 L381.67,446.59 L378.53,446.59 Z" fill="#b5dca4" stroke="#6cb84a" stroke-width="0.8"/>
<line x1="395.50" y1="447.73" x2="395.50" y2="454.52" stroke="#6cb84a" stroke-width="0.8"/>
<line x1="393.90" y1="447.73" x2="397.10" y2="447.73" stroke="#6cb84a" stroke-width="0.9"/>
<line x1="393.90" y1="454.52" x2="397.10" y2="454.52" stroke="#6cb84a" stroke-width="0.9"/>
<path d="M395.50,452.84 L397.07,449.99 L393.93,449.99 Z" fill="#b5dca4" stroke="#6cb84a" stroke-width="0.8"/>
<line x1="410.40" y1="451.98" x2="410.40" y2="458.77" stroke="#6cb84a" stroke-width="0.8"/>
<line x1="408.80" y1="451.98" x2="412.00" y2="451.98" stroke="#6cb84a" stroke-width="0.9"/>
<line x1="408.80" y1="458.77" x2="412.00" y2="458.77" stroke="#6cb84a" stroke-width="0.9"/>
<path d="M410.40,457.08 L411.97,454.23 L408.83,454.23 Z" fill="#b5dca4" stroke="#6cb84a" stroke-width="0.8"/>
<line x1="315.20" y1="381.51" x2="315.20" y2="388.30" stroke="#b5163f" stroke-width="0.8"/>
<line x1="313.60" y1="381.51" x2="316.80" y2="381.51" stroke="#b5163f" stroke-width="0.9"/>
<line x1="313.60" y1="388.30" x2="316.80" y2="388.30" stroke="#b5163f" stroke-width="0.9"/>
<path d="M315.20,383.03 L317.07,384.91 L315.20,386.78 L313.32,384.91 Z" fill="#b5163f" stroke="#b5163f" stroke-width="0.8"/>
<line x1="330.40" y1="390.85" x2="330.40" y2="397.64" stroke="#b5163f" stroke-width="0.8"/>
<line x1="328.80" y1="390.85" x2="332.00" y2="390.85" stroke="#b5163f" stroke-width="0.9"/>
<line x1="328.80" y1="397.64" x2="332.00" y2="397.64" stroke="#b5163f" stroke-width="0.9"/>
<path d="M330.40,392.37 L332.27,394.24 L330.40,396.12 L328.52,394.24 Z" fill="#b5163f" stroke="#b5163f" stroke-width="0.8"/>
<line x1="345.60" y1="402.73" x2="345.60" y2="409.53" stroke="#b5163f" stroke-width="0.8"/>
<line x1="344.00" y1="402.73" x2="347.20" y2="402.73" stroke="#b5163f" stroke-width="0.9"/>
<line x1="344.00" y1="409.53" x2="347.20" y2="409.53" stroke="#b5163f" stroke-width="0.9"/>
<path d="M345.60,404.25 L347.48,406.13 L345.60,408.00 L343.73,406.13 Z" fill="#b5163f" stroke="#b5163f" stroke-width="0.8"/>
<line x1="360.40" y1="417.17" x2="360.40" y2="423.96" stroke="#b5163f" stroke-width="0.8"/>
<line x1="358.80" y1="417.17" x2="362.00" y2="417.17" stroke="#b5163f" stroke-width="0.9"/>
<line x1="358.80" y1="423.96" x2="362.00" y2="423.96" stroke="#b5163f" stroke-width="0.9"/>
<path d="M360.40,418.69 L362.27,420.56 L360.40,422.44 L358.52,420.56 Z" fill="#b5163f" stroke="#b5163f" stroke-width="0.8"/>
<line x1="369.10" y1="427.69" x2="369.10" y2="434.49" stroke="#b5163f" stroke-width="0.8"/>
<line x1="367.50" y1="427.69" x2="370.70" y2="427.69" stroke="#b5163f" stroke-width="0.9"/>
<line x1="367.50" y1="434.49" x2="370.70" y2="434.49" stroke="#b5163f" stroke-width="0.9"/>
<path d="M369.10,429.22 L370.98,431.09 L369.10,432.97 L367.23,431.09 Z" fill="#b5163f" stroke="#b5163f" stroke-width="0.8"/>
<line x1="375.40" y1="439.24" x2="375.40" y2="446.03" stroke="#b5163f" stroke-width="0.8"/>
<line x1="373.80" y1="439.24" x2="377.00" y2="439.24" stroke="#b5163f" stroke-width="0.9"/>
<line x1="373.80" y1="446.03" x2="377.00" y2="446.03" stroke="#b5163f" stroke-width="0.9"/>
<path d="M375.40,440.76 L377.27,442.64 L375.40,444.51 L373.52,442.64 Z" fill="#b5163f" stroke="#b5163f" stroke-width="0.8"/>
<line x1="380.10" y1="449.85" x2="380.10" y2="456.65" stroke="#b5163f" stroke-width="0.8"/>
<line x1="378.50" y1="449.85" x2="381.70" y2="449.85" stroke="#b5163f" stroke-width="0.9"/>
<line x1="378.50" y1="456.65" x2="381.70" y2="456.65" stroke="#b5163f" stroke-width="0.9"/>
<path d="M380.10,451.37 L381.98,453.25 L380.10,455.12 L378.23,453.25 Z" fill="#b5163f" stroke="#b5163f" stroke-width="0.8"/>
<line x1="395.50" y1="454.01" x2="395.50" y2="460.81" stroke="#b5163f" stroke-width="0.8"/>
<line x1="393.90" y1="454.01" x2="397.10" y2="454.01" stroke="#b5163f" stroke-width="0.9"/>
<line x1="393.90" y1="460.81" x2="397.10" y2="460.81" stroke="#b5163f" stroke-width="0.9"/>
<path d="M395.50,455.53 L397.38,457.41 L395.50,459.28 L393.62,457.41 Z" fill="#b5163f" stroke="#b5163f" stroke-width="0.8"/>
<line x1="410.40" y1="458.17" x2="410.40" y2="464.97" stroke="#b5163f" stroke-width="0.8"/>
<line x1="408.80" y1="458.17" x2="412.00" y2="458.17" stroke="#b5163f" stroke-width="0.9"/>
<line x1="408.80" y1="464.97" x2="412.00" y2="464.97" stroke="#b5163f" stroke-width="0.9"/>
<path d="M410.40,459.69 L412.27,461.57 L410.40,463.44 L408.52,461.57 Z" fill="#b5163f" stroke="#b5163f" stroke-width="0.8"/>
<line x1="315.20" y1="382.36" x2="315.20" y2="389.15" stroke="#b5163f" stroke-width="0.8"/>
<line x1="313.60" y1="382.36" x2="316.80" y2="382.36" stroke="#b5163f" stroke-width="0.9"/>
<line x1="313.60" y1="389.15" x2="316.80" y2="389.15" stroke="#b5163f" stroke-width="0.9"/>
<path d="M315.20,383.97 L316.98,385.75 L315.20,387.54 L313.42,385.75 Z" fill="#da8a9f" stroke="#b5163f" stroke-width="0.8"/>
<line x1="330.40" y1="390.85" x2="330.40" y2="397.64" stroke="#b5163f" stroke-width="0.8"/>
<line x1="328.80" y1="390.85" x2="332.00" y2="390.85" stroke="#b5163f" stroke-width="0.9"/>
<line x1="328.80" y1="397.64" x2="332.00" y2="397.64" stroke="#b5163f" stroke-width="0.9"/>
<path d="M330.40,392.46 L332.18,394.24 L330.40,396.03 L328.62,394.24 Z" fill="#da8a9f" stroke="#b5163f" stroke-width="0.8"/>
<line x1="345.60" y1="401.04" x2="345.60" y2="407.83" stroke="#b5163f" stroke-width="0.8"/>
<line x1="344.00" y1="401.04" x2="347.20" y2="401.04" stroke="#b5163f" stroke-width="0.9"/>
<line x1="344.00" y1="407.83" x2="347.20" y2="407.83" stroke="#b5163f" stroke-width="0.9"/>
<path d="M345.60,402.65 L347.38,404.43 L345.60,406.21 L343.82,404.43 Z" fill="#da8a9f" stroke="#b5163f" stroke-width="0.8"/>
<line x1="360.40" y1="416.32" x2="360.40" y2="423.11" stroke="#b5163f" stroke-width="0.8"/>
<line x1="358.80" y1="416.32" x2="362.00" y2="416.32" stroke="#b5163f" stroke-width="0.9"/>
<line x1="358.80" y1="423.11" x2="362.00" y2="423.11" stroke="#b5163f" stroke-width="0.9"/>
<path d="M360.40,417.93 L362.18,419.71 L360.40,421.50 L358.62,419.71 Z" fill="#da8a9f" stroke="#b5163f" stroke-width="0.8"/>
<line x1="369.10" y1="427.36" x2="369.10" y2="434.15" stroke="#b5163f" stroke-width="0.8"/>
<line x1="367.50" y1="427.36" x2="370.70" y2="427.36" stroke="#b5163f" stroke-width="0.9"/>
<line x1="367.50" y1="434.15" x2="370.70" y2="434.15" stroke="#b5163f" stroke-width="0.9"/>
<path d="M369.10,428.97 L370.88,430.75 L369.10,432.53 L367.32,430.75 Z" fill="#da8a9f" stroke="#b5163f" stroke-width="0.8"/>
<line x1="375.40" y1="438.39" x2="375.40" y2="445.18" stroke="#b5163f" stroke-width="0.8"/>
<line x1="373.80" y1="438.39" x2="377.00" y2="438.39" stroke="#b5163f" stroke-width="0.9"/>
<line x1="373.80" y1="445.18" x2="377.00" y2="445.18" stroke="#b5163f" stroke-width="0.9"/>
<path d="M375.40,440.01 L377.18,441.79 L375.40,443.57 L373.62,441.79 Z" fill="#da8a9f" stroke="#b5163f" stroke-width="0.8"/>
<line x1="380.10" y1="449.43" x2="380.10" y2="456.22" stroke="#b5163f" stroke-width="0.8"/>
<line x1="378.50" y1="449.43" x2="381.70" y2="449.43" stroke="#b5163f" stroke-width="0.9"/>
<line x1="378.50" y1="456.22" x2="381.70" y2="456.22" stroke="#b5163f" stroke-width="0.9"/>
<path d="M380.10,451.04 L381.88,452.82 L380.10,454.61 L378.32,452.82 Z" fill="#da8a9f" stroke="#b5163f" stroke-width="0.8"/>
<line x1="395.50" y1="453.67" x2="395.50" y2="460.47" stroke="#b5163f" stroke-width="0.8"/>
<line x1="393.90" y1="453.67" x2="397.10" y2="453.67" stroke="#b5163f" stroke-width="0.9"/>
<line x1="393.90" y1="460.47" x2="397.10" y2="460.47" stroke="#b5163f" stroke-width="0.9"/>
<path d="M395.50,455.29 L397.28,457.07 L395.50,458.85 L393.72,457.07 Z" fill="#da8a9f" stroke="#b5163f" stroke-width="0.8"/>
<line x1="410.40" y1="457.92" x2="410.40" y2="464.71" stroke="#b5163f" stroke-width="0.8"/>
<line x1="408.80" y1="457.92" x2="412.00" y2="457.92" stroke="#b5163f" stroke-width="0.9"/>
<line x1="408.80" y1="464.71" x2="412.00" y2="464.71" stroke="#b5163f" stroke-width="0.9"/>
<path d="M410.40,459.53 L412.18,461.31 L410.40,463.10 L408.62,461.31 Z" fill="#da8a9f" stroke="#b5163f" stroke-width="0.8"/>
<line x1="315.20" y1="390.85" x2="315.20" y2="397.64" stroke="#2b4b8c" stroke-width="0.8"/>
<line x1="313.60" y1="390.85" x2="316.80" y2="390.85" stroke="#2b4b8c" stroke-width="0.9"/>
<line x1="313.60" y1="397.64" x2="316.80" y2="397.64" stroke="#2b4b8c" stroke-width="0.9"/>
<path d="M315.20,392.44 L316.85,395.44 L313.55,395.44 Z" fill="#2b4b8c" stroke="#2b4b8c" stroke-width="0.8"/>
<line x1="330.40" y1="393.39" x2="330.40" y2="400.19" stroke="#2b4b8c" stroke-width="0.8"/>
<line x1="328.80" y1="393.39" x2="332.00" y2="393.39" stroke="#2b4b8c" stroke-width="0.9"/>
<line x1="328.80" y1="400.19" x2="332.00" y2="400.19" stroke="#2b4b8c" stroke-width="0.9"/>
<path d="M330.40,394.99 L332.05,397.99 L328.75,397.99 Z" fill="#2b4b8c" stroke="#2b4b8c" stroke-width="0.8"/>
<line x1="345.60" y1="396.79" x2="345.60" y2="403.58" stroke="#2b4b8c" stroke-width="0.8"/>
<line x1="344.00" y1="396.79" x2="347.20" y2="396.79" stroke="#2b4b8c" stroke-width="0.9"/>
<line x1="344.00" y1="403.58" x2="347.20" y2="403.58" stroke="#2b4b8c" stroke-width="0.9"/>
<path d="M345.60,398.39 L347.25,401.39 L343.95,401.39 Z" fill="#2b4b8c" stroke="#2b4b8c" stroke-width="0.8"/>
<line x1="360.40" y1="401.88" x2="360.40" y2="408.68" stroke="#2b4b8c" stroke-width="0.8"/>
<line x1="358.80" y1="401.88" x2="362.00" y2="401.88" stroke="#2b4b8c" stroke-width="0.9"/>
<line x1="358.80" y1="408.68" x2="362.00" y2="408.68" stroke="#2b4b8c" stroke-width="0.9"/>
<path d="M360.40,403.48 L362.05,406.48 L358.75,406.48 Z" fill="#2b4b8c" stroke="#2b4b8c" stroke-width="0.8"/>
<line x1="369.10" y1="418.02" x2="369.10" y2="424.81" stroke="#2b4b8c" stroke-width="0.8"/>
<line x1="367.50" y1="418.02" x2="370.70" y2="418.02" stroke="#2b4b8c" stroke-width="0.9"/>
<line x1="367.50" y1="424.81" x2="370.70" y2="424.81" stroke="#2b4b8c" stroke-width="0.9"/>
<path d="M369.10,419.61 L370.75,422.61 L367.45,422.61 Z" fill="#2b4b8c" stroke="#2b4b8c" stroke-width="0.8"/>
<line x1="375.40" y1="426.51" x2="375.40" y2="433.30" stroke="#2b4b8c" stroke-width="0.8"/>
<line x1="373.80" y1="426.51" x2="377.00" y2="426.51" stroke="#2b4b8c" stroke-width="0.9"/>
<line x1="373.80" y1="433.30" x2="377.00" y2="433.30" stroke="#2b4b8c" stroke-width="0.9"/>
<path d="M375.40,428.10 L377.05,431.10 L373.75,431.10 Z" fill="#2b4b8c" stroke="#2b4b8c" stroke-width="0.8"/>
<line x1="380.10" y1="440.09" x2="380.10" y2="446.88" stroke="#2b4b8c" stroke-width="0.8"/>
<line x1="378.50" y1="440.09" x2="381.70" y2="440.09" stroke="#2b4b8c" stroke-width="0.9"/>
<line x1="378.50" y1="446.88" x2="381.70" y2="446.88" stroke="#2b4b8c" stroke-width="0.9"/>
<path d="M380.10,441.69 L381.75,444.69 L378.45,444.69 Z" fill="#2b4b8c" stroke="#2b4b8c" stroke-width="0.8"/>
<line x1="395.50" y1="451.98" x2="395.50" y2="458.77" stroke="#2b4b8c" stroke-width="0.8"/>
<line x1="393.90" y1="451.98" x2="397.10" y2="451.98" stroke="#2b4b8c" stroke-width="0.9"/>
<line x1="393.90" y1="458.77" x2="397.10" y2="458.77" stroke="#2b4b8c" stroke-width="0.9"/>
<path d="M395.50,453.57 L397.15,456.57 L393.85,456.57 Z" fill="#2b4b8c" stroke="#2b4b8c" stroke-width="0.8"/>
<line x1="410.40" y1="452.82" x2="410.40" y2="459.62" stroke="#2b4b8c" stroke-width="0.8"/>
<line x1="408.80" y1="452.82" x2="412.00" y2="452.82" stroke="#2b4b8c" stroke-width="0.9"/>
<line x1="408.80" y1="459.62" x2="412.00" y2="459.62" stroke="#2b4b8c" stroke-width="0.9"/>
<path d="M410.40,454.42 L412.05,457.42 L408.75,457.42 Z" fill="#2b4b8c" stroke="#2b4b8c" stroke-width="0.8"/>
<line x1="315.20" y1="390.00" x2="315.20" y2="396.79" stroke="#2b4b8c" stroke-width="0.8"/>
<line x1="313.60" y1="390.00" x2="316.80" y2="390.00" stroke="#2b4b8c" stroke-width="0.9"/>
<line x1="313.60" y1="396.79" x2="316.80" y2="396.79" stroke="#2b4b8c" stroke-width="0.9"/>
<path d="M315.20,391.69 L316.77,394.53 L313.63,394.53 Z" fill="#95a5c5" stroke="#2b4b8c" stroke-width="0.8"/>
<line x1="330.40" y1="390.85" x2="330.40" y2="397.64" stroke="#2b4b8c" stroke-width="0.8"/>
<line x1="328.80" y1="390.85" x2="332.00" y2="390.85" stroke="#2b4b8c" stroke-width="0.9"/>
<line x1="328.80" y1="397.64" x2="332.00" y2="397.64" stroke="#2b4b8c" stroke-width="0.9"/>
<path d="M330.40,392.53 L331.97,395.38 L328.83,395.38 Z" fill="#95a5c5" stroke="#2b4b8c" stroke-width="0.8"/>
<line x1="345.60" y1="395.94" x2="345.60" y2="402.73" stroke="#2b4b8c" stroke-width="0.8"/>
<line x1="344.00" y1="395.94" x2="347.20" y2="395.94" stroke="#2b4b8c" stroke-width="0.9"/>
<line x1="344.00" y1="402.73" x2="347.20" y2="402.73" stroke="#2b4b8c" stroke-width="0.9"/>
<path d="M345.60,397.63 L347.17,400.48 L344.03,400.48 Z" fill="#95a5c5" stroke="#2b4b8c" stroke-width="0.8"/>
<line x1="360.40" y1="398.83" x2="360.40" y2="409.02" stroke="#2b4b8c" stroke-width="0.8"/>
<line x1="358.80" y1="398.83" x2="362.00" y2="398.83" stroke="#2b4b8c" stroke-width="0.9"/>
<line x1="358.80" y1="409.02" x2="362.00" y2="409.02" stroke="#2b4b8c" stroke-width="0.9"/>
<path d="M360.40,402.21 L361.97,405.06 L358.83,405.06 Z" fill="#95a5c5" stroke="#2b4b8c" stroke-width="0.8"/>
<line x1="369.10" y1="417.17" x2="369.10" y2="423.96" stroke="#2b4b8c" stroke-width="0.8"/>
<line x1="367.50" y1="417.17" x2="370.70" y2="417.17" stroke="#2b4b8c" stroke-width="0.9"/>
<line x1="367.50" y1="423.96" x2="370.70" y2="423.96" stroke="#2b4b8c" stroke-width="0.9"/>
<path d="M369.10,418.85 L370.67,421.70 L367.53,421.70 Z" fill="#95a5c5" stroke="#2b4b8c" stroke-width="0.8"/>
<line x1="375.40" y1="424.81" x2="375.40" y2="431.60" stroke="#2b4b8c" stroke-width="0.8"/>
<line x1="373.80" y1="424.81" x2="377.00" y2="424.81" stroke="#2b4b8c" stroke-width="0.9"/>
<line x1="373.80" y1="431.60" x2="377.00" y2="431.60" stroke="#2b4b8c" stroke-width="0.9"/>
<path d="M375.40,426.49 L376.97,429.34 L373.83,429.34 Z" fill="#95a5c5" stroke="#2b4b8c" stroke-width="0.8"/>
<line x1="380.10" y1="439.24" x2="380.10" y2="446.03" stroke="#2b4b8c" stroke-width="0.8"/>
<line x1="378.50" y1="439.24" x2="381.70" y2="439.24" stroke="#2b4b8c" stroke-width="0.9"/>
<line x1="378.50" y1="446.03" x2="381.70" y2="446.03" stroke="#2b4b8c" stroke-width="0.9"/>
<path d="M380.10,440.93 L381.67,443.78 L378.53,443.78 Z" fill="#95a5c5" stroke="#2b4b8c" stroke-width="0.8"/>
<line x1="395.50" y1="451.98" x2="395.50" y2="458.77" stroke="#2b4b8c" stroke-width="0.8"/>
<line x1="393.90" y1="451.98" x2="397.10" y2="451.98" stroke="#2b4b8c" stroke-width="0.9"/>
<line x1="393.90" y1="458.77" x2="397.10" y2="458.77" stroke="#2b4b8c" stroke-width="0.9"/>
<path d="M395.50,453.66 L397.07,456.51 L393.93,456.51 Z" fill="#95a5c5" stroke="#2b4b8c" stroke-width="0.8"/>
<line x1="410.40" y1="451.98" x2="410.40" y2="458.77" stroke="#2b4b8c" stroke-width="0.8"/>
<line x1="408.80" y1="451.98" x2="412.00" y2="451.98" stroke="#2b4b8c" stroke-width="0.9"/>
<line x1="408.80" y1="458.77" x2="412.00" y2="458.77" stroke="#2b4b8c" stroke-width="0.9"/>
<path d="M410.40,453.66 L411.97,456.51 L408.83,456.51 Z" fill="#95a5c5" stroke="#2b4b8c" stroke-width="0.8"/>
<line x1="315.20" y1="389.15" x2="315.20" y2="395.94" stroke="#9690cf" stroke-width="0.8"/>
<line x1="313.60" y1="389.15" x2="316.80" y2="389.15" stroke="#9690cf" stroke-width="0.9"/>
<line x1="313.60" y1="395.94" x2="316.80" y2="395.94" stroke="#9690cf" stroke-width="0.9"/>
<rect x="313.70" y="391.05" width="3.00" height="3.00" fill="#9690cf" stroke="#9690cf" stroke-width="0.8"/>
<line x1="330.40" y1="390.00" x2="330.40" y2="396.79" stroke="#9690cf" stroke-width="0.8"/>
<line x1="328.80" y1="390.00" x2="332.00" y2="390.00" stroke="#9690cf" stroke-width="0.9"/>
<line x1="328.80" y1="396.79" x2="332.00" y2="396.79" stroke="#9690cf" stroke-width="0.9"/>
<rect x="328.90" y="391.89" width="3.00" height="3.00" fill="#9690cf" stroke="#9690cf" stroke-width="0.8"/>
<line x1="345.60" y1="395.94" x2="345.60" y2="402.73" stroke="#9690cf" stroke-width="0.8"/>
<line x1="344.00" y1="395.94" x2="347.20" y2="395.94" stroke="#9690cf" stroke-width="0.9"/>
<line x1="344.00" y1="402.73" x2="347.20" y2="402.73" stroke="#9690cf" stroke-width="0.9"/>
<rect x="344.10" y="397.84" width="3.00" height="3.00" fill="#9690cf" stroke="#9690cf" stroke-width="0.8"/>
<line x1="360.40" y1="400.19" x2="360.40" y2="406.98" stroke="#9690cf" stroke-width="0.8"/>
<line x1="358.80" y1="400.19" x2="362.00" y2="400.19" stroke="#9690cf" stroke-width="0.9"/>
<line x1="358.80" y1="406.98" x2="362.00" y2="406.98" stroke="#9690cf" stroke-width="0.9"/>
<rect x="358.90" y="402.08" width="3.00" height="3.00" fill="#9690cf" stroke="#9690cf" stroke-width="0.8"/>
<line x1="369.10" y1="406.98" x2="369.10" y2="413.77" stroke="#9690cf" stroke-width="0.8"/>
<line x1="367.50" y1="406.98" x2="370.70" y2="406.98" stroke="#9690cf" stroke-width="0.9"/>
<line x1="367.50" y1="413.77" x2="370.70" y2="413.77" stroke="#9690cf" stroke-width="0.9"/>
<rect x="367.60" y="408.88" width="3.00" height="3.00" fill="#9690cf" stroke="#9690cf" stroke-width="0.8"/>
<line x1="375.40" y1="412.92" x2="375.40" y2="419.71" stroke="#9690cf" stroke-width="0.8"/>
<line x1="373.80" y1="412.92" x2="377.00" y2="412.92" stroke="#9690cf" stroke-width="0.9"/>
<line x1="373.80" y1="419.71" x2="377.00" y2="419.71" stroke="#9690cf" stroke-width="0.9"/>
<rect x="373.90" y="414.82" width="3.00" height="3.00" fill="#9690cf" stroke="#9690cf" stroke-width="0.8"/>
<line x1="380.10" y1="423.96" x2="380.10" y2="430.75" stroke="#9690cf" stroke-width="0.8"/>
<line x1="378.50" y1="423.96" x2="381.70" y2="423.96" stroke="#9690cf" stroke-width="0.9"/>
<line x1="378.50" y1="430.75" x2="381.70" y2="430.75" stroke="#9690cf" stroke-width="0.9"/>
<rect x="378.60" y="425.86" width="3.00" height="3.00" fill="#9690cf" stroke="#9690cf" stroke-width="0.8"/>
<line x1="395.50" y1="440.94" x2="395.50" y2="447.73" stroke="#9690cf" stroke-width="0.8"/>
<line x1="393.90" y1="440.94" x2="397.10" y2="440.94" stroke="#9690cf" stroke-width="0.9"/>
<line x1="393.90" y1="447.73" x2="397.10" y2="447.73" stroke="#9690cf" stroke-width="0.9"/>
<rect x="394.00" y="442.84" width="3.00" height="3.00" fill="#9690cf" stroke="#9690cf" stroke-width="0.8"/>
<line x1="410.40" y1="451.98" x2="410.40" y2="458.77" stroke="#9690cf" stroke-width="0.8"/>
<line x1="408.80" y1="451.98" x2="412.00" y2="451.98" stroke="#9690cf" stroke-width="0.9"/>
<line x1="408.80" y1="458.77" x2="412.00" y2="458.77" stroke="#9690cf" stroke-width="0.9"/>
<rect x="408.90" y="453.87" width="3.00" height="3.00" fill="#9690cf" stroke="#9690cf" stroke-width="0.8"/>
<line x1="315.20" y1="386.18" x2="315.20" y2="396.37" stroke="#9690cf" stroke-width="0.8"/>
<line x1="313.60" y1="386.18" x2="316.80" y2="386.18" stroke="#9690cf" stroke-width="0.9"/>
<line x1="313.60" y1="396.37" x2="316.80" y2="396.37" stroke="#9690cf" stroke-width="0.9"/>
<rect x="313.77" y="389.85" width="2.85" height="2.85" fill="#cac7e7" stroke="#9690cf" stroke-width="0.8"/>
<line x1="330.40" y1="389.15" x2="330.40" y2="395.94" stroke="#9690cf" stroke-width="0.8"/>
<line x1="328.80" y1="389.15" x2="332.00" y2="389.15" stroke="#9690cf" stroke-width="0.9"/>
<line x1="328.80" y1="395.94" x2="332.00" y2="395.94" stroke="#9690cf" stroke-width="0.9"/>
<rect x="328.97" y="391.12" width="2.85" height="2.85" fill="#cac7e7" stroke="#9690cf" stroke-width="0.8"/>
<line x1="345.60" y1="395.09" x2="345.60" y2="401.88" stroke="#9690cf" stroke-width="0.8"/>
<line x1="344.00" y1="395.09" x2="347.20" y2="395.09" stroke="#9690cf" stroke-width="0.9"/>
<line x1="344.00" y1="401.88" x2="347.20" y2="401.88" stroke="#9690cf" stroke-width="0.9"/>
<rect x="344.18" y="397.06" width="2.85" height="2.85" fill="#cac7e7" stroke="#9690cf" stroke-width="0.8"/>
<line x1="360.40" y1="396.79" x2="360.40" y2="408.68" stroke="#9690cf" stroke-width="0.8"/>
<line x1="358.80" y1="396.79" x2="362.00" y2="396.79" stroke="#9690cf" stroke-width="0.9"/>
<line x1="358.80" y1="408.68" x2="362.00" y2="408.68" stroke="#9690cf" stroke-width="0.9"/>
<rect x="358.97" y="401.31" width="2.85" height="2.85" fill="#cac7e7" stroke="#9690cf" stroke-width="0.8"/>
<line x1="369.10" y1="403.84" x2="369.10" y2="412.33" stroke="#9690cf" stroke-width="0.8"/>
<line x1="367.50" y1="403.84" x2="370.70" y2="403.84" stroke="#9690cf" stroke-width="0.9"/>
<line x1="367.50" y1="412.33" x2="370.70" y2="412.33" stroke="#9690cf" stroke-width="0.9"/>
<rect x="367.68" y="406.66" width="2.85" height="2.85" fill="#cac7e7" stroke="#9690cf" stroke-width="0.8"/>
<line x1="375.40" y1="410.97" x2="375.40" y2="417.76" stroke="#9690cf" stroke-width="0.8"/>
<line x1="373.80" y1="410.97" x2="377.00" y2="410.97" stroke="#9690cf" stroke-width="0.9"/>
<line x1="373.80" y1="417.76" x2="377.00" y2="417.76" stroke="#9690cf" stroke-width="0.9"/>
<rect x="373.97" y="412.94" width="2.85" height="2.85" fill="#cac7e7" stroke="#9690cf" stroke-width="0.8"/>
<line x1="380.10" y1="421.41" x2="380.10" y2="428.20" stroke="#9690cf" stroke-width="0.8"/>
<line x1="378.50" y1="421.41" x2="381.70" y2="421.41" stroke="#9690cf" stroke-width="0.9"/>
<line x1="378.50" y1="428.20" x2="381.70" y2="428.20" stroke="#9690cf" stroke-width="0.9"/>
<rect x="378.68" y="423.38" width="2.85" height="2.85" fill="#cac7e7" stroke="#9690cf" stroke-width="0.8"/>
<line x1="395.50" y1="437.54" x2="395.50" y2="447.73" stroke="#9690cf" stroke-width="0.8"/>
<line x1="393.90" y1="437.54" x2="397.10" y2="437.54" stroke="#9690cf" stroke-width="0.9"/>
<line x1="393.90" y1="447.73" x2="397.10" y2="447.73" stroke="#9690cf" stroke-width="0.9"/>
<rect x="394.07" y="441.21" width="2.85" height="2.85" fill="#cac7e7" stroke="#9690cf" stroke-width="0.8"/>
<line x1="410.40" y1="451.13" x2="410.40" y2="457.92" stroke="#9690cf" stroke-width="0.8"/>
<line x1="408.80" y1="451.13" x2="412.00" y2="451.13" stroke="#9690cf" stroke-width="0.9"/>
<line x1="408.80" y1="457.92" x2="412.00" y2="457.92" stroke="#9690cf" stroke-width="0.9"/>
<rect x="408.97" y="453.10" width="2.85" height="2.85" fill="#cac7e7" stroke="#9690cf" stroke-width="0.8"/>
<line x1="300.45" y1="371.20" x2="300.45" y2="474.75" stroke="#111" stroke-width="1.4"/>
<line x1="299.75" y1="474.05" x2="422.50" y2="474.05" stroke="#111" stroke-width="1.4"/>
<line x1="296.95" y1="474.05" x2="300.45" y2="474.05" stroke="#231f20" stroke-width="0.9"/>
<text x="294.55" y="477.05" font-size="8.4" fill="#231f20" stroke="#231f20" stroke-width="0.15" text-anchor="end" textLength="4.25" lengthAdjust="spacingAndGlyphs">0</text>
<line x1="296.95" y1="431.60" x2="300.45" y2="431.60" stroke="#231f20" stroke-width="0.9"/>
<text x="294.55" y="434.60" font-size="8.4" fill="#231f20" stroke="#231f20" stroke-width="0.15" text-anchor="end" textLength="8.50" lengthAdjust="spacingAndGlyphs">50</text>
<line x1="296.95" y1="389.15" x2="300.45" y2="389.15" stroke="#231f20" stroke-width="0.9"/>
<text x="294.55" y="392.15" font-size="8.4" fill="#231f20" stroke="#231f20" stroke-width="0.15" text-anchor="end" textLength="12.75" lengthAdjust="spacingAndGlyphs">100</text>
<line x1="300.45" y1="474.05" x2="300.45" y2="476.05" stroke="#231f20" stroke-width="0.9"/>
<text x="300.75" y="486.65" font-size="8.4" fill="#231f20" stroke="#231f20" stroke-width="0.15" text-anchor="end">2</text>
<text x="300.65" y="483.35" font-size="5.6" fill="#231f20" stroke="#231f20" stroke-width="0.15">-2</text>
<line x1="330.20" y1="474.05" x2="330.20" y2="476.05" stroke="#231f20" stroke-width="0.9"/>
<text x="330.50" y="486.65" font-size="8.4" fill="#231f20" stroke="#231f20" stroke-width="0.15" text-anchor="end">2</text>
<text x="330.40" y="483.35" font-size="5.6" fill="#231f20" stroke="#231f20" stroke-width="0.15">0</text>
<line x1="359.95" y1="474.05" x2="359.95" y2="476.05" stroke="#231f20" stroke-width="0.9"/>
<text x="360.25" y="486.65" font-size="8.4" fill="#231f20" stroke="#231f20" stroke-width="0.15" text-anchor="end">2</text>
<text x="360.15" y="483.35" font-size="5.6" fill="#231f20" stroke="#231f20" stroke-width="0.15">2</text>
<line x1="389.70" y1="474.05" x2="389.70" y2="476.05" stroke="#231f20" stroke-width="0.9"/>
<text x="390.00" y="486.65" font-size="8.4" fill="#231f20" stroke="#231f20" stroke-width="0.15" text-anchor="end">2</text>
<text x="389.90" y="483.35" font-size="5.6" fill="#231f20" stroke="#231f20" stroke-width="0.15">4</text>
<line x1="419.45" y1="474.05" x2="419.45" y2="476.05" stroke="#231f20" stroke-width="0.9"/>
<text x="419.75" y="486.65" font-size="8.4" fill="#231f20" stroke="#231f20" stroke-width="0.15" text-anchor="end">2</text>
<text x="419.65" y="483.35" font-size="5.6" fill="#231f20" stroke="#231f20" stroke-width="0.15">6</text>
<text x="275.50" y="422.50" font-size="9.0" fill="#231f20" stroke="#231f20" stroke-width="0.15" text-anchor="middle" textLength="80.00" lengthAdjust="spacingAndGlyphs" transform="rotate(-90 275.50 422.50)">Relative cell viability (%)</text>
<text x="328.80" y="499.70" font-size="9.0" fill="#231f20" stroke="#231f20" stroke-width="0.15" textLength="65.70" lengthAdjust="spacingAndGlyphs">Concentration (μM)</text>
<line x1="430.35" y1="374.50" x2="431.25" y2="374.50" stroke="#9690cf" stroke-width="0.9"/>
<line x1="431.65" y1="374.50" x2="432.55" y2="374.50" stroke="#9690cf" stroke-width="0.9"/>
<line x1="437.45" y1="374.50" x2="438.35" y2="374.50" stroke="#9690cf" stroke-width="0.9"/>
<line x1="438.75" y1="374.50" x2="439.65" y2="374.50" stroke="#9690cf" stroke-width="0.9"/>
<rect x="433.34" y="372.84" width="3.32" height="3.32" fill="#cac7e7" stroke="#9690cf" stroke-width="0.8"/>
<text x="442.50" y="377.20" font-size="7.8" fill="#231f20" stroke="#231f20" stroke-width="0.15" textLength="50.30" lengthAdjust="spacingAndGlyphs">ARP-1 CTR-KO</text>
<line x1="430.40" y1="385.25" x2="439.60" y2="385.25" stroke="#9690cf" stroke-width="0.9"/>
<rect x="433.85" y="384.10" width="2.30" height="2.30" fill="#9690cf" stroke="#9690cf" stroke-width="0.8"/>
<text x="442.50" y="387.95" font-size="7.8" fill="#231f20" stroke="#231f20" stroke-width="0.15" textLength="49.05" lengthAdjust="spacingAndGlyphs">ARP-1 MIF-KO</text>
<line x1="430.35" y1="396.00" x2="431.25" y2="396.00" stroke="#2b4b8c" stroke-width="0.9"/>
<line x1="431.65" y1="396.00" x2="432.55" y2="396.00" stroke="#2b4b8c" stroke-width="0.9"/>
<line x1="437.45" y1="396.00" x2="438.35" y2="396.00" stroke="#2b4b8c" stroke-width="0.9"/>
<line x1="438.75" y1="396.00" x2="439.65" y2="396.00" stroke="#2b4b8c" stroke-width="0.9"/>
<path d="M435.00,394.00 L436.83,397.33 L433.17,397.33 Z" fill="#95a5c5" stroke="#2b4b8c" stroke-width="0.8"/>
<text x="442.50" y="398.70" font-size="7.8" fill="#231f20" stroke="#231f20" stroke-width="0.15" textLength="53.30" lengthAdjust="spacingAndGlyphs">MM.1S CTR-KO</text>
<line x1="430.40" y1="406.75" x2="439.60" y2="406.75" stroke="#2b4b8c" stroke-width="0.9"/>
<path d="M435.00,405.37 L436.26,407.67 L433.74,407.67 Z" fill="#2b4b8c" stroke="#2b4b8c" stroke-width="0.8"/>
<text x="442.50" y="409.45" font-size="7.8" fill="#231f20" stroke="#231f20" stroke-width="0.15" textLength="51.55" lengthAdjust="spacingAndGlyphs">MM.1S MIF-KO</text>
<line x1="430.35" y1="417.50" x2="431.25" y2="417.50" stroke="#b5163f" stroke-width="0.9"/>
<line x1="431.65" y1="417.50" x2="432.55" y2="417.50" stroke="#b5163f" stroke-width="0.9"/>
<line x1="437.45" y1="417.50" x2="438.35" y2="417.50" stroke="#b5163f" stroke-width="0.9"/>
<line x1="438.75" y1="417.50" x2="439.65" y2="417.50" stroke="#b5163f" stroke-width="0.9"/>
<path d="M435.00,415.42 L437.08,417.50 L435.00,419.58 L432.92,417.50 Z" fill="#da8a9f" stroke="#b5163f" stroke-width="0.8"/>
<text x="442.50" y="420.20" font-size="7.8" fill="#231f20" stroke="#231f20" stroke-width="0.15" textLength="54.05" lengthAdjust="spacingAndGlyphs">MM.1R CTR-KO</text>
<line x1="430.40" y1="428.25" x2="439.60" y2="428.25" stroke="#b5163f" stroke-width="0.9"/>
<path d="M435.00,426.81 L436.44,428.25 L435.00,429.69 L433.56,428.25 Z" fill="#b5163f" stroke="#b5163f" stroke-width="0.8"/>
<text x="442.50" y="430.95" font-size="7.8" fill="#231f20" stroke="#231f20" stroke-width="0.15" textLength="52.30" lengthAdjust="spacingAndGlyphs">MM.1R MIF-KO</text>
<line x1="430.35" y1="439.00" x2="431.25" y2="439.00" stroke="#6cb84a" stroke-width="0.9"/>
<line x1="431.65" y1="439.00" x2="432.55" y2="439.00" stroke="#6cb84a" stroke-width="0.9"/>
<line x1="437.45" y1="439.00" x2="438.35" y2="439.00" stroke="#6cb84a" stroke-width="0.9"/>
<line x1="438.75" y1="439.00" x2="439.65" y2="439.00" stroke="#6cb84a" stroke-width="0.9"/>
<path d="M435.00,441.00 L436.83,437.67 L433.17,437.67 Z" fill="#b5dca4" stroke="#6cb84a" stroke-width="0.8"/>
<text x="442.50" y="441.70" font-size="7.8" fill="#231f20" stroke="#231f20" stroke-width="0.15" textLength="69.80" lengthAdjust="spacingAndGlyphs">KMS-12-BM CTR-KO</text>
<line x1="430.40" y1="449.75" x2="439.60" y2="449.75" stroke="#6cb84a" stroke-width="0.9"/>
<path d="M435.00,451.13 L436.26,448.83 L433.74,448.83 Z" fill="#6cb84a" stroke="#6cb84a" stroke-width="0.8"/>
<text x="442.50" y="452.45" font-size="7.8" fill="#231f20" stroke="#231f20" stroke-width="0.15" textLength="68.30" lengthAdjust="spacingAndGlyphs">KMS-12-BM MIF-KO</text>
<line x1="430.35" y1="460.50" x2="431.25" y2="460.50" stroke="#e69a2e" stroke-width="0.9"/>
<line x1="431.65" y1="460.50" x2="432.55" y2="460.50" stroke="#e69a2e" stroke-width="0.9"/>
<line x1="437.45" y1="460.50" x2="438.35" y2="460.50" stroke="#e69a2e" stroke-width="0.9"/>
<line x1="438.75" y1="460.50" x2="439.65" y2="460.50" stroke="#e69a2e" stroke-width="0.9"/>
<circle cx="435.00" cy="460.50" r="1.66" fill="#f2cc96" stroke="#e69a2e" stroke-width="0.8"/>
<text x="442.50" y="463.20" font-size="7.8" fill="#231f20" stroke="#231f20" stroke-width="0.15" textLength="47.30" lengthAdjust="spacingAndGlyphs">U266 CTR-KO</text>
<line x1="430.40" y1="471.25" x2="439.60" y2="471.25" stroke="#e69a2e" stroke-width="0.9"/>
<circle cx="435.00" cy="471.25" r="1.15" fill="#e69a2e" stroke="#e69a2e" stroke-width="0.8"/>
<text x="442.50" y="473.95" font-size="7.8" fill="#231f20" stroke="#231f20" stroke-width="0.15" textLength="46.05" lengthAdjust="spacingAndGlyphs">U266 MIF-KO</text>
<text x="9.30" y="523.80" font-size="12.5" fill="#000" stroke="#000" stroke-width="0.15" font-weight="bold" textLength="8.70" lengthAdjust="spacingAndGlyphs">H</text>
<text x="101.30" y="524.80" font-size="9.8" fill="#231f20" stroke="#231f20" stroke-width="0.15" text-anchor="middle" textLength="16.50" lengthAdjust="spacingAndGlyphs">Len</text>
<polyline points="55.00,568.45 69.80,570.16 84.80,575.28 99.90,581.26 108.70,582.97 114.70,588.09 119.80,591.93 134.60,594.92 149.60,595.78" fill="none" stroke="#e69a2e" stroke-width="1.15" stroke-linejoin="round"/>
<polyline points="55.00,568.02 69.80,569.47 84.80,574.68 99.90,580.41 108.70,582.54 114.70,587.24 119.80,591.51 134.60,594.41 149.60,595.35" fill="none" stroke="#e69a2e" stroke-width="1.1" stroke-linejoin="round" stroke-dasharray="2.2,1.6"/>
<polyline points="55.00,549.66 69.80,553.50 84.80,553.93 99.90,562.47 108.70,568.02 114.70,573.57 119.80,575.28 134.60,581.26 149.60,585.53" fill="none" stroke="#6cb84a" stroke-width="1.15" stroke-linejoin="round"/>
<polyline points="55.00,545.39 69.80,551.37 84.80,551.37 99.90,555.64 108.70,569.30 114.70,571.01 119.80,574.68 134.60,580.41 149.60,582.54" fill="none" stroke="#6cb84a" stroke-width="1.1" stroke-linejoin="round" stroke-dasharray="2.2,1.6"/>
<polyline points="55.00,560.76 69.80,579.98 84.80,596.63 99.90,600.05 108.70,602.18 114.70,605.17 119.80,606.45 134.60,608.16 149.60,610.72" fill="none" stroke="#b5163f" stroke-width="1.15" stroke-linejoin="round"/>
<polyline points="55.00,559.91 69.80,579.55 84.80,595.95 99.90,599.62 108.70,601.76 114.70,604.75 119.80,606.03 134.60,607.73 149.60,610.30" fill="none" stroke="#b5163f" stroke-width="1.1" stroke-linejoin="round" stroke-dasharray="2.2,1.6"/>
<polyline points="55.00,559.06 69.80,579.55 84.80,596.21 99.90,599.62 108.70,602.18 114.70,605.17 119.80,606.45 134.60,608.16 149.60,610.72" fill="none" stroke="#2b4b8c" stroke-width="1.15" stroke-linejoin="round"/>
<polyline points="55.00,558.20 69.80,579.12 84.80,595.78 99.90,599.36 108.70,601.76 114.70,604.92 119.80,606.03 134.60,607.82 149.60,610.47" fill="none" stroke="#2b4b8c" stroke-width="1.1" stroke-linejoin="round" stroke-dasharray="2.2,1.6"/>
<polyline points="55.00,559.91 69.80,574.43 84.80,581.26 99.90,586.38 108.70,588.95 114.70,594.07 119.80,596.63 134.60,600.90 149.60,604.32" fill="none" stroke="#9690cf" stroke-width="1.15" stroke-linejoin="round"/>
<polyline points="55.00,559.06 69.80,573.57 84.80,580.41 99.90,585.53 108.70,588.09 114.70,593.22 119.80,595.95 134.60,600.48 149.60,603.81" fill="none" stroke="#9690cf" stroke-width="1.1" stroke-linejoin="round" stroke-dasharray="2.2,1.6"/>
<line x1="55.00" y1="563.33" x2="55.00" y2="573.57" stroke="#e69a2e" stroke-width="0.8"/>
<line x1="53.40" y1="563.33" x2="56.60" y2="563.33" stroke="#e69a2e" stroke-width="0.9"/>
<line x1="53.40" y1="573.57" x2="56.60" y2="573.57" stroke="#e69a2e" stroke-width="0.9"/>
<circle cx="55.00" cy="568.45" r="1.50" fill="#e69a2e" stroke="#e69a2e" stroke-width="0.8"/>
<line x1="69.80" y1="566.74" x2="69.80" y2="573.57" stroke="#e69a2e" stroke-width="0.8"/>
<line x1="68.20" y1="566.74" x2="71.40" y2="566.74" stroke="#e69a2e" stroke-width="0.9"/>
<line x1="68.20" y1="573.57" x2="71.40" y2="573.57" stroke="#e69a2e" stroke-width="0.9"/>
<circle cx="69.80" cy="570.16" r="1.50" fill="#e69a2e" stroke="#e69a2e" stroke-width="0.8"/>
<line x1="84.80" y1="571.01" x2="84.80" y2="579.55" stroke="#e69a2e" stroke-width="0.8"/>
<line x1="83.20" y1="571.01" x2="86.40" y2="571.01" stroke="#e69a2e" stroke-width="0.9"/>
<line x1="83.20" y1="579.55" x2="86.40" y2="579.55" stroke="#e69a2e" stroke-width="0.9"/>
<circle cx="84.80" cy="575.28" r="1.50" fill="#e69a2e" stroke="#e69a2e" stroke-width="0.8"/>
<line x1="99.90" y1="577.84" x2="99.90" y2="584.68" stroke="#e69a2e" stroke-width="0.8"/>
<line x1="98.30" y1="577.84" x2="101.50" y2="577.84" stroke="#e69a2e" stroke-width="0.9"/>
<line x1="98.30" y1="584.68" x2="101.50" y2="584.68" stroke="#e69a2e" stroke-width="0.9"/>
<circle cx="99.90" cy="581.26" r="1.50" fill="#e69a2e" stroke="#e69a2e" stroke-width="0.8"/>
<line x1="108.70" y1="579.55" x2="108.70" y2="586.38" stroke="#e69a2e" stroke-width="0.8"/>
<line x1="107.10" y1="579.55" x2="110.30" y2="579.55" stroke="#e69a2e" stroke-width="0.9"/>
<line x1="107.10" y1="586.38" x2="110.30" y2="586.38" stroke="#e69a2e" stroke-width="0.9"/>
<circle cx="108.70" cy="582.97" r="1.50" fill="#e69a2e" stroke="#e69a2e" stroke-width="0.8"/>
<line x1="114.70" y1="584.68" x2="114.70" y2="591.51" stroke="#e69a2e" stroke-width="0.8"/>
<line x1="113.10" y1="584.68" x2="116.30" y2="584.68" stroke="#e69a2e" stroke-width="0.9"/>
<line x1="113.10" y1="591.51" x2="116.30" y2="591.51" stroke="#e69a2e" stroke-width="0.9"/>
<circle cx="114.70" cy="588.09" r="1.50" fill="#e69a2e" stroke="#e69a2e" stroke-width="0.8"/>
<line x1="119.80" y1="588.52" x2="119.80" y2="595.35" stroke="#e69a2e" stroke-width="0.8"/>
<line x1="118.20" y1="588.52" x2="121.40" y2="588.52" stroke="#e69a2e" stroke-width="0.9"/>
<line x1="118.20" y1="595.35" x2="121.40" y2="595.35" stroke="#e69a2e" stroke-width="0.9"/>
<circle cx="119.80" cy="591.93" r="1.50" fill="#e69a2e" stroke="#e69a2e" stroke-width="0.8"/>
<line x1="134.60" y1="591.51" x2="134.60" y2="598.34" stroke="#e69a2e" stroke-width="0.8"/>
<line x1="133.00" y1="591.51" x2="136.20" y2="591.51" stroke="#e69a2e" stroke-width="0.9"/>
<line x1="133.00" y1="598.34" x2="136.20" y2="598.34" stroke="#e69a2e" stroke-width="0.9"/>
<circle cx="134.60" cy="594.92" r="1.50" fill="#e69a2e" stroke="#e69a2e" stroke-width="0.8"/>
<line x1="149.60" y1="592.36" x2="149.60" y2="599.19" stroke="#e69a2e" stroke-width="0.8"/>
<line x1="148.00" y1="592.36" x2="151.20" y2="592.36" stroke="#e69a2e" stroke-width="0.9"/>
<line x1="148.00" y1="599.19" x2="151.20" y2="599.19" stroke="#e69a2e" stroke-width="0.9"/>
<circle cx="149.60" cy="595.78" r="1.50" fill="#e69a2e" stroke="#e69a2e" stroke-width="0.8"/>
<line x1="55.00" y1="562.90" x2="55.00" y2="573.15" stroke="#e69a2e" stroke-width="0.8"/>
<line x1="53.40" y1="562.90" x2="56.60" y2="562.90" stroke="#e69a2e" stroke-width="0.9"/>
<line x1="53.40" y1="573.15" x2="56.60" y2="573.15" stroke="#e69a2e" stroke-width="0.9"/>
<circle cx="55.00" cy="568.02" r="1.42" fill="#f2cc96" stroke="#e69a2e" stroke-width="0.8"/>
<line x1="69.80" y1="566.06" x2="69.80" y2="572.89" stroke="#e69a2e" stroke-width="0.8"/>
<line x1="68.20" y1="566.06" x2="71.40" y2="566.06" stroke="#e69a2e" stroke-width="0.9"/>
<line x1="68.20" y1="572.89" x2="71.40" y2="572.89" stroke="#e69a2e" stroke-width="0.9"/>
<circle cx="69.80" cy="569.47" r="1.42" fill="#f2cc96" stroke="#e69a2e" stroke-width="0.8"/>
<line x1="84.80" y1="568.71" x2="84.80" y2="580.66" stroke="#e69a2e" stroke-width="0.8"/>
<line x1="83.20" y1="568.71" x2="86.40" y2="568.71" stroke="#e69a2e" stroke-width="0.9"/>
<line x1="83.20" y1="580.66" x2="86.40" y2="580.66" stroke="#e69a2e" stroke-width="0.9"/>
<circle cx="84.80" cy="574.68" r="1.42" fill="#f2cc96" stroke="#e69a2e" stroke-width="0.8"/>
<line x1="99.90" y1="575.28" x2="99.90" y2="585.53" stroke="#e69a2e" stroke-width="0.8"/>
<line x1="98.30" y1="575.28" x2="101.50" y2="575.28" stroke="#e69a2e" stroke-width="0.9"/>
<line x1="98.30" y1="585.53" x2="101.50" y2="585.53" stroke="#e69a2e" stroke-width="0.9"/>
<circle cx="99.90" cy="580.41" r="1.42" fill="#f2cc96" stroke="#e69a2e" stroke-width="0.8"/>
<line x1="108.70" y1="577.42" x2="108.70" y2="587.66" stroke="#e69a2e" stroke-width="0.8"/>
<line x1="107.10" y1="577.42" x2="110.30" y2="577.42" stroke="#e69a2e" stroke-width="0.9"/>
<line x1="107.10" y1="587.66" x2="110.30" y2="587.66" stroke="#e69a2e" stroke-width="0.9"/>
<circle cx="108.70" cy="582.54" r="1.42" fill="#f2cc96" stroke="#e69a2e" stroke-width="0.8"/>
<line x1="114.70" y1="582.97" x2="114.70" y2="591.51" stroke="#e69a2e" stroke-width="0.8"/>
<line x1="113.10" y1="582.97" x2="116.30" y2="582.97" stroke="#e69a2e" stroke-width="0.9"/>
<line x1="113.10" y1="591.51" x2="116.30" y2="591.51" stroke="#e69a2e" stroke-width="0.9"/>
<circle cx="114.70" cy="587.24" r="1.42" fill="#f2cc96" stroke="#e69a2e" stroke-width="0.8"/>
<line x1="119.80" y1="587.24" x2="119.80" y2="595.78" stroke="#e69a2e" stroke-width="0.8"/>
<line x1="118.20" y1="587.24" x2="121.40" y2="587.24" stroke="#e69a2e" stroke-width="0.9"/>
<line x1="118.20" y1="595.78" x2="121.40" y2="595.78" stroke="#e69a2e" stroke-width="0.9"/>
<circle cx="119.80" cy="591.51" r="1.42" fill="#f2cc96" stroke="#e69a2e" stroke-width="0.8"/>
<line x1="134.60" y1="591.00" x2="134.60" y2="597.83" stroke="#e69a2e" stroke-width="0.8"/>
<line x1="133.00" y1="591.00" x2="136.20" y2="591.00" stroke="#e69a2e" stroke-width="0.9"/>
<line x1="133.00" y1="597.83" x2="136.20" y2="597.83" stroke="#e69a2e" stroke-width="0.9"/>
<circle cx="134.60" cy="594.41" r="1.42" fill="#f2cc96" stroke="#e69a2e" stroke-width="0.8"/>
<line x1="149.60" y1="591.93" x2="149.60" y2="598.77" stroke="#e69a2e" stroke-width="0.8"/>
<line x1="148.00" y1="591.93" x2="151.20" y2="591.93" stroke="#e69a2e" stroke-width="0.9"/>
<line x1="148.00" y1="598.77" x2="151.20" y2="598.77" stroke="#e69a2e" stroke-width="0.9"/>
<circle cx="149.60" cy="595.35" r="1.42" fill="#f2cc96" stroke="#e69a2e" stroke-width="0.8"/>
<line x1="55.00" y1="546.25" x2="55.00" y2="553.08" stroke="#6cb84a" stroke-width="0.8"/>
<line x1="53.40" y1="546.25" x2="56.60" y2="546.25" stroke="#6cb84a" stroke-width="0.9"/>
<line x1="53.40" y1="553.08" x2="56.60" y2="553.08" stroke="#6cb84a" stroke-width="0.9"/>
<path d="M55.00,551.46 L56.65,548.46 L53.35,548.46 Z" fill="#6cb84a" stroke="#6cb84a" stroke-width="0.8"/>
<line x1="69.80" y1="550.09" x2="69.80" y2="556.92" stroke="#6cb84a" stroke-width="0.8"/>
<line x1="68.20" y1="550.09" x2="71.40" y2="550.09" stroke="#6cb84a" stroke-width="0.9"/>
<line x1="68.20" y1="556.92" x2="71.40" y2="556.92" stroke="#6cb84a" stroke-width="0.9"/>
<path d="M69.80,555.30 L71.45,552.30 L68.15,552.30 Z" fill="#6cb84a" stroke="#6cb84a" stroke-width="0.8"/>
<line x1="84.80" y1="549.66" x2="84.80" y2="558.20" stroke="#6cb84a" stroke-width="0.8"/>
<line x1="83.20" y1="549.66" x2="86.40" y2="549.66" stroke="#6cb84a" stroke-width="0.9"/>
<line x1="83.20" y1="558.20" x2="86.40" y2="558.20" stroke="#6cb84a" stroke-width="0.9"/>
<path d="M84.80,555.73 L86.45,552.73 L83.15,552.73 Z" fill="#6cb84a" stroke="#6cb84a" stroke-width="0.8"/>
<line x1="99.90" y1="558.20" x2="99.90" y2="566.74" stroke="#6cb84a" stroke-width="0.8"/>
<line x1="98.30" y1="558.20" x2="101.50" y2="558.20" stroke="#6cb84a" stroke-width="0.9"/>
<line x1="98.30" y1="566.74" x2="101.50" y2="566.74" stroke="#6cb84a" stroke-width="0.9"/>
<path d="M99.90,564.27 L101.55,561.27 L98.25,561.27 Z" fill="#6cb84a" stroke="#6cb84a" stroke-width="0.8"/>
<line x1="108.70" y1="564.61" x2="108.70" y2="571.44" stroke="#6cb84a" stroke-width="0.8"/>
<line x1="107.10" y1="564.61" x2="110.30" y2="564.61" stroke="#6cb84a" stroke-width="0.9"/>
<line x1="107.10" y1="571.44" x2="110.30" y2="571.44" stroke="#6cb84a" stroke-width="0.9"/>
<path d="M108.70,569.82 L110.35,566.82 L107.05,566.82 Z" fill="#6cb84a" stroke="#6cb84a" stroke-width="0.8"/>
<line x1="114.70" y1="570.16" x2="114.70" y2="576.99" stroke="#6cb84a" stroke-width="0.8"/>
<line x1="113.10" y1="570.16" x2="116.30" y2="570.16" stroke="#6cb84a" stroke-width="0.9"/>
<line x1="113.10" y1="576.99" x2="116.30" y2="576.99" stroke="#6cb84a" stroke-width="0.9"/>
<path d="M114.70,575.37 L116.35,572.37 L113.05,572.37 Z" fill="#6cb84a" stroke="#6cb84a" stroke-width="0.8"/>
<line x1="119.80" y1="571.87" x2="119.80" y2="578.70" stroke="#6cb84a" stroke-width="0.8"/>
<line x1="118.20" y1="571.87" x2="121.40" y2="571.87" stroke="#6cb84a" stroke-width="0.9"/>
<line x1="118.20" y1="578.70" x2="121.40" y2="578.70" stroke="#6cb84a" stroke-width="0.9"/>
<path d="M119.80,577.08 L121.45,574.08 L118.15,574.08 Z" fill="#6cb84a" stroke="#6cb84a" stroke-width="0.8"/>
<line x1="134.60" y1="577.84" x2="134.60" y2="584.68" stroke="#6cb84a" stroke-width="0.8"/>
<line x1="133.00" y1="577.84" x2="136.20" y2="577.84" stroke="#6cb84a" stroke-width="0.9"/>
<line x1="133.00" y1="584.68" x2="136.20" y2="584.68" stroke="#6cb84a" stroke-width="0.9"/>
<path d="M134.60,583.06 L136.25,580.06 L132.95,580.06 Z" fill="#6cb84a" stroke="#6cb84a" stroke-width="0.8"/>
<line x1="149.60" y1="582.11" x2="149.60" y2="588.95" stroke="#6cb84a" stroke-width="0.8"/>
<line x1="148.00" y1="582.11" x2="151.20" y2="582.11" stroke="#6cb84a" stroke-width="0.9"/>
<line x1="148.00" y1="588.95" x2="151.20" y2="588.95" stroke="#6cb84a" stroke-width="0.9"/>
<path d="M149.60,587.33 L151.25,584.33 L147.95,584.33 Z" fill="#6cb84a" stroke="#6cb84a" stroke-width="0.8"/>
<line x1="55.00" y1="542.83" x2="55.00" y2="547.95" stroke="#6cb84a" stroke-width="0.8"/>
<line x1="53.40" y1="542.83" x2="56.60" y2="542.83" stroke="#6cb84a" stroke-width="0.9"/>
<line x1="53.40" y1="547.95" x2="56.60" y2="547.95" stroke="#6cb84a" stroke-width="0.9"/>
<path d="M55.00,547.10 L56.57,544.25 L53.43,544.25 Z" fill="#b5dca4" stroke="#6cb84a" stroke-width="0.8"/>
<line x1="69.80" y1="547.95" x2="69.80" y2="554.79" stroke="#6cb84a" stroke-width="0.8"/>
<line x1="68.20" y1="547.95" x2="71.40" y2="547.95" stroke="#6cb84a" stroke-width="0.9"/>
<line x1="68.20" y1="554.79" x2="71.40" y2="554.79" stroke="#6cb84a" stroke-width="0.9"/>
<path d="M69.80,553.08 L71.37,550.23 L68.23,550.23 Z" fill="#b5dca4" stroke="#6cb84a" stroke-width="0.8"/>
<line x1="84.80" y1="541.98" x2="84.80" y2="560.76" stroke="#6cb84a" stroke-width="0.8"/>
<line x1="83.20" y1="541.98" x2="86.40" y2="541.98" stroke="#6cb84a" stroke-width="0.9"/>
<line x1="83.20" y1="560.76" x2="86.40" y2="560.76" stroke="#6cb84a" stroke-width="0.9"/>
<path d="M84.80,553.08 L86.37,550.23 L83.23,550.23 Z" fill="#b5dca4" stroke="#6cb84a" stroke-width="0.8"/>
<line x1="99.90" y1="547.95" x2="99.90" y2="563.33" stroke="#6cb84a" stroke-width="0.8"/>
<line x1="98.30" y1="547.95" x2="101.50" y2="547.95" stroke="#6cb84a" stroke-width="0.9"/>
<line x1="98.30" y1="563.33" x2="101.50" y2="563.33" stroke="#6cb84a" stroke-width="0.9"/>
<path d="M99.90,557.35 L101.47,554.50 L98.33,554.50 Z" fill="#b5dca4" stroke="#6cb84a" stroke-width="0.8"/>
<line x1="108.70" y1="564.18" x2="108.70" y2="574.43" stroke="#6cb84a" stroke-width="0.8"/>
<line x1="107.10" y1="564.18" x2="110.30" y2="564.18" stroke="#6cb84a" stroke-width="0.9"/>
<line x1="107.10" y1="574.43" x2="110.30" y2="574.43" stroke="#6cb84a" stroke-width="0.9"/>
<path d="M108.70,571.01 L110.27,568.16 L107.13,568.16 Z" fill="#b5dca4" stroke="#6cb84a" stroke-width="0.8"/>
<line x1="114.70" y1="565.89" x2="114.70" y2="576.14" stroke="#6cb84a" stroke-width="0.8"/>
<line x1="113.10" y1="565.89" x2="116.30" y2="565.89" stroke="#6cb84a" stroke-width="0.9"/>
<line x1="113.10" y1="576.14" x2="116.30" y2="576.14" stroke="#6cb84a" stroke-width="0.9"/>
<path d="M114.70,572.72 L116.27,569.87 L113.13,569.87 Z" fill="#b5dca4" stroke="#6cb84a" stroke-width="0.8"/>
<line x1="119.80" y1="570.41" x2="119.80" y2="578.95" stroke="#6cb84a" stroke-width="0.8"/>
<line x1="118.20" y1="570.41" x2="121.40" y2="570.41" stroke="#6cb84a" stroke-width="0.9"/>
<line x1="118.20" y1="578.95" x2="121.40" y2="578.95" stroke="#6cb84a" stroke-width="0.9"/>
<path d="M119.80,576.39 L121.37,573.54 L118.23,573.54 Z" fill="#b5dca4" stroke="#6cb84a" stroke-width="0.8"/>
<line x1="134.60" y1="576.14" x2="134.60" y2="584.68" stroke="#6cb84a" stroke-width="0.8"/>
<line x1="133.00" y1="576.14" x2="136.20" y2="576.14" stroke="#6cb84a" stroke-width="0.9"/>
<line x1="133.00" y1="584.68" x2="136.20" y2="584.68" stroke="#6cb84a" stroke-width="0.9"/>
<path d="M134.60,582.12 L136.17,579.27 L133.03,579.27 Z" fill="#b5dca4" stroke="#6cb84a" stroke-width="0.8"/>
<line x1="149.60" y1="579.12" x2="149.60" y2="585.96" stroke="#6cb84a" stroke-width="0.8"/>
<line x1="148.00" y1="579.12" x2="151.20" y2="579.12" stroke="#6cb84a" stroke-width="0.9"/>
<line x1="148.00" y1="585.96" x2="151.20" y2="585.96" stroke="#6cb84a" stroke-width="0.9"/>
<path d="M149.60,584.25 L151.17,581.40 L148.03,581.40 Z" fill="#b5dca4" stroke="#6cb84a" stroke-width="0.8"/>
<line x1="55.00" y1="557.35" x2="55.00" y2="564.18" stroke="#b5163f" stroke-width="0.8"/>
<line x1="53.40" y1="557.35" x2="56.60" y2="557.35" stroke="#b5163f" stroke-width="0.9"/>
<line x1="53.40" y1="564.18" x2="56.60" y2="564.18" stroke="#b5163f" stroke-width="0.9"/>
<path d="M55.00,558.89 L56.88,560.76 L55.00,562.64 L53.12,560.76 Z" fill="#b5163f" stroke="#b5163f" stroke-width="0.8"/>
<line x1="69.80" y1="576.56" x2="69.80" y2="583.39" stroke="#b5163f" stroke-width="0.8"/>
<line x1="68.20" y1="576.56" x2="71.40" y2="576.56" stroke="#b5163f" stroke-width="0.9"/>
<line x1="68.20" y1="583.39" x2="71.40" y2="583.39" stroke="#b5163f" stroke-width="0.9"/>
<path d="M69.80,578.10 L71.67,579.98 L69.80,581.85 L67.92,579.98 Z" fill="#b5163f" stroke="#b5163f" stroke-width="0.8"/>
<line x1="84.80" y1="593.22" x2="84.80" y2="600.05" stroke="#b5163f" stroke-width="0.8"/>
<line x1="83.20" y1="593.22" x2="86.40" y2="593.22" stroke="#b5163f" stroke-width="0.9"/>
<line x1="83.20" y1="600.05" x2="86.40" y2="600.05" stroke="#b5163f" stroke-width="0.9"/>
<path d="M84.80,594.76 L86.67,596.63 L84.80,598.51 L82.92,596.63 Z" fill="#b5163f" stroke="#b5163f" stroke-width="0.8"/>
<line x1="99.90" y1="596.63" x2="99.90" y2="603.46" stroke="#b5163f" stroke-width="0.8"/>
<line x1="98.30" y1="596.63" x2="101.50" y2="596.63" stroke="#b5163f" stroke-width="0.9"/>
<line x1="98.30" y1="603.46" x2="101.50" y2="603.46" stroke="#b5163f" stroke-width="0.9"/>
<path d="M99.90,598.17 L101.78,600.05 L99.90,601.92 L98.03,600.05 Z" fill="#b5163f" stroke="#b5163f" stroke-width="0.8"/>
<line x1="108.70" y1="598.77" x2="108.70" y2="605.60" stroke="#b5163f" stroke-width="0.8"/>
<line x1="107.10" y1="598.77" x2="110.30" y2="598.77" stroke="#b5163f" stroke-width="0.9"/>
<line x1="107.10" y1="605.60" x2="110.30" y2="605.60" stroke="#b5163f" stroke-width="0.9"/>
<path d="M108.70,600.31 L110.58,602.18 L108.70,604.06 L106.83,602.18 Z" fill="#b5163f" stroke="#b5163f" stroke-width="0.8"/>
<line x1="114.70" y1="601.76" x2="114.70" y2="608.59" stroke="#b5163f" stroke-width="0.8"/>
<line x1="113.10" y1="601.76" x2="116.30" y2="601.76" stroke="#b5163f" stroke-width="0.9"/>
<line x1="113.10" y1="608.59" x2="116.30" y2="608.59" stroke="#b5163f" stroke-width="0.9"/>
<path d="M114.70,603.30 L116.58,605.17 L114.70,607.05 L112.83,605.17 Z" fill="#b5163f" stroke="#b5163f" stroke-width="0.8"/>
<line x1="119.80" y1="603.04" x2="119.80" y2="609.87" stroke="#b5163f" stroke-width="0.8"/>
<line x1="118.20" y1="603.04" x2="121.40" y2="603.04" stroke="#b5163f" stroke-width="0.9"/>
<line x1="118.20" y1="609.87" x2="121.40" y2="609.87" stroke="#b5163f" stroke-width="0.9"/>
<path d="M119.80,604.58 L121.67,606.45 L119.80,608.33 L117.92,606.45 Z" fill="#b5163f" stroke="#b5163f" stroke-width="0.8"/>
<line x1="134.60" y1="604.75" x2="134.60" y2="611.58" stroke="#b5163f" stroke-width="0.8"/>
<line x1="133.00" y1="604.75" x2="136.20" y2="604.75" stroke="#b5163f" stroke-width="0.9"/>
<line x1="133.00" y1="611.58" x2="136.20" y2="611.58" stroke="#b5163f" stroke-width="0.9"/>
<path d="M134.60,606.29 L136.47,608.16 L134.60,610.04 L132.72,608.16 Z" fill="#b5163f" stroke="#b5163f" stroke-width="0.8"/>
<line x1="149.60" y1="607.31" x2="149.60" y2="614.14" stroke="#b5163f" stroke-width="0.8"/>
<line x1="148.00" y1="607.31" x2="151.20" y2="607.31" stroke="#b5163f" stroke-width="0.9"/>
<line x1="148.00" y1="614.14" x2="151.20" y2="614.14" stroke="#b5163f" stroke-width="0.9"/>
<path d="M149.60,608.85 L151.47,610.72 L149.60,612.60 L147.72,610.72 Z" fill="#b5163f" stroke="#b5163f" stroke-width="0.8"/>
<line x1="55.00" y1="554.79" x2="55.00" y2="565.03" stroke="#b5163f" stroke-width="0.8"/>
<line x1="53.40" y1="554.79" x2="56.60" y2="554.79" stroke="#b5163f" stroke-width="0.9"/>
<line x1="53.40" y1="565.03" x2="56.60" y2="565.03" stroke="#b5163f" stroke-width="0.9"/>
<path d="M55.00,558.13 L56.78,559.91 L55.00,561.69 L53.22,559.91 Z" fill="#da8a9f" stroke="#b5163f" stroke-width="0.8"/>
<line x1="69.80" y1="576.14" x2="69.80" y2="582.97" stroke="#b5163f" stroke-width="0.8"/>
<line x1="68.20" y1="576.14" x2="71.40" y2="576.14" stroke="#b5163f" stroke-width="0.9"/>
<line x1="68.20" y1="582.97" x2="71.40" y2="582.97" stroke="#b5163f" stroke-width="0.9"/>
<path d="M69.80,577.77 L71.58,579.55 L69.80,581.33 L68.02,579.55 Z" fill="#da8a9f" stroke="#b5163f" stroke-width="0.8"/>
<line x1="84.80" y1="592.53" x2="84.80" y2="599.36" stroke="#b5163f" stroke-width="0.8"/>
<line x1="83.20" y1="592.53" x2="86.40" y2="592.53" stroke="#b5163f" stroke-width="0.9"/>
<line x1="83.20" y1="599.36" x2="86.40" y2="599.36" stroke="#b5163f" stroke-width="0.9"/>
<path d="M84.80,594.17 L86.58,595.95 L84.80,597.73 L83.02,595.95 Z" fill="#da8a9f" stroke="#b5163f" stroke-width="0.8"/>
<line x1="99.90" y1="596.21" x2="99.90" y2="603.04" stroke="#b5163f" stroke-width="0.8"/>
<line x1="98.30" y1="596.21" x2="101.50" y2="596.21" stroke="#b5163f" stroke-width="0.9"/>
<line x1="98.30" y1="603.04" x2="101.50" y2="603.04" stroke="#b5163f" stroke-width="0.9"/>
<path d="M99.90,597.84 L101.68,599.62 L99.90,601.40 L98.12,599.62 Z" fill="#da8a9f" stroke="#b5163f" stroke-width="0.8"/>
<line x1="108.70" y1="598.34" x2="108.70" y2="605.17" stroke="#b5163f" stroke-width="0.8"/>
<line x1="107.10" y1="598.34" x2="110.30" y2="598.34" stroke="#b5163f" stroke-width="0.9"/>
<line x1="107.10" y1="605.17" x2="110.30" y2="605.17" stroke="#b5163f" stroke-width="0.9"/>
<path d="M108.70,599.97 L110.48,601.76 L108.70,603.54 L106.92,601.76 Z" fill="#da8a9f" stroke="#b5163f" stroke-width="0.8"/>
<line x1="114.70" y1="601.33" x2="114.70" y2="608.16" stroke="#b5163f" stroke-width="0.8"/>
<line x1="113.10" y1="601.33" x2="116.30" y2="601.33" stroke="#b5163f" stroke-width="0.9"/>
<line x1="113.10" y1="608.16" x2="116.30" y2="608.16" stroke="#b5163f" stroke-width="0.9"/>
<path d="M114.70,602.96 L116.48,604.75 L114.70,606.53 L112.92,604.75 Z" fill="#da8a9f" stroke="#b5163f" stroke-width="0.8"/>
<line x1="119.80" y1="602.61" x2="119.80" y2="609.44" stroke="#b5163f" stroke-width="0.8"/>
<line x1="118.20" y1="602.61" x2="121.40" y2="602.61" stroke="#b5163f" stroke-width="0.9"/>
<line x1="118.20" y1="609.44" x2="121.40" y2="609.44" stroke="#b5163f" stroke-width="0.9"/>
<path d="M119.80,604.24 L121.58,606.03 L119.80,607.81 L118.02,606.03 Z" fill="#da8a9f" stroke="#b5163f" stroke-width="0.8"/>
<line x1="134.60" y1="604.32" x2="134.60" y2="611.15" stroke="#b5163f" stroke-width="0.8"/>
<line x1="133.00" y1="604.32" x2="136.20" y2="604.32" stroke="#b5163f" stroke-width="0.9"/>
<line x1="133.00" y1="611.15" x2="136.20" y2="611.15" stroke="#b5163f" stroke-width="0.9"/>
<path d="M134.60,605.95 L136.38,607.73 L134.60,609.52 L132.82,607.73 Z" fill="#da8a9f" stroke="#b5163f" stroke-width="0.8"/>
<line x1="149.60" y1="606.88" x2="149.60" y2="613.71" stroke="#b5163f" stroke-width="0.8"/>
<line x1="148.00" y1="606.88" x2="151.20" y2="606.88" stroke="#b5163f" stroke-width="0.9"/>
<line x1="148.00" y1="613.71" x2="151.20" y2="613.71" stroke="#b5163f" stroke-width="0.9"/>
<path d="M149.60,608.51 L151.38,610.30 L149.60,612.08 L147.82,610.30 Z" fill="#da8a9f" stroke="#b5163f" stroke-width="0.8"/>
<line x1="55.00" y1="555.64" x2="55.00" y2="562.47" stroke="#2b4b8c" stroke-width="0.8"/>
<line x1="53.40" y1="555.64" x2="56.60" y2="555.64" stroke="#2b4b8c" stroke-width="0.9"/>
<line x1="53.40" y1="562.47" x2="56.60" y2="562.47" stroke="#2b4b8c" stroke-width="0.9"/>
<path d="M55.00,557.26 L56.65,560.26 L53.35,560.26 Z" fill="#2b4b8c" stroke="#2b4b8c" stroke-width="0.8"/>
<line x1="69.80" y1="576.14" x2="69.80" y2="582.97" stroke="#2b4b8c" stroke-width="0.8"/>
<line x1="68.20" y1="576.14" x2="71.40" y2="576.14" stroke="#2b4b8c" stroke-width="0.9"/>
<line x1="68.20" y1="582.97" x2="71.40" y2="582.97" stroke="#2b4b8c" stroke-width="0.9"/>
<path d="M69.80,577.75 L71.45,580.75 L68.15,580.75 Z" fill="#2b4b8c" stroke="#2b4b8c" stroke-width="0.8"/>
<line x1="84.80" y1="592.79" x2="84.80" y2="599.62" stroke="#2b4b8c" stroke-width="0.8"/>
<line x1="83.20" y1="592.79" x2="86.40" y2="592.79" stroke="#2b4b8c" stroke-width="0.9"/>
<line x1="83.20" y1="599.62" x2="86.40" y2="599.62" stroke="#2b4b8c" stroke-width="0.9"/>
<path d="M84.80,594.41 L86.45,597.41 L83.15,597.41 Z" fill="#2b4b8c" stroke="#2b4b8c" stroke-width="0.8"/>
<line x1="99.90" y1="596.21" x2="99.90" y2="603.04" stroke="#2b4b8c" stroke-width="0.8"/>
<line x1="98.30" y1="596.21" x2="101.50" y2="596.21" stroke="#2b4b8c" stroke-width="0.9"/>
<line x1="98.30" y1="603.04" x2="101.50" y2="603.04" stroke="#2b4b8c" stroke-width="0.9"/>
<path d="M99.90,597.82 L101.55,600.82 L98.25,600.82 Z" fill="#2b4b8c" stroke="#2b4b8c" stroke-width="0.8"/>
<line x1="108.70" y1="598.77" x2="108.70" y2="605.60" stroke="#2b4b8c" stroke-width="0.8"/>
<line x1="107.10" y1="598.77" x2="110.30" y2="598.77" stroke="#2b4b8c" stroke-width="0.9"/>
<line x1="107.10" y1="605.60" x2="110.30" y2="605.60" stroke="#2b4b8c" stroke-width="0.9"/>
<path d="M108.70,600.38 L110.35,603.38 L107.05,603.38 Z" fill="#2b4b8c" stroke="#2b4b8c" stroke-width="0.8"/>
<line x1="114.70" y1="601.76" x2="114.70" y2="608.59" stroke="#2b4b8c" stroke-width="0.8"/>
<line x1="113.10" y1="601.76" x2="116.30" y2="601.76" stroke="#2b4b8c" stroke-width="0.9"/>
<line x1="113.10" y1="608.59" x2="116.30" y2="608.59" stroke="#2b4b8c" stroke-width="0.9"/>
<path d="M114.70,603.37 L116.35,606.37 L113.05,606.37 Z" fill="#2b4b8c" stroke="#2b4b8c" stroke-width="0.8"/>
<line x1="119.80" y1="603.04" x2="119.80" y2="609.87" stroke="#2b4b8c" stroke-width="0.8"/>
<line x1="118.20" y1="603.04" x2="121.40" y2="603.04" stroke="#2b4b8c" stroke-width="0.9"/>
<line x1="118.20" y1="609.87" x2="121.40" y2="609.87" stroke="#2b4b8c" stroke-width="0.9"/>
<path d="M119.80,604.65 L121.45,607.65 L118.15,607.65 Z" fill="#2b4b8c" stroke="#2b4b8c" stroke-width="0.8"/>
<line x1="134.60" y1="604.75" x2="134.60" y2="611.58" stroke="#2b4b8c" stroke-width="0.8"/>
<line x1="133.00" y1="604.75" x2="136.20" y2="604.75" stroke="#2b4b8c" stroke-width="0.9"/>
<line x1="133.00" y1="611.58" x2="136.20" y2="611.58" stroke="#2b4b8c" stroke-width="0.9"/>
<path d="M134.60,606.36 L136.25,609.36 L132.95,609.36 Z" fill="#2b4b8c" stroke="#2b4b8c" stroke-width="0.8"/>
<line x1="149.60" y1="607.31" x2="149.60" y2="614.14" stroke="#2b4b8c" stroke-width="0.8"/>
<line x1="148.00" y1="607.31" x2="151.20" y2="607.31" stroke="#2b4b8c" stroke-width="0.9"/>
<line x1="148.00" y1="614.14" x2="151.20" y2="614.14" stroke="#2b4b8c" stroke-width="0.9"/>
<path d="M149.60,608.92 L151.25,611.92 L147.95,611.92 Z" fill="#2b4b8c" stroke="#2b4b8c" stroke-width="0.8"/>
<line x1="55.00" y1="553.08" x2="55.00" y2="563.33" stroke="#2b4b8c" stroke-width="0.8"/>
<line x1="53.40" y1="553.08" x2="56.60" y2="553.08" stroke="#2b4b8c" stroke-width="0.9"/>
<line x1="53.40" y1="563.33" x2="56.60" y2="563.33" stroke="#2b4b8c" stroke-width="0.9"/>
<path d="M55.00,556.49 L56.57,559.34 L53.43,559.34 Z" fill="#95a5c5" stroke="#2b4b8c" stroke-width="0.8"/>
<line x1="69.80" y1="575.71" x2="69.80" y2="582.54" stroke="#2b4b8c" stroke-width="0.8"/>
<line x1="68.20" y1="575.71" x2="71.40" y2="575.71" stroke="#2b4b8c" stroke-width="0.9"/>
<line x1="68.20" y1="582.54" x2="71.40" y2="582.54" stroke="#2b4b8c" stroke-width="0.9"/>
<path d="M69.80,577.41 L71.37,580.26 L68.23,580.26 Z" fill="#95a5c5" stroke="#2b4b8c" stroke-width="0.8"/>
<line x1="84.80" y1="592.36" x2="84.80" y2="599.19" stroke="#2b4b8c" stroke-width="0.8"/>
<line x1="83.20" y1="592.36" x2="86.40" y2="592.36" stroke="#2b4b8c" stroke-width="0.9"/>
<line x1="83.20" y1="599.19" x2="86.40" y2="599.19" stroke="#2b4b8c" stroke-width="0.9"/>
<path d="M84.80,594.07 L86.37,596.92 L83.23,596.92 Z" fill="#95a5c5" stroke="#2b4b8c" stroke-width="0.8"/>
<line x1="99.90" y1="595.95" x2="99.90" y2="602.78" stroke="#2b4b8c" stroke-width="0.8"/>
<line x1="98.30" y1="595.95" x2="101.50" y2="595.95" stroke="#2b4b8c" stroke-width="0.9"/>
<line x1="98.30" y1="602.78" x2="101.50" y2="602.78" stroke="#2b4b8c" stroke-width="0.9"/>
<path d="M99.90,597.65 L101.47,600.50 L98.33,600.50 Z" fill="#95a5c5" stroke="#2b4b8c" stroke-width="0.8"/>
<line x1="108.70" y1="598.34" x2="108.70" y2="605.17" stroke="#2b4b8c" stroke-width="0.8"/>
<line x1="107.10" y1="598.34" x2="110.30" y2="598.34" stroke="#2b4b8c" stroke-width="0.9"/>
<line x1="107.10" y1="605.17" x2="110.30" y2="605.17" stroke="#2b4b8c" stroke-width="0.9"/>
<path d="M108.70,600.05 L110.27,602.90 L107.13,602.90 Z" fill="#95a5c5" stroke="#2b4b8c" stroke-width="0.8"/>
<line x1="114.70" y1="601.50" x2="114.70" y2="608.33" stroke="#2b4b8c" stroke-width="0.8"/>
<line x1="113.10" y1="601.50" x2="116.30" y2="601.50" stroke="#2b4b8c" stroke-width="0.9"/>
<line x1="113.10" y1="608.33" x2="116.30" y2="608.33" stroke="#2b4b8c" stroke-width="0.9"/>
<path d="M114.70,603.21 L116.27,606.06 L113.13,606.06 Z" fill="#95a5c5" stroke="#2b4b8c" stroke-width="0.8"/>
<line x1="119.80" y1="602.61" x2="119.80" y2="609.44" stroke="#2b4b8c" stroke-width="0.8"/>
<line x1="118.20" y1="602.61" x2="121.40" y2="602.61" stroke="#2b4b8c" stroke-width="0.9"/>
<line x1="118.20" y1="609.44" x2="121.40" y2="609.44" stroke="#2b4b8c" stroke-width="0.9"/>
<path d="M119.80,604.32 L121.37,607.17 L118.23,607.17 Z" fill="#95a5c5" stroke="#2b4b8c" stroke-width="0.8"/>
<line x1="134.60" y1="604.40" x2="134.60" y2="611.24" stroke="#2b4b8c" stroke-width="0.8"/>
<line x1="133.00" y1="604.40" x2="136.20" y2="604.40" stroke="#2b4b8c" stroke-width="0.9"/>
<line x1="133.00" y1="611.24" x2="136.20" y2="611.24" stroke="#2b4b8c" stroke-width="0.9"/>
<path d="M134.60,606.11 L136.17,608.96 L133.03,608.96 Z" fill="#95a5c5" stroke="#2b4b8c" stroke-width="0.8"/>
<line x1="149.60" y1="607.05" x2="149.60" y2="613.88" stroke="#2b4b8c" stroke-width="0.8"/>
<line x1="148.00" y1="607.05" x2="151.20" y2="607.05" stroke="#2b4b8c" stroke-width="0.9"/>
<line x1="148.00" y1="613.88" x2="151.20" y2="613.88" stroke="#2b4b8c" stroke-width="0.9"/>
<path d="M149.60,608.76 L151.17,611.61 L148.03,611.61 Z" fill="#95a5c5" stroke="#2b4b8c" stroke-width="0.8"/>
<line x1="55.00" y1="556.49" x2="55.00" y2="563.33" stroke="#9690cf" stroke-width="0.8"/>
<line x1="53.40" y1="556.49" x2="56.60" y2="556.49" stroke="#9690cf" stroke-width="0.9"/>
<line x1="53.40" y1="563.33" x2="56.60" y2="563.33" stroke="#9690cf" stroke-width="0.9"/>
<rect x="53.50" y="558.41" width="3.00" height="3.00" fill="#9690cf" stroke="#9690cf" stroke-width="0.8"/>
<line x1="69.80" y1="571.01" x2="69.80" y2="577.84" stroke="#9690cf" stroke-width="0.8"/>
<line x1="68.20" y1="571.01" x2="71.40" y2="571.01" stroke="#9690cf" stroke-width="0.9"/>
<line x1="68.20" y1="577.84" x2="71.40" y2="577.84" stroke="#9690cf" stroke-width="0.9"/>
<rect x="68.30" y="572.93" width="3.00" height="3.00" fill="#9690cf" stroke="#9690cf" stroke-width="0.8"/>
<line x1="84.80" y1="577.84" x2="84.80" y2="584.68" stroke="#9690cf" stroke-width="0.8"/>
<line x1="83.20" y1="577.84" x2="86.40" y2="577.84" stroke="#9690cf" stroke-width="0.9"/>
<line x1="83.20" y1="584.68" x2="86.40" y2="584.68" stroke="#9690cf" stroke-width="0.9"/>
<rect x="83.30" y="579.76" width="3.00" height="3.00" fill="#9690cf" stroke="#9690cf" stroke-width="0.8"/>
<line x1="99.90" y1="582.97" x2="99.90" y2="589.80" stroke="#9690cf" stroke-width="0.8"/>
<line x1="98.30" y1="582.97" x2="101.50" y2="582.97" stroke="#9690cf" stroke-width="0.9"/>
<line x1="98.30" y1="589.80" x2="101.50" y2="589.80" stroke="#9690cf" stroke-width="0.9"/>
<rect x="98.40" y="584.88" width="3.00" height="3.00" fill="#9690cf" stroke="#9690cf" stroke-width="0.8"/>
<line x1="108.70" y1="585.53" x2="108.70" y2="592.36" stroke="#9690cf" stroke-width="0.8"/>
<line x1="107.10" y1="585.53" x2="110.30" y2="585.53" stroke="#9690cf" stroke-width="0.9"/>
<line x1="107.10" y1="592.36" x2="110.30" y2="592.36" stroke="#9690cf" stroke-width="0.9"/>
<rect x="107.20" y="587.45" width="3.00" height="3.00" fill="#9690cf" stroke="#9690cf" stroke-width="0.8"/>
<line x1="114.70" y1="590.65" x2="114.70" y2="597.49" stroke="#9690cf" stroke-width="0.8"/>
<line x1="113.10" y1="590.65" x2="116.30" y2="590.65" stroke="#9690cf" stroke-width="0.9"/>
<line x1="113.10" y1="597.49" x2="116.30" y2="597.49" stroke="#9690cf" stroke-width="0.9"/>
<rect x="113.20" y="592.57" width="3.00" height="3.00" fill="#9690cf" stroke="#9690cf" stroke-width="0.8"/>
<line x1="119.80" y1="593.22" x2="119.80" y2="600.05" stroke="#9690cf" stroke-width="0.8"/>
<line x1="118.20" y1="593.22" x2="121.40" y2="593.22" stroke="#9690cf" stroke-width="0.9"/>
<line x1="118.20" y1="600.05" x2="121.40" y2="600.05" stroke="#9690cf" stroke-width="0.9"/>
<rect x="118.30" y="595.13" width="3.00" height="3.00" fill="#9690cf" stroke="#9690cf" stroke-width="0.8"/>
<line x1="134.60" y1="597.49" x2="134.60" y2="604.32" stroke="#9690cf" stroke-width="0.8"/>
<line x1="133.00" y1="597.49" x2="136.20" y2="597.49" stroke="#9690cf" stroke-width="0.9"/>
<line x1="133.00" y1="604.32" x2="136.20" y2="604.32" stroke="#9690cf" stroke-width="0.9"/>
<rect x="133.10" y="599.40" width="3.00" height="3.00" fill="#9690cf" stroke="#9690cf" stroke-width="0.8"/>
<line x1="149.60" y1="600.90" x2="149.60" y2="607.73" stroke="#9690cf" stroke-width="0.8"/>
<line x1="148.00" y1="600.90" x2="151.20" y2="600.90" stroke="#9690cf" stroke-width="0.9"/>
<line x1="148.00" y1="607.73" x2="151.20" y2="607.73" stroke="#9690cf" stroke-width="0.9"/>
<rect x="148.10" y="602.82" width="3.00" height="3.00" fill="#9690cf" stroke="#9690cf" stroke-width="0.8"/>
<line x1="55.00" y1="554.79" x2="55.00" y2="563.33" stroke="#9690cf" stroke-width="0.8"/>
<line x1="53.40" y1="554.79" x2="56.60" y2="554.79" stroke="#9690cf" stroke-width="0.9"/>
<line x1="53.40" y1="563.33" x2="56.60" y2="563.33" stroke="#9690cf" stroke-width="0.9"/>
<rect x="53.58" y="557.63" width="2.85" height="2.85" fill="#cac7e7" stroke="#9690cf" stroke-width="0.8"/>
<line x1="69.80" y1="570.16" x2="69.80" y2="576.99" stroke="#9690cf" stroke-width="0.8"/>
<line x1="68.20" y1="570.16" x2="71.40" y2="570.16" stroke="#9690cf" stroke-width="0.9"/>
<line x1="68.20" y1="576.99" x2="71.40" y2="576.99" stroke="#9690cf" stroke-width="0.9"/>
<rect x="68.38" y="572.15" width="2.85" height="2.85" fill="#cac7e7" stroke="#9690cf" stroke-width="0.8"/>
<line x1="84.80" y1="576.99" x2="84.80" y2="583.82" stroke="#9690cf" stroke-width="0.8"/>
<line x1="83.20" y1="576.99" x2="86.40" y2="576.99" stroke="#9690cf" stroke-width="0.9"/>
<line x1="83.20" y1="583.82" x2="86.40" y2="583.82" stroke="#9690cf" stroke-width="0.9"/>
<rect x="83.38" y="578.98" width="2.85" height="2.85" fill="#cac7e7" stroke="#9690cf" stroke-width="0.8"/>
<line x1="99.90" y1="582.11" x2="99.90" y2="588.95" stroke="#9690cf" stroke-width="0.8"/>
<line x1="98.30" y1="582.11" x2="101.50" y2="582.11" stroke="#9690cf" stroke-width="0.9"/>
<line x1="98.30" y1="588.95" x2="101.50" y2="588.95" stroke="#9690cf" stroke-width="0.9"/>
<rect x="98.48" y="584.11" width="2.85" height="2.85" fill="#cac7e7" stroke="#9690cf" stroke-width="0.8"/>
<line x1="108.70" y1="584.68" x2="108.70" y2="591.51" stroke="#9690cf" stroke-width="0.8"/>
<line x1="107.10" y1="584.68" x2="110.30" y2="584.68" stroke="#9690cf" stroke-width="0.9"/>
<line x1="107.10" y1="591.51" x2="110.30" y2="591.51" stroke="#9690cf" stroke-width="0.9"/>
<rect x="107.28" y="586.67" width="2.85" height="2.85" fill="#cac7e7" stroke="#9690cf" stroke-width="0.8"/>
<line x1="114.70" y1="589.80" x2="114.70" y2="596.63" stroke="#9690cf" stroke-width="0.8"/>
<line x1="113.10" y1="589.80" x2="116.30" y2="589.80" stroke="#9690cf" stroke-width="0.9"/>
<line x1="113.10" y1="596.63" x2="116.30" y2="596.63" stroke="#9690cf" stroke-width="0.9"/>
<rect x="113.28" y="591.79" width="2.85" height="2.85" fill="#cac7e7" stroke="#9690cf" stroke-width="0.8"/>
<line x1="119.80" y1="592.53" x2="119.80" y2="599.36" stroke="#9690cf" stroke-width="0.8"/>
<line x1="118.20" y1="592.53" x2="121.40" y2="592.53" stroke="#9690cf" stroke-width="0.9"/>
<line x1="118.20" y1="599.36" x2="121.40" y2="599.36" stroke="#9690cf" stroke-width="0.9"/>
<rect x="118.38" y="594.52" width="2.85" height="2.85" fill="#cac7e7" stroke="#9690cf" stroke-width="0.8"/>
<line x1="134.60" y1="597.06" x2="134.60" y2="603.89" stroke="#9690cf" stroke-width="0.8"/>
<line x1="133.00" y1="597.06" x2="136.20" y2="597.06" stroke="#9690cf" stroke-width="0.9"/>
<line x1="133.00" y1="603.89" x2="136.20" y2="603.89" stroke="#9690cf" stroke-width="0.9"/>
<rect x="133.17" y="599.05" width="2.85" height="2.85" fill="#cac7e7" stroke="#9690cf" stroke-width="0.8"/>
<line x1="149.60" y1="600.39" x2="149.60" y2="607.22" stroke="#9690cf" stroke-width="0.8"/>
<line x1="148.00" y1="600.39" x2="151.20" y2="600.39" stroke="#9690cf" stroke-width="0.9"/>
<line x1="148.00" y1="607.22" x2="151.20" y2="607.22" stroke="#9690cf" stroke-width="0.9"/>
<rect x="148.17" y="602.38" width="2.85" height="2.85" fill="#cac7e7" stroke="#9690cf" stroke-width="0.8"/>
<line x1="39.80" y1="530.50" x2="39.80" y2="633.20" stroke="#111" stroke-width="1.4"/>
<line x1="39.10" y1="632.50" x2="162.50" y2="632.50" stroke="#111" stroke-width="1.4"/>
<line x1="36.30" y1="632.50" x2="39.80" y2="632.50" stroke="#231f20" stroke-width="0.9"/>
<text x="33.90" y="635.50" font-size="8.4" fill="#231f20" stroke="#231f20" stroke-width="0.15" text-anchor="end" textLength="4.25" lengthAdjust="spacingAndGlyphs">0</text>
<line x1="36.30" y1="589.80" x2="39.80" y2="589.80" stroke="#231f20" stroke-width="0.9"/>
<text x="33.90" y="592.80" font-size="8.4" fill="#231f20" stroke="#231f20" stroke-width="0.15" text-anchor="end" textLength="8.50" lengthAdjust="spacingAndGlyphs">50</text>
<line x1="36.30" y1="547.10" x2="39.80" y2="547.10" stroke="#231f20" stroke-width="0.9"/>
<text x="33.90" y="550.10" font-size="8.4" fill="#231f20" stroke="#231f20" stroke-width="0.15" text-anchor="end" textLength="12.75" lengthAdjust="spacingAndGlyphs">100</text>
<line x1="39.80" y1="632.50" x2="39.80" y2="634.50" stroke="#231f20" stroke-width="0.9"/>
<text x="40.10" y="645.10" font-size="8.4" fill="#231f20" stroke="#231f20" stroke-width="0.15" text-anchor="end">2</text>
<text x="40.00" y="641.80" font-size="5.6" fill="#231f20" stroke="#231f20" stroke-width="0.15">-2</text>
<line x1="69.64" y1="632.50" x2="69.64" y2="634.50" stroke="#231f20" stroke-width="0.9"/>
<text x="69.94" y="645.10" font-size="8.4" fill="#231f20" stroke="#231f20" stroke-width="0.15" text-anchor="end">2</text>
<text x="69.84" y="641.80" font-size="5.6" fill="#231f20" stroke="#231f20" stroke-width="0.15">0</text>
<line x1="99.48" y1="632.50" x2="99.48" y2="634.50" stroke="#231f20" stroke-width="0.9"/>
<text x="99.78" y="645.10" font-size="8.4" fill="#231f20" stroke="#231f20" stroke-width="0.15" text-anchor="end">2</text>
<text x="99.68" y="641.80" font-size="5.6" fill="#231f20" stroke="#231f20" stroke-width="0.15">2</text>
<line x1="129.32" y1="632.50" x2="129.32" y2="634.50" stroke="#231f20" stroke-width="0.9"/>
<text x="129.62" y="645.10" font-size="8.4" fill="#231f20" stroke="#231f20" stroke-width="0.15" text-anchor="end">2</text>
<text x="129.52" y="641.80" font-size="5.6" fill="#231f20" stroke="#231f20" stroke-width="0.15">4</text>
<line x1="159.16" y1="632.50" x2="159.16" y2="634.50" stroke="#231f20" stroke-width="0.9"/>
<text x="159.46" y="645.10" font-size="8.4" fill="#231f20" stroke="#231f20" stroke-width="0.15" text-anchor="end">2</text>
<text x="159.36" y="641.80" font-size="5.6" fill="#231f20" stroke="#231f20" stroke-width="0.15">6</text>
<text x="16.00" y="581.30" font-size="9.0" fill="#231f20" stroke="#231f20" stroke-width="0.15" text-anchor="middle" textLength="80.00" lengthAdjust="spacingAndGlyphs" transform="rotate(-90 16.00 581.30)">Relative cell viability (%)</text>
<text x="68.00" y="658.20" font-size="9.0" fill="#231f20" stroke="#231f20" stroke-width="0.15" textLength="65.70" lengthAdjust="spacingAndGlyphs">Concentration (μM)</text>
<line x1="169.85" y1="532.60" x2="170.75" y2="532.60" stroke="#9690cf" stroke-width="0.9"/>
<line x1="171.15" y1="532.60" x2="172.05" y2="532.60" stroke="#9690cf" stroke-width="0.9"/>
<line x1="176.95" y1="532.60" x2="177.85" y2="532.60" stroke="#9690cf" stroke-width="0.9"/>
<line x1="178.25" y1="532.60" x2="179.15" y2="532.60" stroke="#9690cf" stroke-width="0.9"/>
<rect x="172.84" y="530.94" width="3.32" height="3.32" fill="#cac7e7" stroke="#9690cf" stroke-width="0.8"/>
<text x="182.50" y="535.30" font-size="7.8" fill="#231f20" stroke="#231f20" stroke-width="0.15" textLength="50.30" lengthAdjust="spacingAndGlyphs">ARP-1 CTR-KO</text>
<line x1="169.90" y1="543.37" x2="179.10" y2="543.37" stroke="#9690cf" stroke-width="0.9"/>
<rect x="173.35" y="542.22" width="2.30" height="2.30" fill="#9690cf" stroke="#9690cf" stroke-width="0.8"/>
<text x="182.50" y="546.07" font-size="7.8" fill="#231f20" stroke="#231f20" stroke-width="0.15" textLength="49.05" lengthAdjust="spacingAndGlyphs">ARP-1 MIF-KO</text>
<line x1="169.85" y1="554.14" x2="170.75" y2="554.14" stroke="#2b4b8c" stroke-width="0.9"/>
<line x1="171.15" y1="554.14" x2="172.05" y2="554.14" stroke="#2b4b8c" stroke-width="0.9"/>
<line x1="176.95" y1="554.14" x2="177.85" y2="554.14" stroke="#2b4b8c" stroke-width="0.9"/>
<line x1="178.25" y1="554.14" x2="179.15" y2="554.14" stroke="#2b4b8c" stroke-width="0.9"/>
<path d="M174.50,552.14 L176.33,555.47 L172.67,555.47 Z" fill="#95a5c5" stroke="#2b4b8c" stroke-width="0.8"/>
<text x="182.50" y="556.84" font-size="7.8" fill="#231f20" stroke="#231f20" stroke-width="0.15" textLength="53.30" lengthAdjust="spacingAndGlyphs">MM.1S CTR-KO</text>
<line x1="169.90" y1="564.91" x2="179.10" y2="564.91" stroke="#2b4b8c" stroke-width="0.9"/>
<path d="M174.50,563.53 L175.76,565.83 L173.24,565.83 Z" fill="#2b4b8c" stroke="#2b4b8c" stroke-width="0.8"/>
<text x="182.50" y="567.61" font-size="7.8" fill="#231f20" stroke="#231f20" stroke-width="0.15" textLength="51.55" lengthAdjust="spacingAndGlyphs">MM.1S MIF-KO</text>
<line x1="169.85" y1="575.68" x2="170.75" y2="575.68" stroke="#b5163f" stroke-width="0.9"/>
<line x1="171.15" y1="575.68" x2="172.05" y2="575.68" stroke="#b5163f" stroke-width="0.9"/>
<line x1="176.95" y1="575.68" x2="177.85" y2="575.68" stroke="#b5163f" stroke-width="0.9"/>
<line x1="178.25" y1="575.68" x2="179.15" y2="575.68" stroke="#b5163f" stroke-width="0.9"/>
<path d="M174.50,573.60 L176.58,575.68 L174.50,577.76 L172.42,575.68 Z" fill="#da8a9f" stroke="#b5163f" stroke-width="0.8"/>
<text x="182.50" y="578.38" font-size="7.8" fill="#231f20" stroke="#231f20" stroke-width="0.15" textLength="54.05" lengthAdjust="spacingAndGlyphs">MM.1R CTR-KO</text>
<line x1="169.90" y1="586.45" x2="179.10" y2="586.45" stroke="#b5163f" stroke-width="0.9"/>
<path d="M174.50,585.01 L175.94,586.45 L174.50,587.89 L173.06,586.45 Z" fill="#b5163f" stroke="#b5163f" stroke-width="0.8"/>
<text x="182.50" y="589.15" font-size="7.8" fill="#231f20" stroke="#231f20" stroke-width="0.15" textLength="52.30" lengthAdjust="spacingAndGlyphs">MM.1R MIF-KO</text>
<line x1="169.85" y1="597.22" x2="170.75" y2="597.22" stroke="#6cb84a" stroke-width="0.9"/>
<line x1="171.15" y1="597.22" x2="172.05" y2="597.22" stroke="#6cb84a" stroke-width="0.9"/>
<line x1="176.95" y1="597.22" x2="177.85" y2="597.22" stroke="#6cb84a" stroke-width="0.9"/>
<line x1="178.25" y1="597.22" x2="179.15" y2="597.22" stroke="#6cb84a" stroke-width="0.9"/>
<path d="M174.50,599.21 L176.33,595.89 L172.67,595.89 Z" fill="#b5dca4" stroke="#6cb84a" stroke-width="0.8"/>
<text x="182.50" y="599.92" font-size="7.8" fill="#231f20" stroke="#231f20" stroke-width="0.15" textLength="69.80" lengthAdjust="spacingAndGlyphs">KMS-12-BM CTR-KO</text>
<line x1="169.90" y1="607.99" x2="179.10" y2="607.99" stroke="#6cb84a" stroke-width="0.9"/>
<path d="M174.50,609.37 L175.76,607.07 L173.24,607.07 Z" fill="#6cb84a" stroke="#6cb84a" stroke-width="0.8"/>
<text x="182.50" y="610.69" font-size="7.8" fill="#231f20" stroke="#231f20" stroke-width="0.15" textLength="68.30" lengthAdjust="spacingAndGlyphs">KMS-12-BM MIF-KO</text>
<line x1="169.85" y1="618.76" x2="170.75" y2="618.76" stroke="#e69a2e" stroke-width="0.9"/>
<line x1="171.15" y1="618.76" x2="172.05" y2="618.76" stroke="#e69a2e" stroke-width="0.9"/>
<line x1="176.95" y1="618.76" x2="177.85" y2="618.76" stroke="#e69a2e" stroke-width="0.9"/>
<line x1="178.25" y1="618.76" x2="179.15" y2="618.76" stroke="#e69a2e" stroke-width="0.9"/>
<circle cx="174.50" cy="618.76" r="1.66" fill="#f2cc96" stroke="#e69a2e" stroke-width="0.8"/>
<text x="182.50" y="621.46" font-size="7.8" fill="#231f20" stroke="#231f20" stroke-width="0.15" textLength="47.30" lengthAdjust="spacingAndGlyphs">U266 CTR-KO</text>
<line x1="169.90" y1="629.53" x2="179.10" y2="629.53" stroke="#e69a2e" stroke-width="0.9"/>
<circle cx="174.50" cy="629.53" r="1.15" fill="#e69a2e" stroke="#e69a2e" stroke-width="0.8"/>
<text x="182.50" y="632.23" font-size="7.8" fill="#231f20" stroke="#231f20" stroke-width="0.15" textLength="46.05" lengthAdjust="spacingAndGlyphs">U266 MIF-KO</text>
<rect x="0.5" y="0.5" width="519" height="667" fill="none" stroke="#000" stroke-width="1.2"/>
</svg></body></html>
